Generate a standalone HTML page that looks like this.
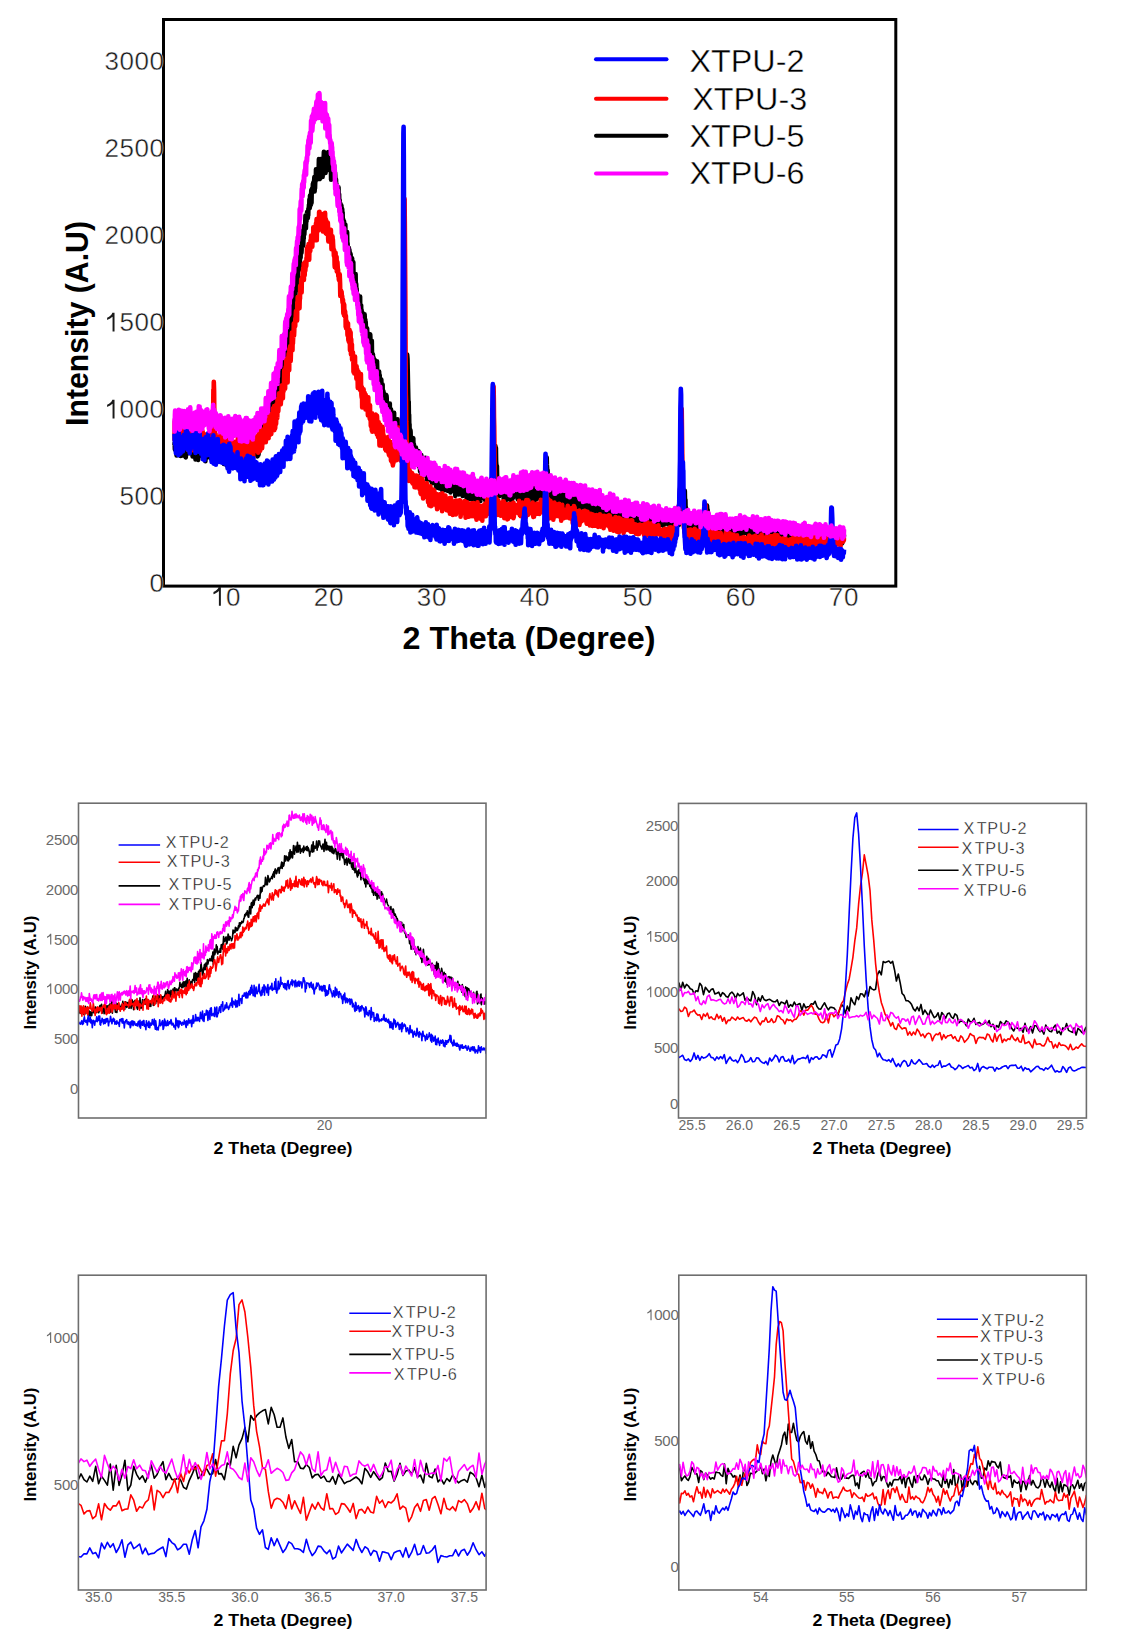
<!DOCTYPE html>
<html><head><meta charset="utf-8"><style>
html,body{margin:0;padding:0;background:#fff;}
svg{display:block;}
</style></head><body>
<svg width="1123" height="1651" viewBox="0 0 1123 1651">
<rect width="1123" height="1651" fill="#fff"/>
<defs><clipPath id="cmain"><rect x="165" y="21" width="729" height="563"/></clipPath></defs>
<g clip-path="url(#cmain)">
<polyline fill="none" stroke="#000000" stroke-width="4.6" stroke-linejoin="round"  points="174.5,445.2 174.7,442.8 174.9,449.4 175.1,447.4 175.3,437.4 175.5,443.8 175.7,450.5 175.9,443.3 176.1,447.0 176.4,439.5 176.6,455.5 176.8,446.8 177.0,442.3 177.2,453.8 177.4,451.1 177.6,444.9 177.8,447.1 178.0,448.9 178.2,445.8 178.4,454.4 178.6,451.6 178.8,438.5 179.0,450.6 179.2,445.1 179.4,447.6 179.7,443.0 179.9,445.6 180.1,445.3 180.3,441.4 180.5,445.7 180.7,455.9 180.9,450.7 181.1,440.1 181.3,441.9 181.5,448.5 181.7,455.4 181.9,450.9 182.1,436.8 182.3,441.2 182.5,441.1 182.7,455.5 182.9,454.2 183.2,450.3 183.4,454.2 183.6,446.7 183.8,452.9 184.0,444.9 184.2,448.4 184.4,450.2 184.6,444.0 184.8,445.1 185.0,446.7 185.2,449.2 185.4,447.6 185.6,457.1 185.8,457.3 186.0,450.8 186.2,446.7 186.4,438.4 186.7,445.4 186.9,452.4 187.1,449.9 187.3,453.8 187.5,447.6 187.7,447.9 187.9,447.6 188.1,446.1 188.3,442.2 188.5,444.0 188.7,453.3 188.9,443.3 189.1,452.7 189.3,445.6 189.5,447.1 189.7,439.1 189.9,448.1 190.2,448.1 190.4,449.0 190.6,443.3 190.8,446.1 191.0,449.1 191.2,443.5 191.4,437.2 191.6,439.6 191.8,440.2 192.0,450.5 192.2,448.3 192.4,447.1 192.6,456.5 192.8,439.3 193.0,455.2 193.2,445.9 193.5,454.2 193.7,447.4 193.9,443.9 194.1,445.4 194.3,452.4 194.5,451.4 194.7,443.4 194.9,448.5 195.1,447.6 195.3,443.5 195.5,459.5 195.7,446.9 195.9,441.9 196.1,439.3 196.3,444.9 196.5,452.0 196.7,443.5 197.0,439.0 197.2,451.6 197.4,452.1 197.6,449.2 197.8,450.6 198.0,458.8 198.2,459.9 198.4,455.2 198.6,451.8 198.8,446.5 199.0,451.4 199.2,447.9 199.4,441.9 199.6,437.7 199.8,444.5 200.0,453.8 200.2,444.0 200.5,449.0 200.7,447.3 200.9,444.2 201.1,445.2 201.3,455.7 201.5,454.9 201.7,447.9 201.9,445.7 202.1,438.8 202.3,446.3 202.5,451.2 202.7,451.8 202.9,453.0 203.1,456.0 203.3,456.0 203.5,452.3 203.8,449.1 204.0,453.5 204.2,449.6 204.4,451.1 204.6,450.9 204.8,452.0 205.0,448.4 205.2,449.8 205.4,461.2 205.6,448.6 205.8,449.5 206.0,453.1 206.2,449.2 206.4,453.6 206.6,449.6 206.8,454.6 207.0,446.9 207.3,448.6 207.5,457.5 207.7,453.8 207.9,446.9 208.1,448.4 208.3,449.8 208.5,456.2 208.7,454.0 208.9,449.8 209.1,449.2 209.3,450.8 209.5,454.9 209.7,451.9 209.9,453.3 210.1,456.6 210.3,456.4 210.6,455.0 210.8,458.4 211.0,448.7 211.2,447.3 211.4,446.8 211.6,455.0 211.8,454.9 212.0,450.1 212.2,453.6 212.4,452.9 212.6,453.0 212.8,459.4 213.0,445.2 213.2,458.6 213.4,459.4 213.6,447.7 213.8,457.1 214.1,446.5 214.3,450.1 214.5,450.1 214.7,453.7 214.9,458.9 215.1,457.8 215.3,451.5 215.5,452.6 215.7,458.0 215.9,457.7 216.1,456.4 216.3,452.5 216.5,450.1 216.7,447.9 216.9,454.2 217.1,445.4 217.3,448.9 217.6,445.3 217.8,456.8 218.0,449.8 218.2,447.3 218.4,461.4 218.6,448.2 218.8,450.8 219.0,448.4 219.2,452.1 219.4,447.4 219.6,455.1 219.8,455.6 220.0,449.6 220.2,449.6 220.4,459.7 220.6,447.4 220.8,447.6 221.1,448.3 221.3,456.9 221.5,447.3 221.7,451.0 221.9,449.0 222.1,453.8 222.3,455.7 222.5,457.1 222.7,456.7 222.9,449.4 223.1,457.6 223.3,456.8 223.5,452.3 223.7,455.2 223.9,463.9 224.1,457.2 224.4,455.8 224.6,446.3 224.8,450.9 225.0,459.0 225.2,459.6 225.4,456.5 225.6,453.2 225.8,458.1 226.0,452.3 226.2,461.2 226.4,452.8 226.6,448.7 226.8,465.5 227.0,454.7 227.2,453.3 227.4,452.4 227.6,454.1 227.9,455.0 228.1,453.3 228.3,454.2 228.5,454.3 228.7,447.2 228.9,449.9 229.1,450.4 229.3,457.9 229.5,457.3 229.7,449.9 229.9,460.0 230.1,450.1 230.3,461.5 230.5,444.9 230.7,449.1 230.9,457.8 231.2,457.4 231.4,465.0 231.6,455.5 231.8,449.5 232.0,452.3 232.2,456.6 232.4,445.5 232.6,452.7 232.8,453.4 233.0,456.8 233.2,452.6 233.4,444.5 233.6,453.3 233.8,463.5 234.0,454.4 234.2,446.3 234.4,449.8 234.7,458.0 234.9,453.9 235.1,462.6 235.3,452.5 235.5,459.8 235.7,458.1 235.9,458.3 236.1,459.0 236.3,447.4 236.5,448.5 236.7,457.0 236.9,455.1 237.1,447.5 237.3,456.9 237.5,457.7 237.7,459.6 237.9,448.0 238.2,454.7 238.4,455.5 238.6,457.5 238.8,459.8 239.0,450.9 239.2,459.1 239.4,457.9 239.6,463.4 239.8,460.6 240.0,457.8 240.2,457.6 240.4,462.5 240.6,458.2 240.8,455.9 241.0,466.1 241.2,452.3 241.4,456.4 241.7,461.5 241.9,456.4 242.1,452.9 242.3,455.0 242.5,454.7 242.7,454.8 242.9,451.7 243.1,461.3 243.3,457.6 243.5,452.9 243.7,454.5 243.9,459.7 244.1,455.9 244.3,457.9 244.5,454.4 244.7,462.4 245.0,462.2 245.2,461.3 245.4,454.9 245.6,443.1 245.8,449.4 246.0,448.2 246.2,454.0 246.4,446.3 246.6,452.2 246.8,453.5 247.0,448.6 247.2,459.6 247.4,464.3 247.6,459.3 247.8,446.7 248.0,449.1 248.2,452.4 248.5,454.4 248.7,453.9 248.9,451.1 249.1,457.1 249.3,449.0 249.5,457.4 249.7,446.0 249.9,454.0 250.1,456.7 250.3,453.5 250.5,456.5 250.7,452.5 250.9,460.5 251.1,453.9 251.3,451.0 251.5,449.3 251.8,452.9 252.0,444.9 252.2,458.9 252.4,451.5 252.6,452.7 252.8,450.1 253.0,451.2 253.2,442.9 253.4,449.5 253.6,453.9 253.8,437.8 254.0,448.7 254.2,449.5 254.4,444.1 254.6,451.2 254.8,449.2 255.0,443.6 255.3,453.5 255.5,449.7 255.7,442.5 255.9,438.0 256.1,447.1 256.3,447.0 256.5,440.8 256.7,453.4 256.9,449.3 257.1,449.5 257.3,455.6 257.5,456.3 257.7,446.8 257.9,439.9 258.1,440.8 258.3,437.5 258.5,454.8 258.8,443.9 259.0,436.1 259.2,446.9 259.4,448.7 259.6,440.0 259.8,441.3 260.0,437.7 260.2,440.6 260.4,433.8 260.6,436.2 260.8,438.0 261.0,440.8 261.2,434.8 261.4,441.4 261.6,432.6 261.8,431.1 262.1,431.7 262.3,442.8 262.5,433.4 262.7,433.3 262.9,430.2 263.1,442.4 263.3,436.9 263.5,433.7 263.7,425.4 263.9,435.4 264.1,427.0 264.3,430.5 264.5,420.5 264.7,428.5 264.9,438.3 265.1,430.7 265.3,427.3 265.6,421.4 265.8,424.1 266.0,428.6 266.2,433.4 266.4,425.9 266.6,426.2 266.8,417.9 267.0,419.5 267.2,431.6 267.4,435.6 267.6,425.2 267.8,421.0 268.0,427.2 268.2,424.2 268.4,414.4 268.6,416.3 268.8,429.3 269.1,417.3 269.3,417.8 269.5,419.3 269.7,414.5 269.9,413.8 270.1,403.9 270.3,414.6 270.5,419.4 270.7,417.6 270.9,410.2 271.1,402.8 271.3,409.6 271.5,409.4 271.7,410.3 271.9,413.7 272.1,410.2 272.4,416.9 272.6,405.2 272.8,406.1 273.0,407.1 273.2,412.4 273.4,408.3 273.6,409.5 273.8,403.8 274.0,406.5 274.2,402.1 274.4,398.2 274.6,395.5 274.8,408.1 275.0,403.4 275.2,407.1 275.4,392.8 275.6,404.3 275.9,390.8 276.1,400.9 276.3,391.2 276.5,399.6 276.7,397.0 276.9,394.2 277.1,393.6 277.3,394.3 277.5,388.7 277.7,384.7 277.9,385.9 278.1,393.1 278.3,400.5 278.5,387.8 278.7,401.1 278.9,382.7 279.1,382.1 279.4,392.4 279.6,380.6 279.8,387.2 280.0,374.5 280.2,385.9 280.4,385.4 280.6,383.4 280.8,376.9 281.0,383.8 281.2,362.5 281.4,377.7 281.6,363.4 281.8,375.1 282.0,374.2 282.2,375.6 282.4,374.9 282.6,366.3 282.9,360.4 283.1,366.2 283.3,371.5 283.5,363.4 283.7,368.6 283.9,376.8 284.1,360.6 284.3,371.5 284.5,363.2 284.7,357.6 284.9,359.4 285.1,357.4 285.3,344.5 285.5,347.2 285.7,342.3 285.9,349.7 286.2,348.4 286.4,337.1 286.6,351.7 286.8,344.1 287.0,344.3 287.2,342.0 287.4,338.8 287.6,340.8 287.8,335.0 288.0,344.9 288.2,334.6 288.4,343.8 288.6,328.2 288.8,327.6 289.0,334.3 289.2,335.1 289.4,330.5 289.7,325.2 289.9,338.0 290.1,333.2 290.3,318.5 290.5,325.0 290.7,327.6 290.9,330.3 291.1,321.2 291.3,325.5 291.5,315.9 291.7,315.4 291.9,305.6 292.1,317.6 292.3,307.9 292.5,314.5 292.7,312.3 292.9,307.3 293.2,308.6 293.4,295.4 293.6,302.2 293.8,303.8 294.0,288.8 294.2,301.1 294.4,297.8 294.6,295.6 294.8,296.7 295.0,289.0 295.2,284.9 295.4,294.7 295.6,289.7 295.8,287.7 296.0,291.0 296.2,289.2 296.5,283.5 296.7,284.6 296.9,277.6 297.1,273.9 297.3,275.5 297.5,273.6 297.7,277.9 297.9,275.1 298.1,269.2 298.3,267.1 298.5,268.8 298.7,264.6 298.9,267.0 299.1,270.0 299.3,261.7 299.5,263.9 299.7,268.6 300.0,255.3 300.2,256.1 300.4,253.2 300.6,257.6 300.8,246.9 301.0,250.4 301.2,246.7 301.4,253.2 301.6,250.3 301.8,241.3 302.0,246.3 302.2,244.8 302.4,236.4 302.6,236.7 302.8,239.9 303.0,230.5 303.2,245.7 303.5,237.6 303.7,238.7 303.9,227.6 304.1,225.8 304.3,234.6 304.5,230.4 304.7,225.2 304.9,226.1 305.1,226.1 305.3,221.4 305.5,215.5 305.7,223.3 305.9,228.3 306.1,222.2 306.3,220.7 306.5,221.3 306.8,214.8 307.0,213.6 307.2,211.7 307.4,212.7 307.6,212.8 307.8,218.2 308.0,213.8 308.2,215.4 308.4,208.5 308.6,209.7 308.8,208.3 309.0,204.5 309.2,207.6 309.4,199.8 309.6,198.9 309.8,208.0 310.0,195.6 310.3,202.9 310.5,203.9 310.7,200.8 310.9,204.6 311.1,195.5 311.3,190.1 311.5,202.9 311.7,192.1 311.9,190.3 312.1,188.9 312.3,188.0 312.5,188.1 312.7,191.8 312.9,183.9 313.1,185.9 313.3,182.6 313.6,184.2 313.8,186.2 314.0,184.3 314.2,180.0 314.4,177.0 314.6,191.4 314.8,187.4 315.0,188.4 315.2,181.9 315.4,181.9 315.6,176.7 315.8,178.6 316.0,169.4 316.2,178.9 316.4,178.8 316.6,178.8 316.8,175.5 317.1,172.5 317.3,175.4 317.5,177.2 317.7,179.1 317.9,170.5 318.1,174.0 318.3,175.9 318.5,171.8 318.7,168.4 318.9,159.1 319.1,161.0 319.3,174.0 319.5,171.4 319.7,179.0 319.9,178.8 320.1,177.9 320.3,163.2 320.6,168.5 320.8,175.2 321.0,170.8 321.2,169.6 321.4,170.2 321.6,158.8 321.8,176.5 322.0,168.5 322.2,164.6 322.4,163.1 322.6,177.0 322.8,164.3 323.0,171.7 323.2,168.0 323.4,173.1 323.6,160.5 323.9,151.9 324.1,158.9 324.3,165.7 324.5,173.3 324.7,159.2 324.9,157.4 325.1,169.5 325.3,158.6 325.5,173.0 325.7,170.1 325.9,162.5 326.1,170.6 326.3,159.2 326.5,155.6 326.7,162.8 326.9,160.5 327.1,154.7 327.4,160.4 327.6,156.3 327.8,155.7 328.0,169.0 328.2,152.0 328.4,157.5 328.6,163.1 328.8,159.8 329.0,162.7 329.2,163.4 329.4,170.1 329.6,167.3 329.8,167.2 330.0,160.1 330.2,163.6 330.4,164.4 330.6,167.5 330.9,160.7 331.1,179.8 331.3,172.9 331.5,163.6 331.7,171.2 331.9,166.1 332.1,161.7 332.3,166.3 332.5,178.7 332.7,172.6 332.9,178.0 333.1,170.0 333.3,167.6 333.5,174.8 333.7,171.4 333.9,175.6 334.1,165.1 334.4,175.0 334.6,175.1 334.8,174.1 335.0,172.4 335.2,175.1 335.4,179.8 335.6,180.3 335.8,178.9 336.0,179.6 336.2,185.6 336.4,187.8 336.6,187.2 336.8,184.8 337.0,190.6 337.2,195.1 337.4,192.4 337.7,194.5 337.9,190.1 338.1,197.0 338.3,197.6 338.5,187.2 338.7,195.6 338.9,203.7 339.1,194.0 339.3,203.0 339.5,206.3 339.7,200.0 339.9,211.4 340.1,205.7 340.3,203.6 340.5,203.7 340.7,211.1 340.9,212.0 341.2,211.0 341.4,205.6 341.6,221.5 341.8,209.6 342.0,213.3 342.2,209.0 342.4,222.3 342.6,212.2 342.8,223.2 343.0,218.5 343.2,222.9 343.4,233.4 343.6,223.4 343.8,222.2 344.0,221.0 344.2,229.3 344.4,232.9 344.7,224.9 344.9,231.1 345.1,225.3 345.3,224.5 345.5,233.6 345.7,234.3 345.9,238.0 346.1,245.3 346.3,236.7 346.5,234.2 346.7,233.6 346.9,239.9 347.1,232.0 347.3,244.3 347.5,243.0 347.7,246.5 348.0,247.1 348.2,247.3 348.4,250.3 348.6,250.1 348.8,247.8 349.0,249.7 349.2,256.1 349.4,249.9 349.6,257.1 349.8,252.2 350.0,255.1 350.2,265.4 350.4,262.3 350.6,254.1 350.8,262.6 351.0,263.7 351.2,263.8 351.5,262.3 351.7,261.2 351.9,266.3 352.1,258.3 352.3,269.7 352.5,270.3 352.7,270.1 352.9,269.6 353.1,264.7 353.3,262.0 353.5,275.1 353.7,275.4 353.9,272.8 354.1,277.3 354.3,273.9 354.5,283.7 354.8,276.1 355.0,290.9 355.2,279.7 355.4,280.2 355.6,274.0 355.8,289.4 356.0,283.2 356.2,284.5 356.4,292.6 356.6,288.3 356.8,294.3 357.0,296.7 357.2,299.3 357.4,294.6 357.6,299.3 357.8,304.8 358.0,295.4 358.3,305.2 358.5,295.7 358.7,298.6 358.9,304.3 359.1,308.6 359.3,306.6 359.5,309.5 359.7,306.2 359.9,307.1 360.1,296.6 360.3,316.5 360.5,310.9 360.7,306.9 360.9,305.8 361.1,305.4 361.3,316.3 361.5,309.5 361.8,323.7 362.0,315.8 362.2,312.1 362.4,313.6 362.6,323.6 362.8,322.0 363.0,328.5 363.2,323.4 363.4,327.0 363.6,320.9 363.8,326.1 364.0,319.7 364.2,325.4 364.4,327.8 364.6,314.4 364.8,319.3 365.1,337.1 365.3,319.6 365.5,324.7 365.7,321.8 365.9,328.5 366.1,344.5 366.3,335.8 366.5,349.3 366.7,344.4 366.9,340.5 367.1,328.2 367.3,337.2 367.5,336.9 367.7,334.3 367.9,346.0 368.1,333.5 368.3,340.2 368.6,348.9 368.8,347.1 369.0,345.8 369.2,341.0 369.4,336.4 369.6,348.6 369.8,348.9 370.0,336.4 370.2,334.3 370.4,338.1 370.6,349.4 370.8,353.8 371.0,347.9 371.2,351.1 371.4,359.1 371.6,346.0 371.8,340.9 372.1,361.8 372.3,362.2 372.5,361.2 372.7,366.9 372.9,354.4 373.1,369.6 373.3,356.9 373.5,359.4 373.7,358.0 373.9,373.0 374.1,363.4 374.3,363.4 374.5,360.3 374.7,364.3 374.9,371.2 375.1,361.1 375.4,360.3 375.6,361.3 375.8,375.3 376.0,368.1 376.2,377.8 376.4,373.9 376.6,368.9 376.8,383.3 377.0,361.2 377.2,368.3 377.4,381.4 377.6,380.9 377.8,378.6 378.0,379.7 378.2,387.0 378.4,381.1 378.6,390.5 378.9,385.5 379.1,371.5 379.3,383.5 379.5,386.2 379.7,375.0 379.9,383.3 380.1,382.1 380.3,390.0 380.5,380.6 380.7,389.9 380.9,383.3 381.1,385.4 381.3,379.5 381.5,384.5 381.7,391.2 381.9,398.1 382.1,394.2 382.4,397.1 382.6,384.5 382.8,396.8 383.0,408.0 383.2,393.1 383.4,391.1 383.6,402.0 383.8,392.9 384.0,405.5 384.2,396.9 384.4,399.9 384.6,397.7 384.8,397.6 385.0,404.6 385.2,396.6 385.4,404.8 385.6,401.8 385.9,394.8 386.1,409.0 386.3,403.8 386.5,395.6 386.7,398.1 386.9,409.9 387.1,410.2 387.3,404.0 387.5,411.5 387.7,407.9 387.9,416.7 388.1,405.8 388.3,419.2 388.5,409.8 388.7,407.1 388.9,415.4 389.2,421.1 389.4,419.9 389.6,424.1 389.8,403.6 390.0,425.2 390.2,422.0 390.4,413.4 390.6,415.5 390.8,410.4 391.0,409.3 391.2,414.6 391.4,418.0 391.6,421.2 391.8,419.5 392.0,413.6 392.2,415.9 392.4,416.3 392.7,429.5 392.9,424.8 393.1,424.8 393.3,424.4 393.5,427.7 393.7,418.4 393.9,416.7 394.1,412.9 394.3,426.3 394.5,424.3 394.7,423.6 394.9,424.6 395.1,429.5 395.3,420.9 395.5,436.8 395.7,428.7 396.0,436.9 396.2,423.5 396.4,434.9 396.6,434.1 396.8,428.3 397.0,434.3 397.2,427.7 397.4,431.6 397.6,419.4 397.8,437.0 398.0,435.3 398.2,428.2 398.4,431.1 398.6,429.7 398.8,434.1 399.0,427.8 399.2,431.4 399.5,426.5 399.7,441.1 399.9,432.8 400.1,435.6 400.3,432.5 400.5,439.7 400.7,430.6 400.9,442.0 401.1,430.2 401.3,432.0 401.5,444.2 401.7,432.4 401.9,444.3 402.1,430.6 402.3,441.2 402.5,432.1 402.7,431.7 403.0,437.0 403.2,436.0 403.4,421.0 403.6,423.2 403.8,411.9 404.0,415.1 404.2,401.3 404.4,410.5 404.6,401.2 404.8,407.5 405.0,407.2 405.2,402.2 405.4,405.2 405.6,399.7 405.8,381.7 406.0,384.5 406.2,382.5 406.5,367.1 406.7,368.7 406.9,360.6 407.1,354.6 407.3,356.4 407.5,358.9 407.7,369.3 407.9,379.9 408.1,388.6 408.3,397.7 408.5,406.6 408.7,401.6 408.9,418.8 409.1,414.5 409.3,427.7 409.5,424.0 409.8,444.4 410.0,434.3 410.2,440.0 410.4,430.1 410.6,431.7 410.8,443.7 411.0,441.9 411.2,437.6 411.4,441.6 411.6,443.4 411.8,439.6 412.0,451.9 412.2,437.7 412.4,444.3 412.6,458.7 412.8,452.5 413.0,448.9 413.3,438.3 413.5,449.7 413.7,457.8 413.9,444.0 414.1,449.4 414.3,452.0 414.5,447.2 414.7,454.9 414.9,454.1 415.1,449.0 415.3,452.3 415.5,450.2 415.7,457.3 415.9,447.6 416.1,463.3 416.3,463.5 416.6,454.6 416.8,459.0 417.0,456.8 417.2,458.0 417.4,459.3 417.6,464.1 417.8,457.7 418.0,453.2 418.2,464.0 418.4,451.0 418.6,452.9 418.8,464.9 419.0,457.3 419.2,466.8 419.4,462.4 419.6,467.3 419.8,464.9 420.1,471.5 420.3,463.6 420.5,468.2 420.7,467.7 420.9,473.1 421.1,463.7 421.3,455.1 421.5,466.1 421.7,465.3 421.9,470.2 422.1,467.3 422.3,469.3 422.5,472.8 422.7,469.8 422.9,468.2 423.1,464.5 423.3,467.7 423.6,465.0 423.8,460.4 424.0,462.3 424.2,468.8 424.4,475.3 424.6,468.0 424.8,466.9 425.0,462.7 425.2,466.9 425.4,457.9 425.6,469.4 425.8,464.9 426.0,472.4 426.2,473.0 426.4,469.8 426.6,467.7 426.9,465.5 427.1,479.7 427.3,463.8 427.5,462.2 427.7,463.1 427.9,465.6 428.1,470.3 428.3,467.3 428.5,464.1 428.7,474.9 428.9,467.4 429.1,468.4 429.3,471.6 429.5,462.9 429.7,474.7 429.9,476.3 430.1,472.2 430.4,475.1 430.6,466.3 430.8,480.4 431.0,479.1 431.2,471.9 431.4,470.2 431.6,479.3 431.8,468.2 432.0,483.3 432.2,470.1 432.4,479.1 432.6,477.5 432.8,467.4 433.0,476.2 433.2,479.1 433.4,475.3 433.6,468.1 433.9,476.7 434.1,480.7 434.3,476.5 434.5,483.3 434.7,481.0 434.9,480.7 435.1,475.4 435.3,480.7 435.5,476.6 435.7,473.7 435.9,472.0 436.1,486.8 436.3,479.6 436.5,484.6 436.7,476.8 436.9,478.6 437.1,479.9 437.4,482.4 437.6,484.4 437.8,487.8 438.0,476.1 438.2,481.4 438.4,480.5 438.6,479.3 438.8,477.4 439.0,472.6 439.2,481.9 439.4,478.3 439.6,488.5 439.8,483.2 440.0,484.7 440.2,484.4 440.4,476.6 440.7,481.4 440.9,481.6 441.1,481.7 441.3,483.1 441.5,483.2 441.7,485.2 441.9,484.8 442.1,484.4 442.3,483.4 442.5,490.9 442.7,482.5 442.9,483.0 443.1,481.1 443.3,487.9 443.5,487.2 443.7,479.7 443.9,486.5 444.2,481.3 444.4,486.4 444.6,488.8 444.8,490.0 445.0,486.4 445.2,485.8 445.4,489.2 445.6,477.8 445.8,483.9 446.0,488.0 446.2,477.7 446.4,480.7 446.6,487.6 446.8,488.8 447.0,485.3 447.2,481.4 447.5,490.7 447.7,479.7 447.9,486.4 448.1,481.2 448.3,485.5 448.5,482.8 448.7,482.2 448.9,479.5 449.1,488.2 449.3,477.1 449.5,490.8 449.7,484.0 449.9,482.5 450.1,485.4 450.3,481.7 450.5,492.5 450.7,485.8 451.0,481.4 451.2,485.7 451.4,490.6 451.6,485.2 451.8,485.2 452.0,490.3 452.2,480.4 452.4,488.5 452.6,490.6 452.8,485.8 453.0,489.1 453.2,487.2 453.4,485.5 453.6,488.3 453.8,484.1 454.0,485.4 454.2,481.6 454.5,491.1 454.7,486.6 454.9,485.9 455.1,485.8 455.3,496.0 455.5,491.7 455.7,485.9 455.9,484.9 456.1,487.3 456.3,486.7 456.5,482.3 456.7,489.1 456.9,490.9 457.1,481.4 457.3,485.2 457.5,488.6 457.8,491.0 458.0,481.2 458.2,489.3 458.4,491.6 458.6,482.9 458.8,494.5 459.0,489.0 459.2,485.8 459.4,489.7 459.6,490.8 459.8,486.8 460.0,493.8 460.2,489.7 460.4,485.8 460.6,493.5 460.8,483.2 461.0,489.9 461.3,489.4 461.5,491.2 461.7,486.8 461.9,491.3 462.1,488.4 462.3,484.2 462.5,484.3 462.7,495.9 462.9,484.0 463.1,491.8 463.3,488.5 463.5,489.4 463.7,488.7 463.9,492.4 464.1,487.6 464.3,485.8 464.5,492.5 464.8,490.2 465.0,486.8 465.2,485.8 465.4,488.9 465.6,489.3 465.8,488.4 466.0,491.9 466.2,489.1 466.4,491.7 466.6,492.1 466.8,500.3 467.0,498.2 467.2,489.2 467.4,487.7 467.6,489.0 467.8,490.5 468.1,492.2 468.3,488.6 468.5,492.7 468.7,491.1 468.9,484.9 469.1,496.9 469.3,493.6 469.5,492.2 469.7,499.2 469.9,496.2 470.1,486.9 470.3,489.2 470.5,491.9 470.7,485.9 470.9,495.5 471.1,483.5 471.3,491.7 471.6,493.9 471.8,486.9 472.0,489.3 472.2,490.6 472.4,492.0 472.6,499.0 472.8,500.1 473.0,491.5 473.2,487.5 473.4,494.8 473.6,491.1 473.8,498.0 474.0,497.7 474.2,491.8 474.4,488.6 474.6,488.5 474.8,486.5 475.1,494.8 475.3,492.2 475.5,488.3 475.7,495.8 475.9,492.8 476.1,491.5 476.3,491.6 476.5,487.9 476.7,489.8 476.9,493.4 477.1,500.9 477.3,488.3 477.5,487.4 477.7,489.4 477.9,490.1 478.1,489.7 478.4,486.5 478.6,493.7 478.8,491.8 479.0,495.7 479.2,492.4 479.4,494.9 479.6,494.9 479.8,499.8 480.0,491.9 480.2,487.3 480.4,500.9 480.6,486.3 480.8,491.7 481.0,494.4 481.2,490.3 481.4,492.6 481.6,491.9 481.9,485.7 482.1,490.8 482.3,490.0 482.5,492.6 482.7,492.3 482.9,495.3 483.1,492.0 483.3,494.8 483.5,486.8 483.7,492.5 483.9,488.5 484.1,486.2 484.3,487.3 484.5,494.3 484.7,484.6 484.9,499.4 485.1,485.6 485.4,500.8 485.6,495.3 485.8,491.8 486.0,494.5 486.2,500.3 486.4,497.7 486.6,490.5 486.8,498.6 487.0,488.9 487.2,486.8 487.4,485.9 487.6,490.5 487.8,491.7 488.0,493.2 488.2,482.3 488.4,486.5 488.7,488.9 488.9,490.1 489.1,486.9 489.3,499.3 489.5,487.8 489.7,493.7 489.9,500.6 490.1,486.7 490.3,494.4 490.5,489.4 490.7,494.1 490.9,492.6 491.1,484.1 491.3,489.2 491.5,488.6 491.7,496.3 491.9,485.4 492.2,491.0 492.4,485.4 492.6,490.2 492.8,482.7 493.0,479.9 493.2,485.7 493.4,475.4 493.6,477.1 493.8,464.8 494.0,464.7 494.2,462.2 494.4,449.7 494.6,452.2 494.8,454.7 495.0,448.0 495.2,449.8 495.4,446.0 495.7,457.4 495.9,447.7 496.1,461.1 496.3,464.2 496.5,469.5 496.7,471.5 496.9,466.0 497.1,476.4 497.3,484.5 497.5,483.3 497.7,483.8 497.9,482.6 498.1,489.3 498.3,488.3 498.5,480.8 498.7,491.1 499.0,490.6 499.2,496.3 499.4,487.8 499.6,493.8 499.8,484.5 500.0,487.2 500.2,489.0 500.4,494.5 500.6,493.9 500.8,494.1 501.0,492.3 501.2,494.1 501.4,495.0 501.6,492.4 501.8,492.9 502.0,494.4 502.2,489.2 502.5,488.7 502.7,495.3 502.9,484.2 503.1,491.5 503.3,488.0 503.5,485.3 503.7,498.9 503.9,491.0 504.1,489.4 504.3,488.2 504.5,489.9 504.7,489.0 504.9,499.4 505.1,497.1 505.3,490.8 505.5,501.6 505.7,495.5 506.0,494.0 506.2,491.7 506.4,489.5 506.6,492.2 506.8,496.7 507.0,497.2 507.2,491.6 507.4,490.9 507.6,491.7 507.8,492.7 508.0,492.8 508.2,499.0 508.4,493.4 508.6,490.2 508.8,497.9 509.0,491.5 509.2,490.4 509.5,484.2 509.7,493.6 509.9,494.3 510.1,498.3 510.3,497.8 510.5,500.0 510.7,500.7 510.9,490.4 511.1,493.4 511.3,492.1 511.5,499.9 511.7,501.7 511.9,500.7 512.1,486.7 512.3,488.7 512.5,498.9 512.8,492.9 513.0,492.6 513.2,497.4 513.4,496.0 513.6,489.4 513.8,490.4 514.0,489.6 514.2,492.0 514.4,492.8 514.6,491.3 514.8,494.0 515.0,486.3 515.2,492.4 515.4,491.1 515.6,493.7 515.8,496.1 516.0,493.5 516.3,494.7 516.5,496.6 516.7,490.0 516.9,485.1 517.1,492.1 517.3,493.7 517.5,496.3 517.7,499.4 517.9,490.8 518.1,490.9 518.3,496.6 518.5,493.0 518.7,496.8 518.9,487.4 519.1,492.8 519.3,491.5 519.5,486.3 519.8,502.5 520.0,491.6 520.2,492.2 520.4,494.5 520.6,493.2 520.8,488.1 521.0,496.0 521.2,495.9 521.4,486.1 521.6,489.0 521.8,491.2 522.0,489.9 522.2,492.9 522.4,494.4 522.6,493.8 522.8,491.9 523.1,495.1 523.3,499.8 523.5,493.9 523.7,492.0 523.9,493.7 524.1,490.4 524.3,492.0 524.5,489.2 524.7,492.7 524.9,493.9 525.1,490.8 525.3,489.5 525.5,495.0 525.7,496.7 525.9,487.7 526.1,495.3 526.3,491.6 526.6,495.1 526.8,492.3 527.0,487.5 527.2,486.3 527.4,498.5 527.6,499.1 527.8,502.6 528.0,490.8 528.2,486.8 528.4,492.1 528.6,494.4 528.8,489.8 529.0,497.0 529.2,490.5 529.4,487.7 529.6,488.1 529.9,490.3 530.1,495.2 530.3,494.5 530.5,496.9 530.7,485.6 530.9,488.1 531.1,493.4 531.3,493.5 531.5,492.2 531.7,495.9 531.9,491.1 532.1,491.2 532.3,491.4 532.5,493.0 532.7,502.6 532.9,494.0 533.1,499.0 533.4,500.1 533.6,484.3 533.8,495.2 534.0,494.0 534.2,494.5 534.4,496.7 534.6,486.6 534.8,500.8 535.0,491.3 535.2,495.6 535.4,488.0 535.6,489.8 535.8,492.9 536.0,499.4 536.2,490.1 536.4,489.3 536.6,490.6 536.9,494.5 537.1,490.7 537.3,496.5 537.5,492.3 537.7,491.8 537.9,494.3 538.1,497.4 538.3,494.3 538.5,497.0 538.7,498.3 538.9,489.1 539.1,494.1 539.3,495.6 539.5,495.6 539.7,491.7 539.9,494.9 540.2,496.4 540.4,492.5 540.6,493.0 540.8,497.3 541.0,498.0 541.2,488.3 541.4,494.8 541.6,488.8 541.8,491.2 542.0,494.0 542.2,494.7 542.4,487.1 542.6,496.4 542.8,495.3 543.0,497.1 543.2,494.4 543.4,497.5 543.7,493.2 543.9,498.8 544.1,491.5 544.3,492.1 544.5,492.5 544.7,495.6 544.9,487.6 545.1,484.0 545.3,491.5 545.5,492.1 545.7,483.2 545.9,482.3 546.1,475.3 546.3,467.0 546.5,469.6 546.7,457.6 546.9,464.9 547.2,469.3 547.4,471.5 547.6,470.2 547.8,484.4 548.0,484.5 548.2,493.4 548.4,489.1 548.6,491.6 548.8,489.0 549.0,493.4 549.2,494.4 549.4,502.2 549.6,493.5 549.8,491.7 550.0,494.3 550.2,494.4 550.5,493.0 550.7,491.8 550.9,499.1 551.1,495.8 551.3,493.9 551.5,494.7 551.7,499.6 551.9,503.9 552.1,494.6 552.3,493.1 552.5,489.3 552.7,494.4 552.9,499.7 553.1,494.4 553.3,496.7 553.5,499.1 553.7,502.2 554.0,503.8 554.2,499.3 554.4,498.2 554.6,496.3 554.8,496.6 555.0,495.8 555.2,489.0 555.4,497.0 555.6,491.3 555.8,500.0 556.0,499.8 556.2,499.1 556.4,504.2 556.6,490.4 556.8,496.1 557.0,494.3 557.2,490.3 557.5,495.4 557.7,490.8 557.9,506.4 558.1,492.3 558.3,496.2 558.5,499.7 558.7,493.2 558.9,497.5 559.1,500.5 559.3,505.5 559.5,490.6 559.7,506.8 559.9,497.6 560.1,491.5 560.3,495.4 560.5,500.6 560.8,499.2 561.0,500.6 561.2,497.2 561.4,498.6 561.6,503.5 561.8,504.3 562.0,493.9 562.2,503.6 562.4,503.1 562.6,489.8 562.8,502.0 563.0,504.0 563.2,502.7 563.4,495.8 563.6,501.9 563.8,499.5 564.0,507.9 564.3,501.6 564.5,499.0 564.7,499.0 564.9,493.4 565.1,497.3 565.3,508.3 565.5,506.0 565.7,503.1 565.9,500.8 566.1,499.5 566.3,497.2 566.5,506.6 566.7,508.7 566.9,496.8 567.1,504.0 567.3,508.8 567.5,504.0 567.8,502.0 568.0,505.1 568.2,505.1 568.4,496.4 568.6,504.9 568.8,499.3 569.0,499.8 569.2,502.1 569.4,491.8 569.6,506.2 569.8,492.0 570.0,504.8 570.2,502.1 570.4,499.8 570.6,496.7 570.8,498.4 571.0,502.6 571.3,502.7 571.5,496.7 571.7,495.3 571.9,503.6 572.1,496.7 572.3,499.3 572.5,500.6 572.7,506.1 572.9,506.8 573.1,500.1 573.3,510.6 573.5,503.9 573.7,500.3 573.9,508.7 574.1,495.7 574.3,495.6 574.6,506.5 574.8,502.8 575.0,502.9 575.2,504.6 575.4,504.5 575.6,500.7 575.8,496.1 576.0,502.4 576.2,502.3 576.4,502.3 576.6,505.6 576.8,500.5 577.0,505.0 577.2,506.9 577.4,500.6 577.6,510.5 577.8,505.2 578.1,504.9 578.3,503.9 578.5,509.5 578.7,507.2 578.9,504.1 579.1,501.3 579.3,504.1 579.5,504.6 579.7,507.1 579.9,503.8 580.1,512.5 580.3,501.5 580.5,500.3 580.7,504.2 580.9,508.0 581.1,499.0 581.4,506.9 581.6,499.1 581.8,505.5 582.0,507.4 582.2,505.4 582.4,507.2 582.6,505.3 582.8,502.8 583.0,505.8 583.2,506.6 583.4,504.9 583.6,503.4 583.8,505.0 584.0,502.9 584.2,502.8 584.4,504.0 584.6,502.4 584.9,505.2 585.1,500.9 585.3,503.8 585.5,502.2 585.7,506.2 585.9,511.0 586.1,507.3 586.3,505.5 586.5,504.3 586.7,505.9 586.9,500.2 587.1,510.8 587.3,512.7 587.5,506.6 587.7,508.6 587.9,505.9 588.1,503.6 588.4,497.7 588.6,511.2 588.8,510.4 589.0,506.6 589.2,512.0 589.4,509.3 589.6,501.6 589.8,506.8 590.0,506.7 590.2,502.5 590.4,513.2 590.6,506.3 590.8,507.0 591.0,505.9 591.2,510.7 591.4,508.6 591.7,507.5 591.9,504.4 592.1,509.9 592.3,504.9 592.5,515.3 592.7,505.8 592.9,504.5 593.1,510.9 593.3,508.6 593.5,507.6 593.7,506.6 593.9,503.2 594.1,507.0 594.3,508.7 594.5,508.6 594.7,506.9 594.9,505.1 595.2,507.1 595.4,510.2 595.6,509.4 595.8,511.2 596.0,511.5 596.2,510.2 596.4,510.5 596.6,505.6 596.8,512.9 597.0,508.3 597.2,513.0 597.4,505.8 597.6,507.6 597.8,504.1 598.0,506.9 598.2,512.7 598.4,508.9 598.7,511.4 598.9,511.0 599.1,512.9 599.3,510.4 599.5,508.9 599.7,508.6 599.9,501.1 600.1,510.1 600.3,509.2 600.5,509.9 600.7,510.6 600.9,510.8 601.1,509.6 601.3,510.5 601.5,507.2 601.7,508.4 602.0,513.2 602.2,510.0 602.4,509.0 602.6,511.2 602.8,511.1 603.0,510.6 603.2,508.1 603.4,509.8 603.6,512.4 603.8,510.7 604.0,506.1 604.2,514.1 604.4,508.3 604.6,511.6 604.8,502.6 605.0,508.6 605.2,510.7 605.5,511.4 605.7,516.5 605.9,513.0 606.1,504.0 606.3,509.9 606.5,512.3 606.7,511.4 606.9,511.2 607.1,514.9 607.3,511.1 607.5,509.8 607.7,516.9 607.9,512.5 608.1,519.9 608.3,517.8 608.5,508.9 608.7,507.5 609.0,505.4 609.2,516.6 609.4,512.4 609.6,513.3 609.8,508.4 610.0,511.1 610.2,512.0 610.4,510.2 610.6,514.0 610.8,509.0 611.0,513.7 611.2,508.7 611.4,512.0 611.6,511.9 611.8,516.8 612.0,518.2 612.2,518.4 612.5,511.2 612.7,520.5 612.9,508.2 613.1,514.2 613.3,517.9 613.5,512.0 613.7,517.6 613.9,513.2 614.1,514.3 614.3,509.2 614.5,510.3 614.7,510.2 614.9,515.2 615.1,509.3 615.3,513.9 615.5,513.3 615.8,512.2 616.0,512.9 616.2,518.6 616.4,511.7 616.6,519.5 616.8,512.4 617.0,514.3 617.2,513.9 617.4,518.0 617.6,510.8 617.8,514.8 618.0,511.4 618.2,517.0 618.4,516.9 618.6,514.3 618.8,511.0 619.0,519.2 619.3,516.7 619.5,516.5 619.7,515.7 619.9,516.4 620.1,511.1 620.3,512.4 620.5,514.9 620.7,512.1 620.9,511.5 621.1,517.2 621.3,517.6 621.5,512.8 621.7,507.9 621.9,523.3 622.1,517.5 622.3,512.7 622.5,518.2 622.8,512.5 623.0,514.7 623.2,519.9 623.4,517.2 623.6,514.3 623.8,518.8 624.0,513.7 624.2,514.7 624.4,516.9 624.6,514.5 624.8,517.1 625.0,515.2 625.2,519.4 625.4,511.2 625.6,517.0 625.8,512.1 626.1,508.8 626.3,510.8 626.5,516.3 626.7,515.7 626.9,516.4 627.1,515.3 627.3,519.2 627.5,522.6 627.7,515.3 627.9,516.3 628.1,511.3 628.3,510.4 628.5,521.3 628.7,519.8 628.9,514.0 629.1,512.7 629.3,516.3 629.6,516.6 629.8,523.1 630.0,509.0 630.2,519.3 630.4,515.0 630.6,515.8 630.8,520.0 631.0,514.1 631.2,512.0 631.4,517.2 631.6,516.6 631.8,514.9 632.0,513.8 632.2,514.2 632.4,520.2 632.6,520.4 632.9,519.2 633.1,525.2 633.3,521.8 633.5,518.0 633.7,519.7 633.9,520.3 634.1,514.4 634.3,516.3 634.5,514.7 634.7,518.1 634.9,519.0 635.1,520.5 635.3,516.7 635.5,523.8 635.7,520.6 635.9,515.7 636.1,514.8 636.4,517.9 636.6,521.6 636.8,515.8 637.0,520.3 637.2,518.2 637.4,521.1 637.6,511.6 637.8,512.8 638.0,520.7 638.2,521.8 638.4,518.1 638.6,515.8 638.8,513.7 639.0,518.1 639.2,522.2 639.4,517.0 639.6,517.1 639.9,523.4 640.1,518.9 640.3,519.1 640.5,521.4 640.7,517.3 640.9,514.5 641.1,514.7 641.3,521.1 641.5,520.1 641.7,515.8 641.9,519.3 642.1,519.4 642.3,510.7 642.5,526.0 642.7,520.4 642.9,521.1 643.2,518.4 643.4,512.5 643.6,518.8 643.8,519.2 644.0,517.8 644.2,519.3 644.4,517.0 644.6,510.5 644.8,520.7 645.0,519.1 645.2,518.6 645.4,525.5 645.6,516.3 645.8,518.6 646.0,525.1 646.2,519.3 646.4,517.9 646.7,521.5 646.9,514.8 647.1,520.5 647.3,523.5 647.5,515.8 647.7,519.0 647.9,518.0 648.1,524.0 648.3,523.2 648.5,522.0 648.7,519.1 648.9,519.0 649.1,513.9 649.3,513.4 649.5,518.1 649.7,518.9 649.9,512.2 650.2,518.4 650.4,515.2 650.6,520.3 650.8,519.0 651.0,519.6 651.2,521.0 651.4,517.4 651.6,521.5 651.8,519.1 652.0,517.3 652.2,511.6 652.4,525.1 652.6,518.5 652.8,516.5 653.0,519.9 653.2,515.8 653.5,517.0 653.7,517.1 653.9,520.2 654.1,519.5 654.3,519.6 654.5,522.1 654.7,518.2 654.9,522.4 655.1,522.0 655.3,523.5 655.5,515.1 655.7,520.8 655.9,521.9 656.1,516.2 656.3,520.3 656.5,517.8 656.7,519.5 657.0,517.7 657.2,518.3 657.4,526.2 657.6,514.0 657.8,515.6 658.0,523.9 658.2,516.0 658.4,519.7 658.6,518.6 658.8,514.7 659.0,515.7 659.2,515.7 659.4,512.3 659.6,515.4 659.8,521.1 660.0,523.3 660.2,516.2 660.5,524.8 660.7,520.3 660.9,520.3 661.1,521.5 661.3,514.6 661.5,518.0 661.7,519.9 661.9,516.1 662.1,520.5 662.3,515.1 662.5,512.3 662.7,519.6 662.9,519.7 663.1,515.3 663.3,525.8 663.5,523.4 663.8,522.7 664.0,524.7 664.2,519.3 664.4,518.3 664.6,519.4 664.8,519.4 665.0,516.2 665.2,515.7 665.4,515.2 665.6,519.8 665.8,519.3 666.0,514.4 666.2,518.0 666.4,515.0 666.6,521.0 666.8,519.6 667.0,521.6 667.3,519.5 667.5,518.0 667.7,521.0 667.9,512.9 668.1,524.5 668.3,516.6 668.5,523.2 668.7,518.6 668.9,522.1 669.1,519.3 669.3,519.4 669.5,522.3 669.7,523.7 669.9,522.0 670.1,519.6 670.3,517.0 670.5,514.3 670.8,525.5 671.0,518.2 671.2,521.3 671.4,519.7 671.6,518.7 671.8,517.2 672.0,518.5 672.2,519.9 672.4,514.6 672.6,518.9 672.8,519.9 673.0,516.1 673.2,523.7 673.4,523.1 673.6,515.1 673.8,520.6 674.0,525.9 674.3,517.4 674.5,516.0 674.7,522.6 674.9,524.4 675.1,520.3 675.3,518.9 675.5,522.1 675.7,523.2 675.9,518.4 676.1,518.4 676.3,525.4 676.5,523.9 676.7,521.3 676.9,522.3 677.1,519.5 677.3,518.5 677.6,514.1 677.8,519.0 678.0,517.1 678.2,525.3 678.4,522.4 678.6,516.6 678.8,524.9 679.0,515.6 679.2,518.0 679.4,519.2 679.6,519.7 679.8,522.7 680.0,521.8 680.2,519.1 680.4,517.5 680.6,510.4 680.8,515.7 681.1,511.9 681.3,512.7 681.5,503.2 681.7,500.5 681.9,493.6 682.1,487.9 682.3,489.9 682.5,492.8 682.7,488.4 682.9,488.2 683.1,489.9 683.3,494.3 683.5,490.8 683.7,497.0 683.9,494.4 684.1,495.9 684.4,503.3 684.6,494.6 684.8,490.7 685.0,500.1 685.2,502.6 685.4,499.5 685.6,509.1 685.8,507.1 686.0,508.8 686.2,513.8 686.4,514.3 686.6,518.7 686.8,519.4 687.0,516.6 687.2,522.5 687.4,522.3 687.6,523.2 687.9,519.6 688.1,522.7 688.3,524.4 688.5,520.7 688.7,528.4 688.9,528.1 689.1,521.0 689.3,516.0 689.5,523.7 689.7,521.0 689.9,526.7 690.1,521.8 690.3,521.6 690.5,520.4 690.7,524.7 690.9,516.1 691.1,525.5 691.4,517.5 691.6,526.0 691.8,519.9 692.0,518.2 692.2,515.5 692.4,523.0 692.6,528.0 692.8,520.0 693.0,525.0 693.2,526.3 693.4,524.7 693.6,525.8 693.8,520.4 694.0,522.3 694.2,520.7 694.4,520.2 694.7,524.3 694.9,520.8 695.1,519.2 695.3,517.1 695.5,522.6 695.7,524.1 695.9,526.3 696.1,524.6 696.3,523.3 696.5,522.6 696.7,527.7 696.9,524.7 697.1,524.1 697.3,525.4 697.5,525.5 697.7,522.5 697.9,526.8 698.2,522.2 698.4,527.2 698.6,523.1 698.8,527.4 699.0,520.0 699.2,521.5 699.4,519.6 699.6,526.6 699.8,528.2 700.0,528.2 700.2,524.7 700.4,520.6 700.6,521.8 700.8,522.0 701.0,528.1 701.2,520.7 701.4,521.9 701.7,526.0 701.9,531.6 702.1,526.8 702.3,524.7 702.5,519.2 702.7,523.6 702.9,524.5 703.1,519.2 703.3,519.3 703.5,523.0 703.7,522.2 703.9,520.2 704.1,526.4 704.3,522.7 704.5,525.1 704.7,526.6 705.0,521.6 705.2,519.2 705.4,516.0 705.6,518.6 705.8,516.3 706.0,519.0 706.2,521.6 706.4,517.0 706.6,512.1 706.8,514.0 707.0,505.6 707.2,508.3 707.4,514.1 707.6,509.7 707.8,515.1 708.0,513.6 708.2,521.0 708.5,519.2 708.7,523.4 708.9,523.4 709.1,520.4 709.3,518.4 709.5,524.4 709.7,524.1 709.9,528.0 710.1,526.0 710.3,523.9 710.5,529.6 710.7,527.1 710.9,529.4 711.1,525.3 711.3,523.2 711.5,525.0 711.7,527.0 712.0,529.4 712.2,531.4 712.4,526.3 712.6,521.6 712.8,527.3 713.0,526.7 713.2,528.0 713.4,530.2 713.6,523.3 713.8,524.5 714.0,531.4 714.2,530.7 714.4,522.6 714.6,529.6 714.8,527.1 715.0,530.2 715.2,526.0 715.5,529.5 715.7,529.0 715.9,530.6 716.1,521.1 716.3,519.9 716.5,526.5 716.7,525.1 716.9,525.5 717.1,527.3 717.3,527.6 717.5,528.5 717.7,524.9 717.9,531.3 718.1,530.1 718.3,525.3 718.5,531.9 718.8,522.5 719.0,528.4 719.2,527.0 719.4,523.5 719.6,527.8 719.8,527.3 720.0,529.6 720.2,526.1 720.4,525.6 720.6,530.6 720.8,525.8 721.0,524.8 721.2,526.4 721.4,530.3 721.6,525.0 721.8,523.7 722.0,529.5 722.3,533.8 722.5,530.3 722.7,528.0 722.9,524.0 723.1,524.4 723.3,526.0 723.5,530.2 723.7,525.8 723.9,528.3 724.1,531.5 724.3,533.9 724.5,525.2 724.7,533.4 724.9,524.4 725.1,521.3 725.3,528.3 725.5,531.1 725.8,530.5 726.0,530.6 726.2,527.3 726.4,525.4 726.6,530.9 726.8,529.6 727.0,530.6 727.2,525.0 727.4,525.6 727.6,531.3 727.8,529.7 728.0,528.2 728.2,534.4 728.4,530.5 728.6,528.4 728.8,533.2 729.1,528.2 729.3,528.7 729.5,530.6 729.7,525.7 729.9,531.9 730.1,527.6 730.3,529.8 730.5,525.6 730.7,531.5 730.9,527.2 731.1,527.1 731.3,525.5 731.5,524.1 731.7,533.9 731.9,529.4 732.1,532.5 732.3,526.2 732.6,525.0 732.8,530.2 733.0,528.5 733.2,525.2 733.4,528.7 733.6,529.7 733.8,534.5 734.0,531.6 734.2,526.3 734.4,534.0 734.6,528.5 734.8,528.8 735.0,529.5 735.2,527.0 735.4,531.8 735.6,525.2 735.9,530.9 736.1,526.4 736.3,531.4 736.5,528.8 736.7,530.7 736.9,524.4 737.1,532.9 737.3,531.7 737.5,525.2 737.7,527.2 737.9,529.9 738.1,530.6 738.3,533.8 738.5,530.6 738.7,528.7 738.9,526.1 739.1,527.0 739.4,525.4 739.6,528.7 739.8,532.1 740.0,531.0 740.2,525.2 740.4,529.6 740.6,525.6 740.8,534.9 741.0,531.5 741.2,532.5 741.4,529.2 741.6,532.5 741.8,534.2 742.0,530.3 742.2,537.2 742.4,532.0 742.6,528.8 742.9,533.7 743.1,530.4 743.3,533.0 743.5,531.3 743.7,529.5 743.9,528.8 744.1,528.9 744.3,532.6 744.5,525.6 744.7,529.3 744.9,532.4 745.1,526.2 745.3,531.6 745.5,524.3 745.7,527.8 745.9,530.8 746.2,531.9 746.4,533.0 746.6,532.9 746.8,531.3 747.0,526.3 747.2,529.9 747.4,530.8 747.6,529.2 747.8,531.5 748.0,534.5 748.2,535.2 748.4,526.2 748.6,531.5 748.8,525.6 749.0,524.7 749.2,529.8 749.4,528.2 749.7,531.8 749.9,531.1 750.1,530.4 750.3,530.7 750.5,526.0 750.7,531.0 750.9,527.9 751.1,530.4 751.3,528.8 751.5,525.1 751.7,535.7 751.9,527.2 752.1,532.8 752.3,530.2 752.5,531.9 752.7,532.4 752.9,535.1 753.2,538.0 753.4,524.2 753.6,528.2 753.8,531.7 754.0,536.8 754.2,528.9 754.4,526.0 754.6,529.6 754.8,536.4 755.0,532.7 755.2,530.2 755.4,531.3 755.6,527.6 755.8,534.1 756.0,533.1 756.2,538.2 756.5,527.6 756.7,529.2 756.9,532.6 757.1,536.9 757.3,528.5 757.5,535.7 757.7,535.3 757.9,537.4 758.1,535.8 758.3,534.3 758.5,534.8 758.7,527.9 758.9,529.1 759.1,531.1 759.3,533.2 759.5,531.6 759.7,535.6 760.0,530.2 760.2,534.4 760.4,533.1 760.6,530.4 760.8,534.3 761.0,535.9 761.2,528.3 761.4,537.0 761.6,535.6 761.8,535.3 762.0,533.9 762.2,532.1 762.4,538.6 762.6,533.2 762.8,527.2 763.0,527.9 763.2,528.9 763.5,532.0 763.7,531.0 763.9,533.5 764.1,537.1 764.3,530.6 764.5,528.3 764.7,530.8 764.9,531.9 765.1,529.1 765.3,530.8 765.5,528.3 765.7,533.2 765.9,537.6 766.1,530.3 766.3,529.1 766.5,534.4 766.8,531.2 767.0,529.6 767.2,538.9 767.4,525.0 767.6,529.5 767.8,532.6 768.0,535.7 768.2,537.0 768.4,525.1 768.6,533.1 768.8,529.8 769.0,534.2 769.2,533.1 769.4,530.0 769.6,535.1 769.8,532.4 770.0,532.8 770.3,530.6 770.5,529.4 770.7,532.7 770.9,527.7 771.1,533.7 771.3,533.4 771.5,531.9 771.7,533.0 771.9,529.8 772.1,539.2 772.3,537.9 772.5,539.2 772.7,527.8 772.9,529.7 773.1,534.5 773.3,531.1 773.5,538.0 773.8,533.3 774.0,527.6 774.2,530.3 774.4,525.6 774.6,534.0 774.8,528.7 775.0,532.1 775.2,531.4 775.4,531.6 775.6,530.0 775.8,528.2 776.0,532.3 776.2,531.3 776.4,532.8 776.6,531.6 776.8,535.1 777.1,529.3 777.3,530.3 777.5,531.5 777.7,532.6 777.9,534.7 778.1,535.6 778.3,536.1 778.5,535.1 778.7,529.7 778.9,531.3 779.1,537.2 779.3,535.7 779.5,528.4 779.7,527.3 779.9,530.0 780.1,525.9 780.3,534.9 780.6,531.3 780.8,534.7 781.0,525.9 781.2,531.3 781.4,531.4 781.6,531.5 781.8,534.9 782.0,532.9 782.2,539.8 782.4,534.2 782.6,535.9 782.8,530.2 783.0,528.5 783.2,531.9 783.4,536.0 783.6,536.3 783.8,530.4 784.1,533.6 784.3,533.6 784.5,536.2 784.7,532.0 784.9,532.2 785.1,530.3 785.3,535.8 785.5,533.0 785.7,537.4 785.9,532.2 786.1,532.9 786.3,534.1 786.5,530.1 786.7,537.0 786.9,528.0 787.1,531.6 787.4,531.1 787.6,532.1 787.8,535.2 788.0,534.8 788.2,530.0 788.4,533.1 788.6,532.0 788.8,534.1 789.0,530.4 789.2,531.0 789.4,537.2 789.6,526.9 789.8,529.8 790.0,530.5 790.2,532.1 790.4,533.3 790.6,530.4 790.9,526.6 791.1,533.5 791.3,536.7 791.5,533.3 791.7,533.0 791.9,530.2 792.1,537.1 792.3,534.6 792.5,534.3 792.7,530.2 792.9,529.8 793.1,532.7 793.3,530.0 793.5,533.0 793.7,533.1 793.9,540.5 794.1,536.2 794.4,537.0 794.6,532.0 794.8,533.2 795.0,536.9 795.2,533.4 795.4,533.9 795.6,532.3 795.8,535.3 796.0,535.9 796.2,529.8 796.4,534.5 796.6,530.5 796.8,536.5 797.0,534.4 797.2,534.7 797.4,536.8 797.7,531.5 797.9,538.0 798.1,533.0 798.3,540.5 798.5,531.7 798.7,533.7 798.9,530.3 799.1,527.6 799.3,536.0 799.5,533.9 799.7,537.9 799.9,535.4 800.1,533.8 800.3,533.8 800.5,531.5 800.7,532.4 800.9,531.0 801.2,536.1 801.4,533.6 801.6,537.3 801.8,534.6 802.0,541.0 802.2,534.4 802.4,534.0 802.6,535.6 802.8,535.4 803.0,539.5 803.2,536.2 803.4,536.1 803.6,533.5 803.8,532.8 804.0,535.6 804.2,534.7 804.4,533.2 804.7,537.1 804.9,531.2 805.1,528.0 805.3,533.2 805.5,535.8 805.7,533.7 805.9,530.8 806.1,530.5 806.3,538.6 806.5,533.4 806.7,536.7 806.9,535.8 807.1,533.6 807.3,532.8 807.5,535.4 807.7,537.1 808.0,535.1 808.2,537.7 808.4,529.2 808.6,539.4 808.8,532.7 809.0,534.3 809.2,534.6 809.4,537.8 809.6,536.2 809.8,535.7 810.0,536.3 810.2,535.4 810.4,534.4 810.6,536.1 810.8,533.4 811.0,532.5 811.2,536.4 811.5,532.5 811.7,534.6 811.9,536.5 812.1,533.4 812.3,531.5 812.5,535.9 812.7,540.5 812.9,532.5 813.1,531.9 813.3,538.3 813.5,535.4 813.7,533.6 813.9,541.7 814.1,532.6 814.3,532.8 814.5,532.6 814.7,530.5 815.0,538.3 815.2,532.2 815.4,528.3 815.6,541.8 815.8,536.3 816.0,533.0 816.2,537.4 816.4,540.8 816.6,534.2 816.8,534.7 817.0,537.5 817.2,534.5 817.4,532.5 817.6,532.2 817.8,534.0 818.0,539.1 818.2,536.3 818.5,542.0 818.7,538.6 818.9,534.9 819.1,533.7 819.3,535.5 819.5,535.5 819.7,541.4 819.9,539.4 820.1,539.0 820.3,537.3 820.5,537.4 820.7,528.9 820.9,532.5 821.1,538.7 821.3,537.6 821.5,537.3 821.8,537.4 822.0,537.2 822.2,541.9 822.4,532.1 822.6,533.6 822.8,533.8 823.0,535.4 823.2,534.3 823.4,536.9 823.6,541.8 823.8,535.4 824.0,535.7 824.2,539.8 824.4,542.4 824.6,532.4 824.8,539.0 825.0,536.5 825.3,538.0 825.5,530.8 825.7,540.5 825.9,532.7 826.1,542.5 826.3,533.2 826.5,537.5 826.7,542.5 826.9,535.8 827.1,536.3 827.3,541.0 827.5,535.0 827.7,536.2 827.9,534.6 828.1,540.4 828.3,538.4 828.6,539.1 828.8,535.8 829.0,537.8 829.2,539.2 829.4,532.0 829.6,537.8 829.8,532.9 830.0,533.7 830.2,538.5 830.4,541.9 830.6,535.7 830.8,534.2 831.0,532.7 831.2,535.1 831.4,535.0 831.6,538.3 831.8,538.6 832.1,529.5 832.3,532.9 832.5,540.5 832.7,535.5 832.9,535.0 833.1,541.9 833.3,537.3 833.5,534.7 833.7,531.4 833.9,531.6 834.1,537.6 834.3,537.5 834.5,537.9 834.7,535.8 834.9,533.9 835.1,539.7 835.3,537.1 835.6,538.4 835.8,539.0 836.0,538.2 836.2,531.1 836.4,531.3 836.6,532.2 836.8,541.7 837.0,535.7 837.2,529.9 837.4,535.4 837.6,538.9 837.8,534.9 838.0,537.5 838.2,538.0 838.4,536.0 838.6,535.3 838.9,537.3 839.1,536.9 839.3,539.9 839.5,537.0 839.7,534.7 839.9,536.6 840.1,537.4 840.3,541.3 840.5,533.5 840.7,540.4 840.9,534.9 841.1,538.0 841.3,534.5 841.5,533.8 841.7,537.9 841.9,543.5 842.1,543.2 842.4,540.0 842.6,539.8 842.8,536.2 843.0,531.1 843.2,535.1 843.4,537.5 843.6,533.0 843.8,537.7 844.0,534.5"/>
<polyline fill="none" stroke="#ff0000" stroke-width="4.6" stroke-linejoin="round"  points="174.5,440.8 174.7,421.6 174.9,437.8 175.1,440.6 175.3,429.9 175.5,428.2 175.7,427.1 175.9,425.9 176.1,431.7 176.4,434.2 176.6,432.4 176.8,434.6 177.0,437.8 177.2,425.2 177.4,424.0 177.6,434.7 177.8,436.1 178.0,437.7 178.2,444.7 178.4,438.8 178.6,437.9 178.8,435.0 179.0,440.8 179.2,446.2 179.4,431.2 179.7,424.9 179.9,447.6 180.1,435.9 180.3,430.1 180.5,442.0 180.7,443.7 180.9,435.1 181.1,436.7 181.3,439.1 181.5,425.7 181.7,426.6 181.9,431.6 182.1,435.9 182.3,437.4 182.5,430.4 182.7,437.0 182.9,426.9 183.2,428.3 183.4,439.2 183.6,431.3 183.8,426.6 184.0,432.0 184.2,441.4 184.4,437.4 184.6,437.9 184.8,435.2 185.0,435.8 185.2,438.1 185.4,431.0 185.6,428.2 185.8,439.4 186.0,444.8 186.2,434.1 186.4,436.2 186.7,433.9 186.9,440.4 187.1,434.7 187.3,441.8 187.5,430.2 187.7,426.8 187.9,442.1 188.1,449.9 188.3,439.6 188.5,439.9 188.7,435.8 188.9,436.8 189.1,434.1 189.3,424.6 189.5,440.4 189.7,439.4 189.9,434.8 190.2,448.1 190.4,432.8 190.6,441.1 190.8,445.9 191.0,442.6 191.2,434.8 191.4,432.9 191.6,430.6 191.8,435.4 192.0,442.2 192.2,434.8 192.4,438.6 192.6,425.9 192.8,450.2 193.0,429.0 193.2,433.9 193.5,436.1 193.7,439.1 193.9,441.9 194.1,444.3 194.3,447.8 194.5,427.0 194.7,433.5 194.9,435.0 195.1,436.9 195.3,450.2 195.5,440.7 195.7,438.5 195.9,432.6 196.1,445.1 196.3,437.8 196.5,440.8 196.7,439.4 197.0,444.1 197.2,437.6 197.4,439.3 197.6,450.6 197.8,432.9 198.0,427.9 198.2,445.1 198.4,433.5 198.6,445.8 198.8,443.3 199.0,430.2 199.2,439.2 199.4,431.7 199.6,438.8 199.8,434.8 200.0,441.6 200.2,432.5 200.5,430.5 200.7,437.0 200.9,444.2 201.1,443.1 201.3,446.5 201.5,437.6 201.7,438.2 201.9,445.2 202.1,436.0 202.3,444.7 202.5,431.0 202.7,436.7 202.9,432.4 203.1,445.7 203.3,447.4 203.5,452.2 203.8,438.0 204.0,448.2 204.2,434.1 204.4,441.1 204.6,437.6 204.8,449.3 205.0,445.4 205.2,441.0 205.4,437.9 205.6,449.5 205.8,440.2 206.0,446.9 206.2,437.6 206.4,443.5 206.6,443.9 206.8,439.8 207.0,435.7 207.3,443.7 207.5,435.3 207.7,448.0 207.9,440.7 208.1,448.7 208.3,441.1 208.5,447.6 208.7,442.2 208.9,438.8 209.1,447.8 209.3,452.3 209.5,443.3 209.7,439.3 209.9,440.8 210.1,447.2 210.3,437.2 210.6,443.5 210.8,437.3 211.0,446.5 211.2,438.7 211.4,434.2 211.6,444.2 211.8,441.5 212.0,435.4 212.2,434.5 212.4,432.9 212.6,431.4 212.8,432.8 213.0,414.1 213.2,409.0 213.4,389.4 213.6,397.8 213.8,381.8 214.1,391.1 214.3,411.7 214.5,429.0 214.7,432.8 214.9,430.3 215.1,434.2 215.3,443.4 215.5,433.7 215.7,437.1 215.9,438.6 216.1,444.1 216.3,442.4 216.5,446.7 216.7,441.8 216.9,446.8 217.1,436.7 217.3,443.2 217.6,442.4 217.8,441.8 218.0,442.0 218.2,451.9 218.4,436.7 218.6,443.5 218.8,447.2 219.0,449.6 219.2,448.1 219.4,447.8 219.6,444.3 219.8,449.3 220.0,443.9 220.2,443.7 220.4,448.5 220.6,432.8 220.8,445.4 221.1,442.9 221.3,444.2 221.5,445.8 221.7,441.1 221.9,437.2 222.1,445.4 222.3,449.9 222.5,442.0 222.7,457.2 222.9,444.3 223.1,446.3 223.3,443.5 223.5,453.8 223.7,447.8 223.9,451.2 224.1,448.5 224.4,442.3 224.6,446.7 224.8,449.0 225.0,439.1 225.2,445.7 225.4,457.1 225.6,451.7 225.8,443.6 226.0,443.5 226.2,444.8 226.4,444.6 226.6,451.2 226.8,446.8 227.0,452.9 227.2,451.0 227.4,451.5 227.6,451.2 227.9,448.5 228.1,447.9 228.3,451.2 228.5,440.8 228.7,449.4 228.9,438.4 229.1,441.4 229.3,453.8 229.5,442.2 229.7,455.0 229.9,439.3 230.1,445.6 230.3,453.0 230.5,459.7 230.7,449.8 230.9,455.2 231.2,441.7 231.4,454.7 231.6,449.2 231.8,445.3 232.0,448.0 232.2,446.7 232.4,449.6 232.6,444.3 232.8,453.5 233.0,445.2 233.2,455.1 233.4,447.5 233.6,454.9 233.8,449.7 234.0,445.4 234.2,441.9 234.4,458.7 234.7,453.1 234.9,454.3 235.1,442.2 235.3,453.8 235.5,445.1 235.7,451.9 235.9,457.0 236.1,448.5 236.3,455.4 236.5,445.2 236.7,444.6 236.9,441.9 237.1,454.9 237.3,440.6 237.5,444.0 237.7,459.2 237.9,437.2 238.2,440.1 238.4,455.2 238.6,447.6 238.8,456.9 239.0,450.3 239.2,448.5 239.4,446.2 239.6,454.1 239.8,449.8 240.0,454.8 240.2,447.6 240.4,446.0 240.6,449.3 240.8,443.4 241.0,445.6 241.2,447.7 241.4,443.4 241.7,456.7 241.9,450.0 242.1,459.6 242.3,450.0 242.5,452.5 242.7,445.3 242.9,452.4 243.1,453.5 243.3,450.5 243.5,450.7 243.7,447.1 243.9,454.8 244.1,458.3 244.3,458.8 244.5,443.7 244.7,457.0 245.0,452.6 245.2,456.1 245.4,445.2 245.6,453.2 245.8,443.3 246.0,453.9 246.2,448.4 246.4,445.9 246.6,444.7 246.8,456.6 247.0,452.1 247.2,450.5 247.4,460.1 247.6,446.1 247.8,447.8 248.0,447.1 248.2,457.5 248.5,448.8 248.7,447.3 248.9,444.0 249.1,452.5 249.3,445.8 249.5,438.6 249.7,451.8 249.9,451.6 250.1,451.0 250.3,457.4 250.5,451.0 250.7,439.9 250.9,454.0 251.1,449.8 251.3,442.0 251.5,445.4 251.8,447.1 252.0,450.1 252.2,448.8 252.4,447.9 252.6,444.0 252.8,447.3 253.0,442.4 253.2,457.8 253.4,442.8 253.6,450.1 253.8,447.0 254.0,449.3 254.2,443.2 254.4,447.3 254.6,443.0 254.8,450.8 255.0,445.1 255.3,439.1 255.5,439.6 255.7,447.7 255.9,444.7 256.1,447.5 256.3,445.9 256.5,445.0 256.7,438.1 256.9,441.5 257.1,436.4 257.3,435.8 257.5,451.4 257.7,442.4 257.9,446.4 258.1,452.8 258.3,449.6 258.5,446.2 258.8,433.7 259.0,442.4 259.2,443.7 259.4,442.6 259.6,446.5 259.8,441.0 260.0,442.2 260.2,450.7 260.4,444.2 260.6,428.3 260.8,437.1 261.0,441.0 261.2,436.4 261.4,445.4 261.6,439.1 261.8,434.3 262.1,448.2 262.3,442.9 262.5,440.7 262.7,439.7 262.9,440.7 263.1,435.9 263.3,431.3 263.5,434.9 263.7,430.7 263.9,430.2 264.1,439.3 264.3,434.0 264.5,437.4 264.7,431.1 264.9,436.6 265.1,435.3 265.3,424.1 265.6,434.6 265.8,442.3 266.0,432.2 266.2,430.8 266.4,435.1 266.6,431.4 266.8,425.6 267.0,434.2 267.2,431.9 267.4,434.6 267.6,428.2 267.8,430.5 268.0,434.8 268.2,430.0 268.4,417.9 268.6,438.3 268.8,436.1 269.1,425.6 269.3,435.4 269.5,415.3 269.7,435.2 269.9,433.7 270.1,428.7 270.3,418.8 270.5,420.1 270.7,421.0 270.9,422.2 271.1,415.8 271.3,434.0 271.5,421.1 271.7,413.8 271.9,428.3 272.1,419.5 272.4,413.6 272.6,413.0 272.8,420.9 273.0,408.4 273.2,416.1 273.4,412.2 273.6,424.7 273.8,422.3 274.0,421.9 274.2,406.0 274.4,430.1 274.6,427.0 274.8,410.4 275.0,413.9 275.2,428.1 275.4,416.1 275.6,415.1 275.9,405.2 276.1,423.9 276.3,414.8 276.5,404.4 276.7,405.7 276.9,415.6 277.1,411.1 277.3,417.9 277.5,399.7 277.7,410.2 277.9,399.0 278.1,401.3 278.3,411.2 278.5,405.9 278.7,400.3 278.9,400.9 279.1,393.4 279.4,395.3 279.6,399.6 279.8,396.5 280.0,404.7 280.2,403.2 280.4,394.8 280.6,395.7 280.8,404.2 281.0,396.8 281.2,400.7 281.4,398.3 281.6,385.6 281.8,399.2 282.0,396.5 282.2,387.8 282.4,390.1 282.6,388.6 282.9,398.3 283.1,388.2 283.3,389.5 283.5,391.5 283.7,389.0 283.9,386.4 284.1,378.0 284.3,370.1 284.5,380.9 284.7,370.9 284.9,379.0 285.1,388.8 285.3,377.5 285.5,368.4 285.7,366.6 285.9,381.0 286.2,359.0 286.4,378.1 286.6,377.1 286.8,374.7 287.0,360.3 287.2,366.5 287.4,362.0 287.6,382.5 287.8,366.6 288.0,366.0 288.2,359.4 288.4,366.4 288.6,353.8 288.8,365.8 289.0,369.6 289.2,370.2 289.4,348.8 289.7,351.2 289.9,360.8 290.1,346.3 290.3,354.1 290.5,352.6 290.7,360.9 290.9,353.2 291.1,347.3 291.3,345.3 291.5,349.6 291.7,337.1 291.9,332.6 292.1,347.6 292.3,337.5 292.5,350.2 292.7,334.8 292.9,343.6 293.2,336.4 293.4,332.6 293.6,334.4 293.8,323.6 294.0,335.8 294.2,332.2 294.4,325.0 294.6,326.3 294.8,322.9 295.0,325.1 295.2,326.1 295.4,318.0 295.6,319.4 295.8,314.3 296.0,311.0 296.2,317.7 296.5,318.3 296.7,315.7 296.9,315.4 297.1,320.6 297.3,302.1 297.5,306.8 297.7,297.0 297.9,309.1 298.1,302.5 298.3,302.9 298.5,303.4 298.7,297.2 298.9,300.7 299.1,300.0 299.3,297.7 299.5,308.1 299.7,299.6 300.0,298.5 300.2,285.7 300.4,289.7 300.6,287.5 300.8,287.1 301.0,290.0 301.2,279.7 301.4,287.7 301.6,292.5 301.8,281.2 302.0,277.3 302.2,281.5 302.4,279.1 302.6,274.9 302.8,270.9 303.0,274.5 303.2,267.9 303.5,273.8 303.7,263.5 303.9,280.0 304.1,267.1 304.3,269.4 304.5,269.2 304.7,275.3 304.9,262.3 305.1,267.7 305.3,270.8 305.5,268.0 305.7,265.0 305.9,262.3 306.1,266.6 306.3,265.7 306.5,257.9 306.8,259.6 307.0,248.2 307.2,259.7 307.4,252.9 307.6,246.9 307.8,256.2 308.0,249.3 308.2,252.2 308.4,252.8 308.6,244.0 308.8,256.9 309.0,254.2 309.2,259.6 309.4,250.3 309.6,243.8 309.8,249.6 310.0,243.3 310.3,250.9 310.5,240.2 310.7,246.2 310.9,247.4 311.1,235.6 311.3,243.6 311.5,239.8 311.7,241.6 311.9,237.8 312.1,240.2 312.3,246.6 312.5,238.1 312.7,236.4 312.9,236.2 313.1,238.8 313.3,227.3 313.6,240.3 313.8,235.1 314.0,234.0 314.2,240.3 314.4,240.3 314.6,229.8 314.8,229.2 315.0,231.5 315.2,240.3 315.4,232.7 315.6,229.3 315.8,226.7 316.0,223.2 316.2,226.6 316.4,223.4 316.6,219.1 316.8,240.3 317.1,221.8 317.3,229.1 317.5,223.7 317.7,224.8 317.9,231.1 318.1,230.1 318.3,222.5 318.5,225.5 318.7,220.2 318.9,226.0 319.1,212.0 319.3,224.7 319.5,211.8 319.7,227.0 319.9,219.6 320.1,216.4 320.3,229.4 320.6,227.4 320.8,219.8 321.0,215.7 321.2,214.4 321.4,218.8 321.6,216.1 321.8,228.1 322.0,224.1 322.2,214.0 322.4,224.9 322.6,223.3 322.8,231.5 323.0,223.2 323.2,231.0 323.4,220.6 323.6,214.7 323.9,221.2 324.1,222.3 324.3,225.6 324.5,220.7 324.7,230.0 324.9,226.8 325.1,212.9 325.3,232.0 325.5,228.3 325.7,233.1 325.9,219.3 326.1,227.6 326.3,233.6 326.5,233.9 326.7,221.5 326.9,224.3 327.1,224.1 327.4,229.1 327.6,224.4 327.8,222.6 328.0,226.5 328.2,239.1 328.4,241.5 328.6,239.2 328.8,230.4 329.0,240.3 329.2,238.5 329.4,233.1 329.6,238.5 329.8,241.2 330.0,229.8 330.2,232.9 330.4,232.0 330.6,232.0 330.9,229.9 331.1,238.6 331.3,240.1 331.5,249.2 331.7,242.0 331.9,244.7 332.1,236.9 332.3,239.8 332.5,236.4 332.7,239.4 332.9,239.8 333.1,244.3 333.3,247.3 333.5,251.0 333.7,250.1 333.9,256.0 334.1,250.0 334.4,253.5 334.6,264.7 334.8,267.2 335.0,260.1 335.2,259.8 335.4,260.0 335.6,252.9 335.8,263.9 336.0,268.3 336.2,261.0 336.4,258.9 336.6,256.7 336.8,271.4 337.0,268.7 337.2,270.7 337.4,262.0 337.7,267.2 337.9,271.7 338.1,269.3 338.3,275.9 338.5,276.2 338.7,276.4 338.9,279.9 339.1,279.7 339.3,277.7 339.5,279.4 339.7,274.3 339.9,278.5 340.1,284.3 340.3,295.9 340.5,293.5 340.7,289.9 340.9,290.5 341.2,296.2 341.4,292.8 341.6,291.7 341.8,296.5 342.0,295.4 342.2,296.4 342.4,300.6 342.6,302.7 342.8,300.4 343.0,299.8 343.2,307.4 343.4,313.4 343.6,309.5 343.8,303.9 344.0,315.2 344.2,304.5 344.4,312.9 344.7,310.9 344.9,316.4 345.1,311.4 345.3,315.2 345.5,315.0 345.7,327.0 345.9,315.9 346.1,328.3 346.3,323.3 346.5,320.7 346.7,325.8 346.9,322.0 347.1,325.7 347.3,327.5 347.5,335.3 347.7,323.2 348.0,323.5 348.2,336.8 348.4,340.5 348.6,333.7 348.8,341.8 349.0,336.4 349.2,332.6 349.4,334.8 349.6,330.1 349.8,338.4 350.0,350.1 350.2,349.8 350.4,341.0 350.6,332.3 350.8,349.3 351.0,354.3 351.2,339.1 351.5,350.7 351.7,346.0 351.9,344.4 352.1,359.7 352.3,356.3 352.5,358.7 352.7,352.2 352.9,352.3 353.1,361.2 353.3,355.0 353.5,371.9 353.7,358.3 353.9,359.3 354.1,362.6 354.3,373.4 354.5,365.2 354.8,372.6 355.0,356.6 355.2,369.2 355.4,369.6 355.6,369.8 355.8,366.4 356.0,370.3 356.2,368.2 356.4,378.7 356.6,366.2 356.8,377.5 357.0,370.2 357.2,374.4 357.4,369.8 357.6,378.1 357.8,388.0 358.0,386.7 358.3,381.4 358.5,371.8 358.7,384.2 358.9,381.9 359.1,374.9 359.3,387.3 359.5,382.5 359.7,383.3 359.9,389.7 360.1,385.1 360.3,380.6 360.5,381.2 360.7,390.7 360.9,374.1 361.1,387.6 361.3,392.2 361.5,395.7 361.8,397.9 362.0,387.3 362.2,407.4 362.4,394.6 362.6,402.8 362.8,395.9 363.0,395.6 363.2,404.1 363.4,402.7 363.6,389.3 363.8,401.1 364.0,398.3 364.2,400.8 364.4,394.3 364.6,392.5 364.8,394.9 365.1,397.7 365.3,398.2 365.5,409.4 365.7,394.7 365.9,406.6 366.1,409.1 366.3,406.5 366.5,409.6 366.7,402.8 366.9,401.4 367.1,398.6 367.3,407.4 367.5,410.9 367.7,409.5 367.9,415.3 368.1,413.2 368.3,397.3 368.6,414.4 368.8,413.0 369.0,407.0 369.2,409.7 369.4,407.2 369.6,417.3 369.8,419.0 370.0,405.4 370.2,417.6 370.4,414.7 370.6,413.3 370.8,425.9 371.0,416.7 371.2,419.8 371.4,413.4 371.6,418.8 371.8,430.5 372.1,413.3 372.3,431.7 372.5,421.2 372.7,423.3 372.9,423.2 373.1,420.2 373.3,415.1 373.5,426.1 373.7,425.0 373.9,417.7 374.1,419.5 374.3,418.7 374.5,421.3 374.7,425.1 374.9,426.9 375.1,427.3 375.4,419.8 375.6,416.9 375.8,414.5 376.0,432.1 376.2,428.0 376.4,427.0 376.6,428.4 376.8,434.2 377.0,415.9 377.2,420.1 377.4,430.0 377.6,432.0 377.8,429.9 378.0,437.0 378.2,432.5 378.4,426.6 378.6,422.0 378.9,426.7 379.1,424.8 379.3,438.3 379.5,445.5 379.7,425.4 379.9,432.4 380.1,434.2 380.3,424.8 380.5,439.7 380.7,440.0 380.9,439.1 381.1,426.3 381.3,430.3 381.5,445.7 381.7,427.0 381.9,436.3 382.1,434.3 382.4,441.2 382.6,426.8 382.8,435.0 383.0,430.4 383.2,443.4 383.4,434.3 383.6,437.9 383.8,439.8 384.0,443.3 384.2,443.0 384.4,445.8 384.6,443.3 384.8,440.1 385.0,437.1 385.2,449.1 385.4,446.6 385.6,444.6 385.9,450.5 386.1,443.6 386.3,443.9 386.5,444.0 386.7,441.2 386.9,438.9 387.1,440.2 387.3,443.5 387.5,442.4 387.7,450.5 387.9,451.8 388.1,443.9 388.3,444.9 388.5,436.8 388.7,450.3 388.9,454.8 389.2,448.6 389.4,453.0 389.6,455.8 389.8,444.3 390.0,441.8 390.2,450.3 390.4,456.0 390.6,451.5 390.8,453.4 391.0,460.6 391.2,449.1 391.4,451.8 391.6,447.2 391.8,456.8 392.0,454.2 392.2,454.8 392.4,463.3 392.7,442.2 392.9,465.4 393.1,460.6 393.3,456.6 393.5,462.9 393.7,452.7 393.9,457.3 394.1,454.6 394.3,453.8 394.5,454.6 394.7,454.5 394.9,455.8 395.1,452.7 395.3,450.7 395.5,456.1 395.7,457.0 396.0,456.6 396.2,452.6 396.4,455.7 396.6,455.2 396.8,460.1 397.0,440.9 397.2,455.1 397.4,437.0 397.6,437.8 397.8,432.1 398.0,431.6 398.2,427.5 398.4,428.5 398.6,429.7 398.8,432.6 399.0,433.4 399.2,450.0 399.5,445.1 399.7,441.2 399.9,443.5 400.1,456.6 400.3,449.8 400.5,449.6 400.7,449.1 400.9,460.8 401.1,442.8 401.3,452.9 401.5,429.7 401.7,432.9 401.9,430.9 402.1,419.8 402.3,413.5 402.5,406.2 402.7,390.9 403.0,372.5 403.2,358.7 403.4,327.3 403.6,297.9 403.8,268.4 404.0,238.4 404.2,213.0 404.4,201.4 404.6,198.9 404.8,221.9 405.0,249.4 405.2,280.0 405.4,314.2 405.6,359.6 405.8,394.0 406.0,399.0 406.2,421.2 406.5,430.1 406.7,443.2 406.9,452.3 407.1,460.5 407.3,464.9 407.5,454.9 407.7,458.8 407.9,463.4 408.1,471.6 408.3,469.7 408.5,471.1 408.7,470.4 408.9,480.9 409.1,469.3 409.3,463.4 409.5,474.3 409.8,472.2 410.0,471.5 410.2,478.2 410.4,471.8 410.6,478.3 410.8,476.9 411.0,474.0 411.2,475.9 411.4,475.5 411.6,480.7 411.8,473.1 412.0,482.2 412.2,473.2 412.4,479.8 412.6,483.5 412.8,478.5 413.0,483.4 413.3,481.1 413.5,479.5 413.7,475.3 413.9,475.4 414.1,477.2 414.3,481.0 414.5,487.1 414.7,481.1 414.9,481.8 415.1,481.1 415.3,483.2 415.5,483.3 415.7,477.2 415.9,487.5 416.1,481.3 416.3,475.6 416.6,485.3 416.8,486.5 417.0,483.1 417.2,483.8 417.4,481.1 417.6,476.1 417.8,483.3 418.0,480.2 418.2,485.7 418.4,485.5 418.6,482.0 418.8,486.7 419.0,478.0 419.2,485.8 419.4,484.8 419.6,489.1 419.8,486.4 420.1,489.3 420.3,487.0 420.5,493.2 420.7,485.2 420.9,477.2 421.1,494.3 421.3,477.6 421.5,486.5 421.7,482.0 421.9,491.1 422.1,477.2 422.3,491.9 422.5,487.5 422.7,480.2 422.9,493.6 423.1,498.4 423.3,488.6 423.6,492.1 423.8,493.3 424.0,493.3 424.2,496.2 424.4,483.3 424.6,484.5 424.8,496.6 425.0,491.2 425.2,493.1 425.4,486.3 425.6,495.4 425.8,484.5 426.0,492.2 426.2,496.0 426.4,493.1 426.6,495.7 426.9,483.2 427.1,492.9 427.3,495.9 427.5,493.6 427.7,487.6 427.9,498.8 428.1,502.2 428.3,488.9 428.5,492.2 428.7,497.1 428.9,495.6 429.1,490.4 429.3,505.5 429.5,489.9 429.7,496.5 429.9,492.8 430.1,496.2 430.4,486.2 430.6,498.9 430.8,491.3 431.0,506.3 431.2,496.3 431.4,493.0 431.6,503.5 431.8,505.8 432.0,496.4 432.2,492.4 432.4,491.7 432.6,500.2 432.8,495.7 433.0,503.6 433.2,489.6 433.4,500.1 433.6,491.9 433.9,498.9 434.1,499.3 434.3,490.7 434.5,501.9 434.7,492.4 434.9,499.8 435.1,502.2 435.3,502.2 435.5,493.5 435.7,499.0 435.9,500.3 436.1,505.5 436.3,493.7 436.5,494.4 436.7,497.7 436.9,495.8 437.1,509.1 437.4,501.8 437.6,498.8 437.8,499.2 438.0,502.3 438.2,498.8 438.4,503.2 438.6,502.9 438.8,505.6 439.0,499.6 439.2,503.5 439.4,502.6 439.6,494.4 439.8,500.8 440.0,500.9 440.2,507.6 440.4,503.2 440.7,496.7 440.9,498.7 441.1,501.0 441.3,502.1 441.5,501.1 441.7,499.7 441.9,503.0 442.1,511.3 442.3,493.2 442.5,496.9 442.7,502.6 442.9,495.9 443.1,507.8 443.3,496.6 443.5,501.5 443.7,498.5 443.9,504.0 444.2,501.9 444.4,500.1 444.6,498.2 444.8,500.6 445.0,501.0 445.2,505.6 445.4,495.6 445.6,502.3 445.8,504.2 446.0,504.7 446.2,508.6 446.4,506.7 446.6,510.2 446.8,502.8 447.0,504.1 447.2,502.9 447.5,509.3 447.7,505.8 447.9,506.8 448.1,499.9 448.3,510.6 448.5,510.8 448.7,498.8 448.9,502.9 449.1,511.2 449.3,498.8 449.5,498.2 449.7,499.8 449.9,513.6 450.1,504.3 450.3,508.6 450.5,506.1 450.7,511.8 451.0,497.7 451.2,508.2 451.4,504.1 451.6,501.9 451.8,502.8 452.0,503.7 452.2,507.2 452.4,504.6 452.6,506.6 452.8,515.0 453.0,501.5 453.2,508.5 453.4,508.1 453.6,507.7 453.8,511.9 454.0,511.2 454.2,513.7 454.5,504.1 454.7,501.2 454.9,505.9 455.1,511.1 455.3,500.8 455.5,507.7 455.7,513.2 455.9,514.5 456.1,505.8 456.3,500.5 456.5,508.3 456.7,509.4 456.9,507.9 457.1,510.4 457.3,509.1 457.5,505.8 457.8,510.0 458.0,503.0 458.2,511.1 458.4,504.0 458.6,505.6 458.8,508.8 459.0,508.4 459.2,508.6 459.4,500.2 459.6,510.7 459.8,502.3 460.0,503.1 460.2,508.8 460.4,500.6 460.6,516.7 460.8,506.5 461.0,507.0 461.3,507.5 461.5,504.1 461.7,509.4 461.9,508.5 462.1,502.9 462.3,508.3 462.5,512.2 462.7,505.5 462.9,508.3 463.1,510.3 463.3,505.7 463.5,511.3 463.7,512.2 463.9,509.2 464.1,508.9 464.3,508.0 464.5,513.3 464.8,501.0 465.0,505.5 465.2,507.7 465.4,507.4 465.6,517.6 465.8,504.6 466.0,512.8 466.2,506.4 466.4,513.6 466.6,504.5 466.8,510.9 467.0,509.6 467.2,502.3 467.4,504.6 467.6,514.5 467.8,511.7 468.1,508.0 468.3,509.9 468.5,505.6 468.7,511.8 468.9,516.8 469.1,512.8 469.3,509.9 469.5,506.8 469.7,506.1 469.9,504.0 470.1,508.3 470.3,510.1 470.5,506.3 470.7,509.8 470.9,511.3 471.1,511.4 471.3,505.6 471.6,503.4 471.8,504.1 472.0,516.2 472.2,505.1 472.4,514.3 472.6,511.1 472.8,507.3 473.0,515.3 473.2,514.9 473.4,513.0 473.6,503.0 473.8,505.5 474.0,513.8 474.2,509.5 474.4,509.6 474.6,508.9 474.8,513.2 475.1,504.4 475.3,512.0 475.5,507.1 475.7,517.5 475.9,509.0 476.1,510.0 476.3,505.1 476.5,519.8 476.7,508.5 476.9,507.5 477.1,512.0 477.3,505.6 477.5,502.4 477.7,507.5 477.9,507.9 478.1,505.7 478.4,509.5 478.6,506.3 478.8,508.9 479.0,514.2 479.2,515.8 479.4,506.7 479.6,509.1 479.8,514.4 480.0,511.6 480.2,505.7 480.4,518.7 480.6,515.4 480.8,508.9 481.0,508.4 481.2,516.6 481.4,515.9 481.6,511.2 481.9,506.1 482.1,511.8 482.3,520.8 482.5,507.6 482.7,511.9 482.9,513.7 483.1,516.5 483.3,506.8 483.5,510.5 483.7,509.9 483.9,510.1 484.1,509.6 484.3,507.9 484.5,504.2 484.7,515.3 484.9,511.1 485.1,512.4 485.4,503.5 485.6,511.2 485.8,516.3 486.0,509.5 486.2,511.9 486.4,511.4 486.6,509.7 486.8,512.5 487.0,514.4 487.2,497.7 487.4,505.3 487.6,507.7 487.8,500.3 488.0,496.4 488.2,507.8 488.4,501.3 488.7,497.1 488.9,500.5 489.1,494.0 489.3,499.6 489.5,496.1 489.7,492.8 489.9,489.6 490.1,490.3 490.3,492.5 490.5,490.6 490.7,497.2 490.9,479.5 491.1,489.5 491.3,488.4 491.5,485.1 491.7,481.8 491.9,479.2 492.2,477.5 492.4,472.8 492.6,454.6 492.8,442.3 493.0,424.8 493.2,406.9 493.4,394.5 493.6,386.5 493.8,398.0 494.0,417.8 494.2,425.8 494.4,442.7 494.6,470.0 494.8,474.4 495.0,486.5 495.2,496.8 495.4,498.7 495.7,501.0 495.9,502.1 496.1,501.1 496.3,506.8 496.5,507.4 496.7,498.8 496.9,512.7 497.1,509.7 497.3,510.3 497.5,506.0 497.7,504.8 497.9,514.9 498.1,504.6 498.3,514.6 498.5,500.8 498.7,512.7 499.0,505.5 499.2,511.2 499.4,507.2 499.6,513.3 499.8,509.7 500.0,510.2 500.2,509.9 500.4,507.1 500.6,512.2 500.8,511.7 501.0,515.8 501.2,511.0 501.4,512.5 501.6,506.8 501.8,507.7 502.0,513.4 502.2,508.6 502.5,505.1 502.7,511.3 502.9,515.3 503.1,501.4 503.3,508.2 503.5,507.6 503.7,501.4 503.9,513.8 504.1,509.2 504.3,518.3 504.5,508.4 504.7,508.8 504.9,513.7 505.1,514.0 505.3,511.2 505.5,511.4 505.7,503.9 506.0,511.4 506.2,511.1 506.4,511.1 506.6,517.0 506.8,512.4 507.0,516.0 507.2,509.8 507.4,519.4 507.6,515.0 507.8,509.3 508.0,519.0 508.2,516.8 508.4,506.2 508.6,515.8 508.8,510.3 509.0,509.0 509.2,514.6 509.5,517.2 509.7,503.9 509.9,512.5 510.1,508.1 510.3,513.3 510.5,508.7 510.7,515.6 510.9,515.8 511.1,514.5 511.3,512.7 511.5,512.7 511.7,511.5 511.9,508.3 512.1,512.3 512.3,506.2 512.5,512.8 512.8,507.3 513.0,504.6 513.2,502.8 513.4,518.2 513.6,502.8 513.8,517.3 514.0,504.1 514.2,510.0 514.4,508.5 514.6,513.8 514.8,506.0 515.0,507.1 515.2,512.2 515.4,512.4 515.6,506.3 515.8,505.6 516.0,506.7 516.3,511.4 516.5,509.8 516.7,505.9 516.9,506.3 517.1,505.1 517.3,509.2 517.5,512.7 517.7,508.6 517.9,507.9 518.1,512.0 518.3,507.9 518.5,513.2 518.7,508.6 518.9,512.2 519.1,500.9 519.3,504.7 519.5,508.6 519.8,515.1 520.0,514.7 520.2,506.7 520.4,510.2 520.6,508.3 520.8,516.1 521.0,515.8 521.2,509.1 521.4,510.4 521.6,515.1 521.8,512.9 522.0,506.3 522.2,511.3 522.4,507.1 522.6,502.6 522.8,508.1 523.1,508.9 523.3,511.9 523.5,504.4 523.7,515.5 523.9,514.0 524.1,509.5 524.3,515.6 524.5,505.3 524.7,512.0 524.9,507.2 525.1,510.7 525.3,510.4 525.5,509.3 525.7,517.5 525.9,513.9 526.1,511.3 526.3,500.1 526.6,505.9 526.8,506.3 527.0,513.6 527.2,505.6 527.4,504.1 527.6,506.2 527.8,500.1 528.0,514.9 528.2,513.7 528.4,510.4 528.6,513.3 528.8,509.0 529.0,507.1 529.2,509.3 529.4,508.8 529.6,507.5 529.9,506.0 530.1,512.0 530.3,512.0 530.5,504.2 530.7,510.6 530.9,512.7 531.1,508.0 531.3,510.6 531.5,508.7 531.7,509.4 531.9,506.5 532.1,505.3 532.3,512.6 532.5,514.2 532.7,502.5 532.9,512.0 533.1,515.6 533.4,517.0 533.6,509.3 533.8,511.8 534.0,516.8 534.2,513.1 534.4,513.5 534.6,505.0 534.8,508.2 535.0,509.2 535.2,514.4 535.4,509.9 535.6,506.4 535.8,508.5 536.0,504.7 536.2,508.8 536.4,506.3 536.6,507.2 536.9,511.5 537.1,503.6 537.3,507.6 537.5,505.7 537.7,513.6 537.9,513.7 538.1,509.9 538.3,512.5 538.5,506.6 538.7,507.5 538.9,504.1 539.1,506.7 539.3,513.9 539.5,505.2 539.7,511.9 539.9,512.2 540.2,508.9 540.4,509.2 540.6,504.9 540.8,499.9 541.0,507.4 541.2,503.1 541.4,510.0 541.6,507.7 541.8,511.3 542.0,510.9 542.2,503.5 542.4,507.2 542.6,507.2 542.8,512.3 543.0,501.8 543.2,509.6 543.4,511.5 543.7,508.7 543.9,505.7 544.1,505.2 544.3,502.0 544.5,512.1 544.7,508.9 544.9,499.7 545.1,495.6 545.3,505.4 545.5,500.5 545.7,503.2 545.9,496.6 546.1,493.9 546.3,489.4 546.5,495.2 546.7,489.5 546.9,497.2 547.2,501.4 547.4,499.2 547.6,506.2 547.8,511.6 548.0,507.3 548.2,499.1 548.4,508.1 548.6,506.6 548.8,509.8 549.0,510.1 549.2,507.3 549.4,518.5 549.6,514.7 549.8,512.1 550.0,510.9 550.2,503.8 550.5,500.8 550.7,507.4 550.9,508.4 551.1,507.3 551.3,503.9 551.5,514.2 551.7,512.2 551.9,509.6 552.1,509.1 552.3,518.2 552.5,508.6 552.7,517.0 552.9,507.3 553.1,507.0 553.3,519.6 553.5,508.5 553.7,509.8 554.0,513.2 554.2,506.7 554.4,502.5 554.6,508.7 554.8,515.2 555.0,516.7 555.2,515.6 555.4,515.0 555.6,506.3 555.8,509.7 556.0,511.0 556.2,507.4 556.4,510.9 556.6,510.9 556.8,514.5 557.0,513.6 557.2,511.0 557.5,515.9 557.7,504.4 557.9,510.7 558.1,513.5 558.3,507.3 558.5,515.6 558.7,507.0 558.9,511.0 559.1,503.7 559.3,513.7 559.5,513.1 559.7,515.0 559.9,516.7 560.1,510.6 560.3,516.0 560.5,510.4 560.8,514.3 561.0,507.5 561.2,520.7 561.4,510.1 561.6,511.7 561.8,511.9 562.0,514.5 562.2,504.9 562.4,513.7 562.6,510.4 562.8,513.2 563.0,513.6 563.2,511.9 563.4,509.5 563.6,516.9 563.8,514.3 564.0,518.1 564.3,510.8 564.5,516.0 564.7,515.6 564.9,510.0 565.1,512.7 565.3,511.0 565.5,513.3 565.7,511.1 565.9,512.5 566.1,517.4 566.3,512.1 566.5,514.4 566.7,514.0 566.9,511.9 567.1,515.4 567.3,517.5 567.5,508.4 567.8,505.8 568.0,514.7 568.2,508.7 568.4,511.9 568.6,516.1 568.8,516.9 569.0,514.7 569.2,515.4 569.4,515.0 569.6,514.2 569.8,518.3 570.0,510.4 570.2,518.4 570.4,518.2 570.6,510.3 570.8,511.0 571.0,508.3 571.3,513.6 571.5,516.8 571.7,509.7 571.9,514.7 572.1,514.9 572.3,517.8 572.5,512.9 572.7,523.3 572.9,512.5 573.1,522.7 573.3,511.2 573.5,521.0 573.7,512.1 573.9,506.0 574.1,516.0 574.3,519.6 574.6,507.2 574.8,516.8 575.0,519.6 575.2,510.2 575.4,523.9 575.6,521.2 575.8,520.6 576.0,518.2 576.2,523.5 576.4,512.2 576.6,511.5 576.8,515.8 577.0,517.3 577.2,521.9 577.4,513.9 577.6,518.6 577.8,513.4 578.1,511.9 578.3,515.8 578.5,524.4 578.7,519.8 578.9,510.7 579.1,515.1 579.3,510.6 579.5,524.9 579.7,516.8 579.9,517.1 580.1,522.9 580.3,519.0 580.5,512.7 580.7,514.5 580.9,518.8 581.1,515.4 581.4,512.0 581.6,521.1 581.8,515.7 582.0,512.8 582.2,519.7 582.4,511.9 582.6,517.4 582.8,512.7 583.0,513.5 583.2,516.2 583.4,518.4 583.6,519.9 583.8,516.7 584.0,516.6 584.2,511.9 584.4,517.8 584.6,516.1 584.9,510.9 585.1,516.3 585.3,515.9 585.5,511.4 585.7,517.4 585.9,516.2 586.1,514.9 586.3,518.3 586.5,522.3 586.7,523.7 586.9,518.8 587.1,513.6 587.3,514.2 587.5,511.8 587.7,514.6 587.9,520.8 588.1,523.9 588.4,520.3 588.6,519.4 588.8,521.3 589.0,514.8 589.2,521.6 589.4,516.3 589.6,515.5 589.8,525.4 590.0,520.3 590.2,513.8 590.4,515.4 590.6,518.3 590.8,523.1 591.0,521.6 591.2,518.6 591.4,514.0 591.7,517.1 591.9,519.4 592.1,518.2 592.3,516.1 592.5,525.9 592.7,523.0 592.9,519.1 593.1,514.6 593.3,515.1 593.5,522.4 593.7,519.3 593.9,522.3 594.1,521.0 594.3,519.0 594.5,521.0 594.7,521.8 594.9,524.1 595.2,525.8 595.4,520.5 595.6,519.0 595.8,517.4 596.0,523.0 596.2,522.7 596.4,515.1 596.6,518.4 596.8,516.6 597.0,522.2 597.2,522.8 597.4,524.6 597.6,516.4 597.8,524.6 598.0,526.9 598.2,523.2 598.4,515.5 598.7,520.3 598.9,519.5 599.1,520.0 599.3,520.7 599.5,521.2 599.7,525.9 599.9,514.2 600.1,521.2 600.3,516.1 600.5,526.7 600.7,518.7 600.9,525.3 601.1,525.8 601.3,519.9 601.5,517.0 601.7,515.7 602.0,515.9 602.2,522.1 602.4,518.1 602.6,523.4 602.8,523.2 603.0,520.3 603.2,521.7 603.4,518.1 603.6,528.3 603.8,517.0 604.0,523.6 604.2,515.8 604.4,517.1 604.6,525.9 604.8,521.7 605.0,519.0 605.2,524.6 605.5,524.5 605.7,522.9 605.9,518.9 606.1,518.4 606.3,523.4 606.5,518.7 606.7,516.3 606.9,518.5 607.1,524.8 607.3,525.2 607.5,521.0 607.7,519.0 607.9,520.5 608.1,523.6 608.3,525.7 608.5,517.5 608.7,522.9 609.0,515.3 609.2,526.7 609.4,523.7 609.6,524.9 609.8,515.6 610.0,517.9 610.2,524.4 610.4,529.8 610.6,518.3 610.8,522.2 611.0,527.0 611.2,528.4 611.4,521.3 611.6,523.6 611.8,522.3 612.0,521.4 612.2,524.3 612.5,524.0 612.7,520.6 612.9,523.5 613.1,524.2 613.3,520.8 613.5,530.6 613.7,518.6 613.9,521.6 614.1,526.2 614.3,524.0 614.5,518.8 614.7,521.4 614.9,530.1 615.1,527.3 615.3,522.9 615.5,517.0 615.8,520.8 616.0,524.4 616.2,521.6 616.4,523.7 616.6,524.9 616.8,522.4 617.0,531.8 617.2,520.2 617.4,522.0 617.6,525.6 617.8,527.2 618.0,528.5 618.2,523.1 618.4,523.6 618.6,523.6 618.8,517.9 619.0,532.4 619.3,527.0 619.5,527.2 619.7,520.9 619.9,525.4 620.1,528.0 620.3,523.8 620.5,523.1 620.7,518.7 620.9,523.8 621.1,526.3 621.3,526.6 621.5,527.8 621.7,523.1 621.9,521.9 622.1,525.8 622.3,525.5 622.5,520.0 622.8,524.7 623.0,523.3 623.2,529.2 623.4,527.4 623.6,533.1 623.8,530.3 624.0,524.0 624.2,520.8 624.4,526.4 624.6,529.9 624.8,525.2 625.0,521.4 625.2,526.2 625.4,522.3 625.6,525.9 625.8,530.2 626.1,529.1 626.3,526.8 626.5,517.8 626.7,523.8 626.9,526.9 627.1,525.0 627.3,525.3 627.5,527.7 627.7,526.5 627.9,527.1 628.1,523.6 628.3,520.6 628.5,521.5 628.7,527.5 628.9,524.4 629.1,529.1 629.3,530.5 629.6,526.3 629.8,524.4 630.0,526.9 630.2,523.7 630.4,523.7 630.6,524.0 630.8,527.4 631.0,531.8 631.2,520.4 631.4,528.7 631.6,524.4 631.8,525.3 632.0,528.3 632.2,520.6 632.4,524.7 632.6,527.3 632.9,528.8 633.1,530.8 633.3,531.9 633.5,525.3 633.7,529.0 633.9,529.1 634.1,525.7 634.3,528.8 634.5,525.3 634.7,529.9 634.9,529.5 635.1,524.4 635.3,530.2 635.5,525.6 635.7,526.0 635.9,527.9 636.1,533.8 636.4,532.6 636.6,531.9 636.8,532.6 637.0,525.0 637.2,531.2 637.4,532.6 637.6,530.0 637.8,528.6 638.0,534.2 638.2,526.2 638.4,525.8 638.6,530.5 638.8,525.6 639.0,534.0 639.2,530.5 639.4,529.2 639.6,528.4 639.9,524.6 640.1,529.9 640.3,532.3 640.5,528.0 640.7,528.3 640.9,527.3 641.1,530.1 641.3,528.3 641.5,531.0 641.7,527.0 641.9,531.4 642.1,531.3 642.3,525.0 642.5,531.8 642.7,529.2 642.9,527.3 643.2,530.4 643.4,526.1 643.6,531.4 643.8,525.8 644.0,534.9 644.2,534.2 644.4,529.3 644.6,524.6 644.8,524.0 645.0,532.6 645.2,529.8 645.4,531.4 645.6,537.2 645.8,527.3 646.0,531.1 646.2,525.1 646.4,528.9 646.7,531.8 646.9,532.4 647.1,530.7 647.3,528.5 647.5,531.8 647.7,522.4 647.9,529.5 648.1,534.2 648.3,530.0 648.5,526.3 648.7,528.8 648.9,531.5 649.1,532.7 649.3,533.2 649.5,534.6 649.7,532.3 649.9,529.7 650.2,532.6 650.4,525.0 650.6,529.4 650.8,532.3 651.0,530.9 651.2,525.7 651.4,536.7 651.6,530.1 651.8,523.2 652.0,527.5 652.2,534.1 652.4,530.6 652.6,531.9 652.8,523.4 653.0,533.4 653.2,532.1 653.5,532.3 653.7,536.1 653.9,539.0 654.1,532.1 654.3,529.6 654.5,532.9 654.7,529.7 654.9,528.9 655.1,529.1 655.3,537.4 655.5,526.4 655.7,528.6 655.9,528.9 656.1,531.6 656.3,531.7 656.5,533.6 656.7,530.3 657.0,528.6 657.2,533.8 657.4,529.1 657.6,533.5 657.8,529.9 658.0,532.5 658.2,529.1 658.4,525.4 658.6,531.3 658.8,533.8 659.0,533.6 659.2,530.0 659.4,533.9 659.6,528.9 659.8,531.2 660.0,529.2 660.2,534.2 660.5,535.6 660.7,534.9 660.9,531.1 661.1,535.1 661.3,530.1 661.5,539.5 661.7,534.8 661.9,533.1 662.1,538.8 662.3,534.7 662.5,537.7 662.7,532.9 662.9,533.5 663.1,530.2 663.3,535.6 663.5,538.3 663.8,534.7 664.0,532.4 664.2,532.5 664.4,532.3 664.6,528.8 664.8,534.1 665.0,533.7 665.2,535.8 665.4,535.0 665.6,529.5 665.8,531.8 666.0,540.6 666.2,529.0 666.4,539.9 666.6,534.5 666.8,529.9 667.0,532.7 667.3,531.3 667.5,530.3 667.7,532.2 667.9,537.5 668.1,532.0 668.3,535.7 668.5,540.9 668.7,534.3 668.9,531.5 669.1,533.0 669.3,533.4 669.5,527.6 669.7,532.5 669.9,530.4 670.1,532.4 670.3,527.9 670.5,534.7 670.8,529.5 671.0,527.4 671.2,534.8 671.4,530.0 671.6,538.1 671.8,532.5 672.0,531.0 672.2,536.3 672.4,539.5 672.6,533.3 672.8,534.5 673.0,532.7 673.2,532.3 673.4,530.4 673.6,527.8 673.8,531.4 674.0,537.8 674.3,530.1 674.5,530.7 674.7,531.1 674.9,525.8 675.1,529.7 675.3,531.1 675.5,527.6 675.7,533.7 675.9,524.1 676.1,526.1 676.3,519.4 676.5,521.4 676.7,521.1 676.9,520.2 677.1,523.2 677.3,517.8 677.6,514.9 677.8,510.9 678.0,511.0 678.2,508.5 678.4,506.9 678.6,509.5 678.8,505.3 679.0,505.7 679.2,507.8 679.4,507.2 679.6,497.6 679.8,492.9 680.0,488.7 680.2,489.8 680.4,472.5 680.6,459.6 680.8,451.9 681.1,431.5 681.3,413.3 681.5,410.8 681.7,408.8 681.9,425.7 682.1,441.9 682.3,457.0 682.5,478.5 682.7,492.6 682.9,504.3 683.1,516.3 683.3,513.6 683.5,522.8 683.7,526.0 683.9,528.2 684.1,527.9 684.4,532.3 684.6,527.2 684.8,531.9 685.0,528.8 685.2,534.9 685.4,535.8 685.6,535.8 685.8,532.3 686.0,537.7 686.2,530.7 686.4,534.8 686.6,530.9 686.8,535.2 687.0,531.4 687.2,537.6 687.4,537.9 687.6,532.4 687.9,536.2 688.1,530.9 688.3,536.8 688.5,532.9 688.7,537.3 688.9,540.4 689.1,529.9 689.3,535.4 689.5,531.5 689.7,534.2 689.9,540.5 690.1,533.5 690.3,531.3 690.5,530.6 690.7,529.5 690.9,533.7 691.1,535.3 691.4,534.8 691.6,538.9 691.8,532.6 692.0,532.7 692.2,534.0 692.4,537.7 692.6,533.0 692.8,537.0 693.0,531.1 693.2,537.2 693.4,537.0 693.6,536.3 693.8,538.7 694.0,538.3 694.2,536.2 694.4,542.8 694.7,528.7 694.9,534.1 695.1,534.4 695.3,538.3 695.5,534.8 695.7,535.4 695.9,535.1 696.1,540.3 696.3,535.8 696.5,541.7 696.7,536.1 696.9,538.4 697.1,537.5 697.3,536.6 697.5,532.7 697.7,531.5 697.9,535.4 698.2,539.0 698.4,530.6 698.6,540.1 698.8,537.3 699.0,536.2 699.2,537.9 699.4,531.0 699.6,534.1 699.8,531.8 700.0,536.3 700.2,532.4 700.4,535.7 700.6,535.7 700.8,534.1 701.0,533.7 701.2,533.0 701.4,535.5 701.7,539.6 701.9,535.5 702.1,541.5 702.3,534.8 702.5,536.1 702.7,530.2 702.9,539.5 703.1,524.5 703.3,530.7 703.5,532.8 703.7,523.6 703.9,520.2 704.1,516.7 704.3,506.7 704.5,512.3 704.7,505.0 705.0,503.4 705.2,506.1 705.4,505.1 705.6,505.6 705.8,516.8 706.0,516.8 706.2,518.8 706.4,523.2 706.6,533.2 706.8,529.0 707.0,532.7 707.2,528.6 707.4,533.8 707.6,527.6 707.8,538.5 708.0,533.2 708.2,537.9 708.5,529.5 708.7,530.4 708.9,538.7 709.1,533.4 709.3,536.1 709.5,541.4 709.7,539.6 709.9,535.9 710.1,534.7 710.3,537.7 710.5,535.5 710.7,535.5 710.9,535.7 711.1,540.6 711.3,536.3 711.5,535.1 711.7,541.7 712.0,531.9 712.2,532.2 712.4,536.5 712.6,530.2 712.8,539.7 713.0,540.2 713.2,539.2 713.4,539.5 713.6,531.2 713.8,537.1 714.0,537.5 714.2,536.1 714.4,532.2 714.6,536.8 714.8,538.6 715.0,536.5 715.2,533.4 715.5,538.1 715.7,532.9 715.9,536.5 716.1,538.1 716.3,536.0 716.5,531.2 716.7,538.4 716.9,533.2 717.1,535.9 717.3,537.2 717.5,537.6 717.7,535.1 717.9,535.8 718.1,536.6 718.3,535.7 718.5,540.7 718.8,540.0 719.0,541.2 719.2,539.1 719.4,538.7 719.6,539.2 719.8,536.3 720.0,541.1 720.2,538.9 720.4,535.3 720.6,532.7 720.8,538.0 721.0,534.3 721.2,533.8 721.4,541.5 721.6,537.5 721.8,541.7 722.0,539.6 722.3,537.0 722.5,542.4 722.7,536.7 722.9,538.9 723.1,539.2 723.3,536.8 723.5,541.1 723.7,544.0 723.9,538.5 724.1,540.9 724.3,539.3 724.5,542.2 724.7,541.7 724.9,542.0 725.1,542.8 725.3,541.4 725.5,541.3 725.8,538.8 726.0,531.7 726.2,540.9 726.4,544.0 726.6,537.1 726.8,542.9 727.0,541.8 727.2,540.1 727.4,538.9 727.6,538.9 727.8,538.4 728.0,539.5 728.2,535.7 728.4,536.6 728.6,541.0 728.8,540.0 729.1,543.6 729.3,537.2 729.5,540.0 729.7,533.4 729.9,541.6 730.1,534.7 730.3,542.4 730.5,544.8 730.7,542.2 730.9,538.5 731.1,536.4 731.3,542.4 731.5,536.6 731.7,541.3 731.9,541.3 732.1,540.6 732.3,534.5 732.6,539.2 732.8,538.8 733.0,544.5 733.2,539.3 733.4,539.0 733.6,534.8 733.8,542.6 734.0,542.1 734.2,542.8 734.4,542.0 734.6,537.9 734.8,542.5 735.0,536.0 735.2,540.0 735.4,542.9 735.6,542.1 735.9,544.4 736.1,544.7 736.3,536.6 736.5,537.4 736.7,543.3 736.9,541.6 737.1,535.3 737.3,542.5 737.5,539.6 737.7,538.7 737.9,541.0 738.1,540.9 738.3,541.4 738.5,540.0 738.7,545.3 738.9,540.3 739.1,539.9 739.4,544.6 739.6,539.1 739.8,543.4 740.0,547.4 740.2,546.6 740.4,540.2 740.6,538.8 740.8,541.9 741.0,545.1 741.2,541.1 741.4,537.8 741.6,540.8 741.8,545.2 742.0,539.2 742.2,541.3 742.4,541.2 742.6,540.5 742.9,539.0 743.1,541.0 743.3,543.7 743.5,541.1 743.7,540.3 743.9,537.1 744.1,544.6 744.3,541.2 744.5,543.5 744.7,540.0 744.9,542.5 745.1,547.7 745.3,537.9 745.5,542.9 745.7,544.3 745.9,545.6 746.2,544.2 746.4,544.9 746.6,541.4 746.8,540.5 747.0,541.2 747.2,539.8 747.4,543.5 747.6,539.1 747.8,541.3 748.0,539.6 748.2,539.1 748.4,542.2 748.6,537.2 748.8,538.6 749.0,542.3 749.2,535.6 749.4,535.9 749.7,545.8 749.9,547.9 750.1,543.0 750.3,539.7 750.5,538.2 750.7,539.1 750.9,541.2 751.1,538.1 751.3,538.9 751.5,542.5 751.7,540.6 751.9,537.9 752.1,543.1 752.3,543.1 752.5,543.8 752.7,536.7 752.9,539.1 753.2,538.6 753.4,542.4 753.6,541.3 753.8,537.5 754.0,542.1 754.2,537.6 754.4,541.3 754.6,541.4 754.8,539.6 755.0,538.7 755.2,535.9 755.4,542.4 755.6,536.1 755.8,543.7 756.0,544.0 756.2,548.2 756.5,538.8 756.7,536.8 756.9,545.1 757.1,542.4 757.3,542.2 757.5,546.2 757.7,541.2 757.9,540.5 758.1,543.0 758.3,544.6 758.5,541.0 758.7,539.6 758.9,545.8 759.1,541.8 759.3,539.8 759.5,548.3 759.7,540.5 760.0,536.2 760.2,545.4 760.4,537.5 760.6,542.4 760.8,539.7 761.0,542.0 761.2,545.1 761.4,546.8 761.6,534.6 761.8,545.7 762.0,542.4 762.2,537.2 762.4,540.7 762.6,541.1 762.8,547.8 763.0,543.5 763.2,545.7 763.5,547.1 763.7,540.5 763.9,539.1 764.1,544.0 764.3,543.7 764.5,540.4 764.7,539.0 764.9,544.9 765.1,538.1 765.3,538.8 765.5,541.7 765.7,545.1 765.9,540.0 766.1,539.6 766.3,536.4 766.5,543.6 766.8,536.9 767.0,542.8 767.2,540.2 767.4,542.1 767.6,541.5 767.8,537.3 768.0,543.9 768.2,539.3 768.4,542.6 768.6,541.9 768.8,544.0 769.0,541.2 769.2,548.0 769.4,542.6 769.6,538.8 769.8,539.3 770.0,546.8 770.3,545.3 770.5,543.2 770.7,536.1 770.9,543.2 771.1,541.9 771.3,542.7 771.5,541.0 771.7,544.7 771.9,541.1 772.1,540.5 772.3,538.7 772.5,544.6 772.7,539.2 772.9,536.1 773.1,539.5 773.3,539.9 773.5,548.8 773.8,537.9 774.0,536.1 774.2,538.2 774.4,540.4 774.6,539.4 774.8,535.1 775.0,544.2 775.2,543.2 775.4,538.6 775.6,541.2 775.8,548.7 776.0,541.3 776.2,541.0 776.4,544.9 776.6,540.9 776.8,541.3 777.1,547.6 777.3,540.5 777.5,535.4 777.7,536.7 777.9,545.6 778.1,546.2 778.3,541.9 778.5,541.2 778.7,546.2 778.9,544.4 779.1,537.9 779.3,541.4 779.5,538.9 779.7,542.2 779.9,538.9 780.1,543.8 780.3,543.7 780.6,545.1 780.8,548.1 781.0,543.4 781.2,546.3 781.4,543.6 781.6,541.7 781.8,541.6 782.0,541.0 782.2,543.4 782.4,542.4 782.6,538.6 782.8,542.7 783.0,542.1 783.2,549.0 783.4,545.6 783.6,538.8 783.8,544.9 784.1,545.5 784.3,539.2 784.5,546.0 784.7,539.2 784.9,542.5 785.1,544.2 785.3,548.6 785.5,538.1 785.7,547.9 785.9,546.1 786.1,539.8 786.3,546.1 786.5,540.7 786.7,542.4 786.9,543.1 787.1,545.5 787.4,544.3 787.6,541.4 787.8,545.3 788.0,540.3 788.2,541.5 788.4,540.6 788.6,541.6 788.8,540.5 789.0,541.1 789.2,539.7 789.4,541.1 789.6,541.3 789.8,545.1 790.0,547.6 790.2,542.1 790.4,539.3 790.6,545.2 790.9,547.2 791.1,544.0 791.3,541.2 791.5,539.7 791.7,543.3 791.9,545.9 792.1,542.5 792.3,540.2 792.5,542.5 792.7,539.2 792.9,543.9 793.1,539.6 793.3,537.2 793.5,545.4 793.7,545.0 793.9,540.3 794.1,535.4 794.4,540.7 794.6,542.4 794.8,538.2 795.0,542.6 795.2,547.3 795.4,545.2 795.6,538.1 795.8,547.5 796.0,546.7 796.2,539.7 796.4,541.8 796.6,538.5 796.8,545.6 797.0,544.6 797.2,543.4 797.4,546.1 797.7,543.0 797.9,542.8 798.1,539.6 798.3,542.5 798.5,543.5 798.7,540.7 798.9,538.8 799.1,539.0 799.3,541.4 799.5,543.4 799.7,543.7 799.9,546.3 800.1,542.0 800.3,542.3 800.5,537.1 800.7,541.5 800.9,539.9 801.2,538.2 801.4,548.0 801.6,544.2 801.8,542.9 802.0,541.8 802.2,545.7 802.4,539.5 802.6,539.4 802.8,540.6 803.0,540.1 803.2,545.6 803.4,538.6 803.6,544.1 803.8,548.0 804.0,541.8 804.2,540.8 804.4,544.3 804.7,547.3 804.9,545.7 805.1,542.6 805.3,548.9 805.5,538.9 805.7,539.0 805.9,542.7 806.1,538.8 806.3,542.6 806.5,545.6 806.7,540.1 806.9,540.3 807.1,545.0 807.3,546.5 807.5,545.1 807.7,538.4 808.0,543.0 808.2,535.1 808.4,544.1 808.6,540.1 808.8,541.0 809.0,542.7 809.2,539.4 809.4,544.7 809.6,542.2 809.8,545.6 810.0,548.8 810.2,541.7 810.4,545.5 810.6,546.0 810.8,540.1 811.0,542.4 811.2,540.7 811.5,536.5 811.7,541.3 811.9,540.5 812.1,545.6 812.3,539.3 812.5,539.2 812.7,545.1 812.9,539.8 813.1,540.8 813.3,542.5 813.5,541.6 813.7,534.9 813.9,543.8 814.1,542.8 814.3,541.5 814.5,542.3 814.7,547.5 815.0,539.7 815.2,538.9 815.4,536.3 815.6,543.5 815.8,545.7 816.0,539.7 816.2,544.9 816.4,541.7 816.6,542.9 816.8,541.1 817.0,543.1 817.2,539.4 817.4,544.5 817.6,534.7 817.8,539.2 818.0,543.6 818.2,544.6 818.5,542.2 818.7,543.0 818.9,544.1 819.1,537.2 819.3,538.5 819.5,544.9 819.7,539.7 819.9,541.4 820.1,539.1 820.3,543.5 820.5,534.8 820.7,541.2 820.9,535.2 821.1,542.9 821.3,537.2 821.5,541.7 821.8,536.1 822.0,541.9 822.2,544.7 822.4,544.7 822.6,543.3 822.8,539.4 823.0,540.1 823.2,540.9 823.4,537.9 823.6,536.1 823.8,544.4 824.0,538.1 824.2,534.2 824.4,543.1 824.6,543.0 824.8,539.9 825.0,540.4 825.3,542.8 825.5,541.4 825.7,536.0 825.9,538.2 826.1,543.6 826.3,546.5 826.5,544.6 826.7,540.5 826.9,543.5 827.1,543.7 827.3,538.7 827.5,541.9 827.7,542.2 827.9,540.3 828.1,536.4 828.3,540.0 828.6,538.7 828.8,540.6 829.0,536.0 829.2,544.7 829.4,544.4 829.6,542.4 829.8,534.4 830.0,535.9 830.2,544.3 830.4,542.2 830.6,539.0 830.8,540.5 831.0,537.9 831.2,542.3 831.4,545.9 831.6,538.7 831.8,536.7 832.1,545.5 832.3,546.6 832.5,542.1 832.7,546.5 832.9,539.2 833.1,544.2 833.3,538.2 833.5,541.6 833.7,540.1 833.9,538.4 834.1,541.1 834.3,543.7 834.5,537.5 834.7,545.1 834.9,535.9 835.1,542.3 835.3,542.1 835.6,539.1 835.8,539.0 836.0,538.7 836.2,545.0 836.4,543.1 836.6,539.2 836.8,539.1 837.0,540.5 837.2,536.1 837.4,540.8 837.6,537.2 837.8,536.7 838.0,539.0 838.2,540.8 838.4,537.8 838.6,538.7 838.9,538.1 839.1,542.8 839.3,538.6 839.5,534.9 839.7,540.9 839.9,539.5 840.1,540.7 840.3,537.1 840.5,546.5 840.7,534.8 840.9,538.3 841.1,540.6 841.3,539.0 841.5,536.2 841.7,538.6 841.9,537.6 842.1,535.9 842.4,539.2 842.6,537.4 842.8,535.0 843.0,537.9 843.2,541.7 843.4,537.2 843.6,533.1 843.8,540.6 844.0,538.1"/>
<polyline fill="none" stroke="#0000ff" stroke-width="4.6" stroke-linejoin="round"  points="174.5,433.8 174.7,440.4 174.9,441.0 175.1,444.1 175.3,441.5 175.5,437.3 175.7,443.5 175.9,453.2 176.1,440.8 176.4,442.9 176.6,438.7 176.8,441.6 177.0,431.3 177.2,450.0 177.4,448.4 177.6,437.6 177.8,448.8 178.0,439.8 178.2,442.1 178.4,455.1 178.6,437.5 178.8,432.8 179.0,440.6 179.2,451.4 179.4,436.8 179.7,449.0 179.9,442.9 180.1,439.3 180.3,447.3 180.5,453.4 180.7,443.1 180.9,442.4 181.1,447.8 181.3,447.4 181.5,437.2 181.7,442.8 181.9,445.3 182.1,446.2 182.3,441.1 182.5,441.6 182.7,443.4 182.9,451.5 183.2,444.8 183.4,446.5 183.6,441.9 183.8,434.7 184.0,436.0 184.2,438.1 184.4,441.6 184.6,444.5 184.8,440.2 185.0,445.6 185.2,444.7 185.4,448.0 185.6,442.8 185.8,443.0 186.0,430.3 186.2,438.9 186.4,445.0 186.7,437.5 186.9,445.7 187.1,435.9 187.3,437.5 187.5,427.5 187.7,449.8 187.9,443.2 188.1,443.5 188.3,440.8 188.5,438.1 188.7,449.2 188.9,447.6 189.1,440.8 189.3,436.5 189.5,450.2 189.7,453.1 189.9,435.4 190.2,437.4 190.4,435.8 190.6,449.4 190.8,444.3 191.0,441.6 191.2,440.2 191.4,443.9 191.6,443.5 191.8,436.5 192.0,446.0 192.2,446.8 192.4,446.1 192.6,446.6 192.8,442.4 193.0,444.7 193.2,446.2 193.5,434.1 193.7,441.5 193.9,445.6 194.1,435.3 194.3,447.1 194.5,443.6 194.7,444.2 194.9,447.3 195.1,446.1 195.3,443.1 195.5,453.0 195.7,446.3 195.9,442.1 196.1,442.0 196.3,441.9 196.5,428.8 196.7,439.6 197.0,444.9 197.2,444.8 197.4,444.0 197.6,441.2 197.8,446.0 198.0,434.4 198.2,451.3 198.4,440.1 198.6,441.0 198.8,451.7 199.0,440.3 199.2,440.8 199.4,448.5 199.6,429.6 199.8,439.9 200.0,446.7 200.2,447.7 200.5,449.4 200.7,443.0 200.9,444.3 201.1,453.8 201.3,451.5 201.5,449.5 201.7,447.5 201.9,447.3 202.1,449.3 202.3,441.0 202.5,439.1 202.7,444.7 202.9,459.3 203.1,446.3 203.3,441.8 203.5,445.9 203.8,443.7 204.0,444.9 204.2,455.1 204.4,460.1 204.6,441.7 204.8,449.1 205.0,443.2 205.2,447.8 205.4,447.0 205.6,437.3 205.8,453.7 206.0,446.2 206.2,453.1 206.4,445.8 206.6,443.3 206.8,442.2 207.0,445.5 207.3,455.3 207.5,445.1 207.7,441.0 207.9,440.4 208.1,433.3 208.3,443.3 208.5,453.4 208.7,450.4 208.9,446.6 209.1,440.6 209.3,454.6 209.5,441.6 209.7,443.4 209.9,453.1 210.1,443.8 210.3,452.6 210.6,447.9 210.8,449.9 211.0,446.6 211.2,455.6 211.4,444.9 211.6,462.0 211.8,451.0 212.0,452.1 212.2,438.7 212.4,445.3 212.6,451.9 212.8,454.5 213.0,448.8 213.2,453.0 213.4,435.2 213.6,463.6 213.8,449.0 214.1,463.8 214.3,443.1 214.5,454.7 214.7,439.7 214.9,453.3 215.1,443.2 215.3,448.8 215.5,442.8 215.7,450.1 215.9,464.6 216.1,455.0 216.3,460.3 216.5,444.8 216.7,447.4 216.9,450.8 217.1,448.1 217.3,449.8 217.6,454.7 217.8,439.1 218.0,449.9 218.2,452.7 218.4,460.7 218.6,455.5 218.8,451.7 219.0,453.0 219.2,455.0 219.4,452.4 219.6,459.2 219.8,452.3 220.0,462.0 220.2,457.9 220.4,457.2 220.6,447.4 220.8,449.8 221.1,452.5 221.3,460.2 221.5,455.7 221.7,448.4 221.9,445.7 222.1,462.6 222.3,456.3 222.5,453.1 222.7,451.7 222.9,453.9 223.1,450.0 223.3,463.1 223.5,444.7 223.7,461.5 223.9,454.2 224.1,451.5 224.4,447.6 224.6,449.4 224.8,449.7 225.0,447.3 225.2,456.2 225.4,450.8 225.6,446.1 225.8,460.3 226.0,464.4 226.2,462.1 226.4,447.4 226.6,448.5 226.8,458.5 227.0,454.9 227.2,453.7 227.4,450.3 227.6,468.4 227.9,460.4 228.1,458.7 228.3,455.3 228.5,457.0 228.7,459.5 228.9,456.0 229.1,471.8 229.3,443.8 229.5,453.2 229.7,453.0 229.9,462.5 230.1,456.1 230.3,446.3 230.5,447.9 230.7,458.7 230.9,466.8 231.2,458.5 231.4,461.4 231.6,454.6 231.8,467.7 232.0,461.2 232.2,458.6 232.4,463.2 232.6,454.2 232.8,467.6 233.0,468.3 233.2,463.1 233.4,456.2 233.6,463.1 233.8,465.0 234.0,456.8 234.2,460.4 234.4,465.1 234.7,461.3 234.9,463.6 235.1,458.7 235.3,461.6 235.5,467.4 235.7,465.6 235.9,465.4 236.1,460.8 236.3,460.9 236.5,468.3 236.7,464.6 236.9,461.7 237.1,457.1 237.3,462.3 237.5,452.3 237.7,463.9 237.9,459.8 238.2,466.3 238.4,470.4 238.6,464.0 238.8,461.9 239.0,462.9 239.2,464.1 239.4,467.1 239.6,470.1 239.8,467.1 240.0,462.7 240.2,459.9 240.4,479.2 240.6,462.2 240.8,459.6 241.0,458.6 241.2,464.0 241.4,462.4 241.7,469.1 241.9,467.1 242.1,463.6 242.3,473.3 242.5,471.6 242.7,465.9 242.9,475.0 243.1,466.9 243.3,476.1 243.5,466.3 243.7,467.4 243.9,471.0 244.1,473.3 244.3,470.9 244.5,481.2 244.7,470.4 245.0,467.5 245.2,461.2 245.4,471.4 245.6,469.5 245.8,460.4 246.0,458.5 246.2,471.6 246.4,462.7 246.6,462.0 246.8,466.0 247.0,474.9 247.2,474.7 247.4,465.9 247.6,455.8 247.8,470.5 248.0,460.3 248.2,458.5 248.5,476.9 248.7,473.2 248.9,461.0 249.1,464.1 249.3,466.7 249.5,470.0 249.7,466.4 249.9,473.8 250.1,456.7 250.3,477.0 250.5,480.8 250.7,469.5 250.9,462.0 251.1,473.4 251.3,470.9 251.5,476.5 251.8,471.1 252.0,476.6 252.2,476.6 252.4,479.4 252.6,474.1 252.8,460.1 253.0,471.4 253.2,470.0 253.4,458.2 253.6,474.9 253.8,477.1 254.0,468.3 254.2,478.5 254.4,469.5 254.6,464.8 254.8,477.8 255.0,474.6 255.3,461.8 255.5,477.8 255.7,475.7 255.9,470.4 256.1,473.6 256.3,476.8 256.5,462.6 256.7,475.2 256.9,470.0 257.1,474.3 257.3,473.2 257.5,479.9 257.7,466.6 257.9,474.4 258.1,464.6 258.3,478.7 258.5,474.8 258.8,469.2 259.0,471.4 259.2,475.8 259.4,472.8 259.6,479.6 259.8,471.7 260.0,485.2 260.2,471.1 260.4,464.2 260.6,466.9 260.8,467.2 261.0,474.5 261.2,469.3 261.4,474.5 261.6,472.7 261.8,472.7 262.1,485.3 262.3,466.8 262.5,469.5 262.7,467.3 262.9,477.7 263.1,468.2 263.3,469.4 263.5,485.1 263.7,482.4 263.9,471.9 264.1,476.0 264.3,472.3 264.5,475.9 264.7,463.5 264.9,483.2 265.1,480.1 265.3,477.9 265.6,480.1 265.8,475.6 266.0,472.4 266.2,480.0 266.4,470.1 266.6,464.6 266.8,465.9 267.0,460.6 267.2,465.6 267.4,472.4 267.6,461.9 267.8,468.1 268.0,461.3 268.2,473.3 268.4,484.4 268.6,478.9 268.8,471.1 269.1,468.9 269.3,473.3 269.5,466.2 269.7,478.7 269.9,476.0 270.1,466.2 270.3,471.6 270.5,471.3 270.7,463.6 270.9,465.4 271.1,476.3 271.3,470.5 271.5,481.5 271.7,471.6 271.9,469.2 272.1,481.5 272.4,462.2 272.6,459.6 272.8,468.3 273.0,465.7 273.2,462.3 273.4,472.0 273.6,464.8 273.8,468.5 274.0,479.6 274.2,475.9 274.4,473.8 274.6,464.2 274.8,469.7 275.0,464.5 275.2,472.9 275.4,477.5 275.6,457.8 275.9,456.3 276.1,467.1 276.3,470.2 276.5,461.6 276.7,474.6 276.9,468.8 277.1,475.6 277.3,463.6 277.5,464.4 277.7,467.7 277.9,468.6 278.1,473.2 278.3,468.4 278.5,455.4 278.7,464.4 278.9,454.1 279.1,466.5 279.4,461.3 279.6,463.2 279.8,461.7 280.0,455.0 280.2,472.0 280.4,454.5 280.6,454.5 280.8,458.4 281.0,457.7 281.2,459.2 281.4,453.3 281.6,456.9 281.8,462.2 282.0,455.8 282.2,450.5 282.4,453.9 282.6,455.7 282.9,454.4 283.1,458.5 283.3,458.0 283.5,466.6 283.7,455.8 283.9,448.3 284.1,456.6 284.3,459.6 284.5,448.1 284.7,452.4 284.9,452.3 285.1,450.0 285.3,448.3 285.5,452.7 285.7,457.3 285.9,440.9 286.2,451.2 286.4,456.2 286.6,449.8 286.8,443.2 287.0,459.3 287.2,441.8 287.4,450.6 287.6,436.8 287.8,444.9 288.0,449.4 288.2,440.5 288.4,440.0 288.6,449.9 288.8,445.8 289.0,450.2 289.2,440.7 289.4,455.1 289.7,446.8 289.9,459.0 290.1,441.1 290.3,458.8 290.5,450.8 290.7,441.9 290.9,445.4 291.1,445.6 291.3,448.5 291.5,444.8 291.7,452.7 291.9,438.8 292.1,435.2 292.3,435.0 292.5,439.7 292.7,431.0 292.9,435.5 293.2,431.8 293.4,435.0 293.6,436.9 293.8,441.6 294.0,451.4 294.2,431.4 294.4,436.0 294.6,421.6 294.8,447.5 295.0,428.2 295.2,439.7 295.4,432.9 295.6,438.4 295.8,429.7 296.0,431.8 296.2,425.2 296.5,429.7 296.7,427.0 296.9,421.2 297.1,425.9 297.3,429.9 297.5,420.2 297.7,428.9 297.9,425.0 298.1,429.5 298.3,431.5 298.5,442.3 298.7,421.4 298.9,433.6 299.1,420.3 299.3,412.6 299.5,433.6 299.7,418.1 300.0,424.4 300.2,420.2 300.4,431.1 300.6,422.3 300.8,421.0 301.0,411.8 301.2,406.4 301.4,418.6 301.6,422.9 301.8,404.6 302.0,420.3 302.2,419.5 302.4,418.0 302.6,415.1 302.8,413.0 303.0,421.5 303.2,417.9 303.5,403.6 303.7,405.1 303.9,412.9 304.1,413.7 304.3,416.9 304.5,407.7 304.7,418.2 304.9,413.3 305.1,417.1 305.3,417.9 305.5,412.9 305.7,412.9 305.9,416.7 306.1,412.8 306.3,411.5 306.5,415.1 306.8,416.2 307.0,412.2 307.2,406.0 307.4,402.9 307.6,409.3 307.8,412.3 308.0,410.4 308.2,396.4 308.4,403.3 308.6,416.5 308.8,409.9 309.0,413.2 309.2,411.9 309.4,421.2 309.6,408.8 309.8,418.6 310.0,412.9 310.3,397.7 310.5,401.2 310.7,414.5 310.9,415.6 311.1,414.5 311.3,421.4 311.5,414.8 311.7,409.5 311.9,415.0 312.1,401.9 312.3,407.6 312.5,410.9 312.7,394.4 312.9,401.8 313.1,406.3 313.3,393.3 313.6,397.1 313.8,411.6 314.0,404.1 314.2,409.5 314.4,416.6 314.6,392.4 314.8,395.2 315.0,415.2 315.2,402.4 315.4,417.7 315.6,398.0 315.8,406.1 316.0,407.8 316.2,396.5 316.4,405.5 316.6,407.5 316.8,398.9 317.1,407.7 317.3,399.2 317.5,405.5 317.7,399.5 317.9,400.9 318.1,399.8 318.3,412.9 318.5,391.9 318.7,406.8 318.9,392.9 319.1,410.1 319.3,407.8 319.5,407.8 319.7,397.5 319.9,409.1 320.1,403.1 320.3,417.6 320.6,409.8 320.8,404.8 321.0,407.3 321.2,420.2 321.4,403.1 321.6,413.8 321.8,392.9 322.0,408.4 322.2,390.8 322.4,402.5 322.6,404.1 322.8,411.0 323.0,408.5 323.2,404.5 323.4,422.0 323.6,400.8 323.9,416.6 324.1,410.1 324.3,425.1 324.5,405.1 324.7,403.1 324.9,406.6 325.1,406.4 325.3,411.6 325.5,407.9 325.7,400.3 325.9,412.3 326.1,405.7 326.3,404.2 326.5,411.3 326.7,408.0 326.9,408.3 327.1,413.6 327.4,393.8 327.6,413.5 327.8,398.1 328.0,402.9 328.2,425.5 328.4,409.2 328.6,403.7 328.8,405.5 329.0,418.1 329.2,409.9 329.4,420.7 329.6,419.8 329.8,414.3 330.0,411.5 330.2,401.7 330.4,411.0 330.6,406.3 330.9,422.9 331.1,423.0 331.3,418.6 331.5,403.0 331.7,425.5 331.9,427.7 332.1,417.4 332.3,408.9 332.5,429.4 332.7,420.2 332.9,428.5 333.1,409.1 333.3,415.0 333.5,418.5 333.7,421.4 333.9,423.2 334.1,421.2 334.4,427.2 334.6,429.5 334.8,431.6 335.0,424.3 335.2,430.6 335.4,419.5 335.6,440.8 335.8,422.8 336.0,423.6 336.2,419.5 336.4,430.2 336.6,439.4 336.8,436.0 337.0,422.4 337.2,432.9 337.4,434.2 337.7,435.9 337.9,432.9 338.1,434.5 338.3,444.1 338.5,438.1 338.7,427.7 338.9,425.3 339.1,436.3 339.3,439.5 339.5,427.3 339.7,438.1 339.9,445.3 340.1,438.7 340.3,433.7 340.5,428.4 340.7,442.5 340.9,436.2 341.2,442.4 341.4,433.1 341.6,439.4 341.8,439.9 342.0,448.5 342.2,444.6 342.4,445.1 342.6,458.3 342.8,438.3 343.0,444.4 343.2,446.2 343.4,447.6 343.6,445.6 343.8,444.6 344.0,455.1 344.2,446.3 344.4,446.8 344.7,447.8 344.9,458.0 345.1,449.8 345.3,457.6 345.5,447.6 345.7,441.8 345.9,445.1 346.1,453.3 346.3,455.0 346.5,455.6 346.7,450.3 346.9,457.1 347.1,456.8 347.3,468.2 347.5,459.6 347.7,459.6 348.0,458.5 348.2,448.0 348.4,464.5 348.6,464.8 348.8,453.2 349.0,463.5 349.2,458.8 349.4,457.1 349.6,458.6 349.8,463.9 350.0,453.8 350.2,450.7 350.4,466.6 350.6,462.5 350.8,455.5 351.0,463.0 351.2,468.3 351.5,465.2 351.7,458.0 351.9,469.5 352.1,462.4 352.3,462.0 352.5,468.7 352.7,461.8 352.9,461.6 353.1,460.1 353.3,460.9 353.5,475.9 353.7,462.1 353.9,464.4 354.1,462.5 354.3,473.8 354.5,463.8 354.8,467.4 355.0,476.8 355.2,462.9 355.4,475.4 355.6,477.2 355.8,469.4 356.0,475.6 356.2,470.4 356.4,474.4 356.6,471.7 356.8,469.0 357.0,474.3 357.2,469.5 357.4,470.1 357.6,480.2 357.8,470.8 358.0,472.6 358.3,475.8 358.5,470.5 358.7,467.8 358.9,473.3 359.1,486.4 359.3,475.9 359.5,479.5 359.7,480.7 359.9,477.5 360.1,481.7 360.3,471.0 360.5,479.0 360.7,480.8 360.9,476.8 361.1,477.1 361.3,475.3 361.5,478.7 361.8,482.8 362.0,482.1 362.2,495.2 362.4,491.6 362.6,478.1 362.8,486.0 363.0,474.5 363.2,474.9 363.4,492.0 363.6,483.7 363.8,473.4 364.0,490.3 364.2,484.2 364.4,487.9 364.6,488.2 364.8,488.8 365.1,487.6 365.3,483.7 365.5,492.5 365.7,485.7 365.9,492.5 366.1,486.2 366.3,487.6 366.5,493.8 366.7,489.1 366.9,494.1 367.1,495.0 367.3,484.5 367.5,500.7 367.7,488.4 367.9,487.9 368.1,495.1 368.3,486.5 368.6,487.7 368.8,499.6 369.0,490.3 369.2,490.9 369.4,497.5 369.6,490.9 369.8,490.3 370.0,498.3 370.2,505.2 370.4,493.0 370.6,499.2 370.8,504.5 371.0,497.9 371.2,508.0 371.4,498.2 371.6,488.9 371.8,508.7 372.1,494.9 372.3,502.2 372.5,499.9 372.7,502.7 372.9,495.0 373.1,498.6 373.3,502.7 373.5,505.7 373.7,501.4 373.9,493.6 374.1,505.9 374.3,497.9 374.5,498.5 374.7,510.5 374.9,495.1 375.1,501.1 375.4,489.9 375.6,492.6 375.8,502.8 376.0,502.5 376.2,507.0 376.4,509.0 376.6,498.4 376.8,503.8 377.0,504.8 377.2,503.8 377.4,499.8 377.6,498.6 377.8,503.5 378.0,504.6 378.2,503.3 378.4,493.7 378.6,514.4 378.9,510.0 379.1,502.0 379.3,503.7 379.5,498.4 379.7,497.9 379.9,494.3 380.1,507.2 380.3,498.8 380.5,500.4 380.7,491.2 380.9,492.2 381.1,489.0 381.3,500.1 381.5,499.4 381.7,505.6 381.9,506.2 382.1,508.2 382.4,511.7 382.6,501.8 382.8,506.1 383.0,502.5 383.2,512.9 383.4,517.8 383.6,511.7 383.8,509.5 384.0,505.2 384.2,504.1 384.4,503.5 384.6,502.2 384.8,506.3 385.0,509.4 385.2,513.8 385.4,507.0 385.6,512.9 385.9,514.5 386.1,508.0 386.3,510.0 386.5,507.2 386.7,514.8 386.9,506.1 387.1,510.1 387.3,512.8 387.5,515.8 387.7,517.5 387.9,519.1 388.1,506.3 388.3,519.7 388.5,510.3 388.7,514.6 388.9,516.4 389.2,516.1 389.4,514.5 389.6,510.0 389.8,511.8 390.0,514.6 390.2,521.1 390.4,523.1 390.6,506.4 390.8,519.8 391.0,522.5 391.2,510.2 391.4,522.4 391.6,512.1 391.8,511.3 392.0,514.5 392.2,511.3 392.4,522.1 392.7,521.4 392.9,516.6 393.1,515.7 393.3,516.0 393.5,513.5 393.7,518.9 393.9,525.3 394.1,513.5 394.3,516.3 394.5,511.5 394.7,505.5 394.9,514.6 395.1,512.2 395.3,518.9 395.5,510.4 395.7,512.9 396.0,513.2 396.2,510.0 396.4,519.3 396.6,511.3 396.8,511.7 397.0,506.3 397.2,521.9 397.4,513.8 397.6,503.0 397.8,514.9 398.0,514.9 398.2,504.4 398.4,502.2 398.6,511.8 398.8,515.4 399.0,514.6 399.2,513.4 399.5,515.2 399.7,514.6 399.9,509.6 400.1,509.8 400.3,507.1 400.5,508.4 400.7,513.0 400.9,502.6 401.1,502.7 401.3,502.9 401.5,495.3 401.7,482.1 401.9,465.9 402.1,439.9 402.3,396.9 402.5,344.3 402.7,289.7 403.0,224.2 403.2,172.7 403.4,133.0 403.6,126.8 403.8,155.0 404.0,211.9 404.2,276.9 404.4,342.4 404.6,392.0 404.8,439.6 405.0,463.6 405.2,483.5 405.4,499.6 405.6,501.2 405.8,508.0 406.0,507.0 406.2,513.7 406.5,510.8 406.7,507.1 406.9,514.3 407.1,512.4 407.3,519.5 407.5,518.8 407.7,526.2 407.9,519.1 408.1,523.9 408.3,518.9 408.5,528.8 408.7,524.0 408.9,520.2 409.1,519.2 409.3,528.5 409.5,523.4 409.8,512.2 410.0,518.7 410.2,521.7 410.4,532.4 410.6,526.8 410.8,520.9 411.0,522.3 411.2,521.5 411.4,519.5 411.6,523.4 411.8,520.3 412.0,531.8 412.2,514.7 412.4,525.7 412.6,527.3 412.8,518.3 413.0,522.2 413.3,520.8 413.5,527.6 413.7,523.9 413.9,522.2 414.1,530.2 414.3,526.4 414.5,526.6 414.7,526.9 414.9,528.7 415.1,531.2 415.3,524.1 415.5,525.0 415.7,521.2 415.9,526.5 416.1,529.1 416.3,532.5 416.6,526.1 416.8,527.8 417.0,518.2 417.2,517.3 417.4,520.2 417.6,530.6 417.8,532.8 418.0,528.0 418.2,530.8 418.4,521.2 418.6,526.8 418.8,529.0 419.0,527.4 419.2,522.2 419.4,531.5 419.6,525.6 419.8,533.2 420.1,528.6 420.3,530.6 420.5,526.6 420.7,527.4 420.9,523.1 421.1,525.3 421.3,530.8 421.5,533.8 421.7,531.8 421.9,530.3 422.1,529.5 422.3,531.8 422.5,524.3 422.7,525.0 422.9,530.0 423.1,531.1 423.3,530.1 423.6,529.4 423.8,529.4 424.0,536.0 424.2,531.2 424.4,537.3 424.6,529.5 424.8,527.0 425.0,534.2 425.2,529.3 425.4,532.5 425.6,533.0 425.8,522.2 426.0,526.7 426.2,528.4 426.4,532.3 426.6,528.9 426.9,531.5 427.1,528.9 427.3,534.5 427.5,531.2 427.7,532.6 427.9,536.8 428.1,524.4 428.3,528.0 428.5,534.6 428.7,537.4 428.9,534.5 429.1,535.0 429.3,534.1 429.5,537.9 429.7,535.2 429.9,531.7 430.1,530.3 430.4,540.0 430.6,532.1 430.8,536.2 431.0,536.4 431.2,533.6 431.4,535.1 431.6,529.7 431.8,529.7 432.0,533.8 432.2,535.2 432.4,525.5 432.6,525.2 432.8,531.2 433.0,533.4 433.2,528.8 433.4,527.1 433.6,535.1 433.9,525.8 434.1,533.7 434.3,528.8 434.5,535.2 434.7,532.9 434.9,535.1 435.1,533.2 435.3,529.3 435.5,537.0 435.7,534.6 435.9,531.3 436.1,535.4 436.3,525.5 436.5,539.4 436.7,524.8 436.9,536.3 437.1,529.9 437.4,527.4 437.6,531.7 437.8,539.5 438.0,535.3 438.2,533.7 438.4,531.8 438.6,530.1 438.8,529.6 439.0,528.3 439.2,538.0 439.4,530.3 439.6,541.2 439.8,533.7 440.0,538.6 440.2,541.4 440.4,530.8 440.7,534.6 440.9,530.6 441.1,540.8 441.3,539.4 441.5,535.0 441.7,537.3 441.9,534.4 442.1,537.2 442.3,536.1 442.5,539.3 442.7,529.7 442.9,536.1 443.1,539.6 443.3,532.2 443.5,533.0 443.7,534.1 443.9,534.1 444.2,536.6 444.4,535.6 444.6,543.8 444.8,541.3 445.0,540.0 445.2,534.1 445.4,530.4 445.6,535.9 445.8,536.4 446.0,530.9 446.2,536.8 446.4,532.8 446.6,533.7 446.8,540.7 447.0,534.2 447.2,534.7 447.5,540.0 447.7,539.6 447.9,540.6 448.1,530.2 448.3,527.3 448.5,532.9 448.7,529.5 448.9,541.0 449.1,530.2 449.3,528.0 449.5,529.4 449.7,539.5 449.9,531.6 450.1,536.3 450.3,531.6 450.5,538.4 450.7,535.9 451.0,538.2 451.2,534.1 451.4,536.4 451.6,531.6 451.8,532.8 452.0,534.4 452.2,536.2 452.4,537.2 452.6,536.1 452.8,533.2 453.0,535.6 453.2,535.0 453.4,536.3 453.6,536.5 453.8,538.8 454.0,543.6 454.2,534.0 454.5,534.1 454.7,540.1 454.9,528.8 455.1,540.9 455.3,532.4 455.5,535.3 455.7,535.1 455.9,531.9 456.1,532.8 456.3,536.3 456.5,540.6 456.7,541.2 456.9,535.7 457.1,530.3 457.3,533.1 457.5,536.6 457.8,535.2 458.0,533.9 458.2,529.8 458.4,539.5 458.6,533.8 458.8,535.5 459.0,539.6 459.2,540.6 459.4,531.7 459.6,535.4 459.8,537.5 460.0,536.3 460.2,532.9 460.4,536.4 460.6,530.5 460.8,537.8 461.0,539.8 461.3,537.2 461.5,540.5 461.7,538.2 461.9,532.1 462.1,530.2 462.3,534.4 462.5,536.1 462.7,540.4 462.9,540.8 463.1,535.5 463.3,536.3 463.5,539.2 463.7,538.7 463.9,530.9 464.1,533.1 464.3,536.8 464.5,536.1 464.8,532.0 465.0,535.6 465.2,536.1 465.4,543.2 465.6,543.6 465.8,544.5 466.0,545.7 466.2,537.1 466.4,535.8 466.6,540.5 466.8,535.4 467.0,535.4 467.2,537.4 467.4,542.9 467.6,531.5 467.8,531.8 468.1,539.4 468.3,529.6 468.5,537.0 468.7,540.2 468.9,538.8 469.1,544.4 469.3,538.6 469.5,543.4 469.7,532.8 469.9,536.0 470.1,542.6 470.3,535.0 470.5,543.9 470.7,536.6 470.9,535.4 471.1,537.0 471.3,541.6 471.6,537.7 471.8,538.0 472.0,537.0 472.2,531.5 472.4,530.7 472.6,531.1 472.8,539.7 473.0,540.2 473.2,537.2 473.4,535.6 473.6,545.2 473.8,539.6 474.0,530.3 474.2,542.1 474.4,540.1 474.6,540.0 474.8,535.3 475.1,537.5 475.3,538.5 475.5,543.1 475.7,534.8 475.9,537.2 476.1,539.7 476.3,537.0 476.5,534.1 476.7,542.9 476.9,543.2 477.1,541.1 477.3,540.5 477.5,545.6 477.7,539.4 477.9,532.7 478.1,538.3 478.4,533.0 478.6,545.6 478.8,537.4 479.0,531.5 479.2,530.8 479.4,538.9 479.6,540.1 479.8,535.4 480.0,541.6 480.2,538.2 480.4,543.3 480.6,536.5 480.8,536.7 481.0,530.4 481.2,535.3 481.4,539.3 481.6,537.0 481.9,541.7 482.1,536.5 482.3,537.4 482.5,534.9 482.7,532.9 482.9,544.3 483.1,535.2 483.3,533.5 483.5,541.1 483.7,528.9 483.9,539.1 484.1,527.7 484.3,533.2 484.5,532.4 484.7,535.1 484.9,532.2 485.1,540.2 485.4,539.2 485.6,543.7 485.8,533.8 486.0,538.7 486.2,532.9 486.4,533.4 486.6,541.0 486.8,532.9 487.0,534.6 487.2,534.7 487.4,533.6 487.6,535.4 487.8,535.2 488.0,530.9 488.2,538.9 488.4,539.6 488.7,537.7 488.9,530.4 489.1,535.5 489.3,526.5 489.5,542.4 489.7,536.1 489.9,534.5 490.1,530.9 490.3,525.3 490.5,529.1 490.7,528.9 490.9,516.0 491.1,504.9 491.3,508.0 491.5,481.5 491.7,463.6 491.9,446.6 492.2,423.2 492.4,400.6 492.6,387.9 492.8,384.0 493.0,392.6 493.2,400.6 493.4,423.9 493.6,442.9 493.8,467.1 494.0,483.0 494.2,496.3 494.4,510.1 494.6,516.7 494.8,530.3 495.0,526.5 495.2,529.4 495.4,534.3 495.7,533.3 495.9,541.9 496.1,533.3 496.3,535.5 496.5,542.8 496.7,532.3 496.9,537.0 497.1,533.5 497.3,535.7 497.5,533.0 497.7,534.6 497.9,536.2 498.1,533.2 498.3,531.9 498.5,543.9 498.7,535.3 499.0,537.8 499.2,539.8 499.4,530.4 499.6,531.8 499.8,539.7 500.0,540.0 500.2,532.4 500.4,538.2 500.6,537.0 500.8,543.5 501.0,536.3 501.2,531.3 501.4,537.6 501.6,536.3 501.8,529.0 502.0,532.4 502.2,530.3 502.5,533.4 502.7,531.2 502.9,542.5 503.1,539.2 503.3,542.5 503.5,527.3 503.7,535.3 503.9,536.5 504.1,539.0 504.3,540.1 504.5,544.7 504.7,527.4 504.9,536.4 505.1,535.9 505.3,541.7 505.5,536.4 505.7,534.7 506.0,536.5 506.2,533.7 506.4,539.5 506.6,534.9 506.8,532.7 507.0,534.0 507.2,534.7 507.4,536.6 507.6,540.1 507.8,534.1 508.0,537.8 508.2,540.0 508.4,533.3 508.6,542.6 508.8,538.5 509.0,533.2 509.2,532.6 509.5,537.8 509.7,536.1 509.9,534.2 510.1,536.6 510.3,539.4 510.5,534.6 510.7,535.7 510.9,536.0 511.1,532.0 511.3,535.2 511.5,538.2 511.7,535.8 511.9,528.8 512.1,539.2 512.3,537.4 512.5,539.6 512.8,535.0 513.0,541.4 513.2,534.7 513.4,533.5 513.6,539.5 513.8,539.8 514.0,542.3 514.2,536.3 514.4,540.8 514.6,538.9 514.8,538.1 515.0,539.2 515.2,533.2 515.4,530.2 515.6,544.8 515.8,539.7 516.0,535.5 516.3,540.6 516.5,538.6 516.7,535.7 516.9,531.0 517.1,531.9 517.3,537.6 517.5,536.0 517.7,537.9 517.9,537.1 518.1,541.0 518.3,543.4 518.5,537.9 518.7,532.6 518.9,533.4 519.1,543.7 519.3,537.1 519.5,538.8 519.8,535.2 520.0,540.5 520.2,532.6 520.4,536.9 520.6,533.8 520.8,532.5 521.0,543.3 521.2,536.3 521.4,529.2 521.6,534.5 521.8,529.8 522.0,531.4 522.2,533.9 522.4,529.5 522.6,524.9 522.8,522.1 523.1,519.4 523.3,527.1 523.5,517.2 523.7,523.5 523.9,516.6 524.1,515.3 524.3,510.9 524.5,511.8 524.7,508.5 524.9,516.9 525.1,513.0 525.3,516.8 525.5,520.6 525.7,527.7 525.9,523.1 526.1,526.2 526.3,526.3 526.6,531.1 526.8,533.4 527.0,532.0 527.2,532.6 527.4,532.4 527.6,528.3 527.8,538.4 528.0,528.6 528.2,545.1 528.4,533.0 528.6,540.0 528.8,529.2 529.0,540.5 529.2,533.1 529.4,541.0 529.6,541.6 529.9,534.2 530.1,534.0 530.3,540.1 530.5,529.0 530.7,538.7 530.9,531.5 531.1,541.5 531.3,541.3 531.5,537.3 531.7,541.6 531.9,536.0 532.1,546.0 532.3,537.1 532.5,539.9 532.7,541.5 532.9,537.0 533.1,538.7 533.4,539.6 533.6,534.8 533.8,536.8 534.0,536.5 534.2,532.8 534.4,538.2 534.6,534.7 534.8,539.6 535.0,535.7 535.2,536.0 535.4,540.1 535.6,543.8 535.8,542.9 536.0,541.6 536.2,535.9 536.4,538.5 536.6,539.2 536.9,536.2 537.1,535.2 537.3,532.7 537.5,540.3 537.7,535.9 537.9,535.3 538.1,541.6 538.3,537.5 538.5,541.4 538.7,538.8 538.9,536.3 539.1,544.3 539.3,541.2 539.5,540.9 539.7,537.4 539.9,540.5 540.2,536.2 540.4,540.8 540.6,539.5 540.8,535.1 541.0,536.1 541.2,536.6 541.4,537.2 541.6,533.1 541.8,531.5 542.0,537.9 542.2,539.0 542.4,539.9 542.6,528.9 542.8,538.5 543.0,539.5 543.2,532.8 543.4,528.8 543.7,536.1 543.9,529.9 544.1,531.7 544.3,524.2 544.5,508.3 544.7,504.1 544.9,493.0 545.1,477.0 545.3,461.7 545.5,453.7 545.7,457.8 545.9,467.3 546.1,469.7 546.3,495.0 546.5,500.3 546.7,517.4 546.9,516.8 547.2,523.8 547.4,530.4 547.6,524.0 547.8,536.6 548.0,534.9 548.2,538.0 548.4,538.3 548.6,537.2 548.8,539.9 549.0,537.8 549.2,530.9 549.4,543.7 549.6,542.1 549.8,541.1 550.0,539.5 550.2,534.0 550.5,535.2 550.7,536.3 550.9,537.4 551.1,529.9 551.3,542.6 551.5,542.8 551.7,538.6 551.9,537.8 552.1,539.5 552.3,541.9 552.5,543.7 552.7,539.8 552.9,541.5 553.1,540.7 553.3,543.0 553.5,533.9 553.7,537.3 554.0,532.0 554.2,541.0 554.4,538.9 554.6,540.1 554.8,539.1 555.0,540.1 555.2,539.8 555.4,546.7 555.6,540.3 555.8,536.7 556.0,546.6 556.2,540.6 556.4,537.2 556.6,534.6 556.8,539.7 557.0,537.7 557.2,532.9 557.5,534.6 557.7,541.2 557.9,541.8 558.1,535.7 558.3,538.7 558.5,541.6 558.7,540.5 558.9,538.4 559.1,540.4 559.3,540.6 559.5,540.6 559.7,545.3 559.9,533.2 560.1,535.2 560.3,534.1 560.5,540.3 560.8,539.3 561.0,537.6 561.2,536.7 561.4,546.7 561.6,538.5 561.8,543.6 562.0,540.2 562.2,542.4 562.4,533.5 562.6,537.9 562.8,540.1 563.0,534.8 563.2,540.3 563.4,542.7 563.6,540.7 563.8,541.4 564.0,539.9 564.3,536.9 564.5,540.5 564.7,540.3 564.9,536.3 565.1,539.1 565.3,536.6 565.5,539.7 565.7,545.0 565.9,544.4 566.1,546.4 566.3,536.0 566.5,538.7 566.7,542.0 566.9,543.9 567.1,538.9 567.3,540.7 567.5,539.1 567.8,543.4 568.0,544.4 568.2,534.4 568.4,543.8 568.6,540.3 568.8,535.3 569.0,547.0 569.2,537.6 569.4,540.0 569.6,540.7 569.8,539.2 570.0,544.5 570.2,548.3 570.4,533.0 570.6,541.0 570.8,536.6 571.0,535.6 571.3,538.4 571.5,537.5 571.7,536.2 571.9,532.4 572.1,535.8 572.3,532.0 572.5,536.6 572.7,535.8 572.9,532.3 573.1,529.3 573.3,526.7 573.5,519.4 573.7,521.3 573.9,522.1 574.1,513.3 574.3,518.1 574.6,517.3 574.8,516.8 575.0,520.6 575.2,524.7 575.4,522.0 575.6,525.7 575.8,529.9 576.0,528.5 576.2,531.7 576.4,535.1 576.6,541.1 576.8,536.6 577.0,530.7 577.2,534.8 577.4,534.8 577.6,539.4 577.8,535.9 578.1,542.6 578.3,542.0 578.5,538.6 578.7,545.9 578.9,540.6 579.1,539.8 579.3,534.8 579.5,543.6 579.7,539.6 579.9,543.6 580.1,543.2 580.3,549.4 580.5,544.8 580.7,537.2 580.9,539.5 581.1,540.9 581.4,533.4 581.6,539.5 581.8,546.1 582.0,542.3 582.2,541.8 582.4,535.8 582.6,544.9 582.8,540.1 583.0,538.1 583.2,544.7 583.4,541.4 583.6,549.1 583.8,541.5 584.0,549.9 584.2,543.3 584.4,535.6 584.6,540.4 584.9,541.7 585.1,541.4 585.3,534.1 585.5,540.0 585.7,538.2 585.9,543.6 586.1,543.6 586.3,545.9 586.5,542.7 586.7,544.6 586.9,538.5 587.1,539.8 587.3,542.6 587.5,544.2 587.7,550.3 587.9,544.4 588.1,541.1 588.4,539.9 588.6,550.4 588.8,550.4 589.0,541.7 589.2,546.1 589.4,543.1 589.6,544.1 589.8,540.2 590.0,549.1 590.2,544.5 590.4,539.0 590.6,541.7 590.8,545.5 591.0,540.8 591.2,541.5 591.4,545.7 591.7,540.0 591.9,540.1 592.1,543.0 592.3,539.2 592.5,546.8 592.7,539.8 592.9,543.3 593.1,546.0 593.3,544.8 593.5,538.5 593.7,544.7 593.9,544.0 594.1,545.1 594.3,545.6 594.5,539.3 594.7,534.8 594.9,538.0 595.2,541.0 595.4,540.1 595.6,544.1 595.8,544.6 596.0,547.1 596.2,537.7 596.4,544.1 596.6,545.5 596.8,545.2 597.0,542.2 597.2,544.9 597.4,542.9 597.6,542.4 597.8,538.2 598.0,547.5 598.2,542.0 598.4,545.5 598.7,544.6 598.9,537.2 599.1,540.8 599.3,544.5 599.5,541.3 599.7,543.2 599.9,539.1 600.1,544.9 600.3,541.4 600.5,543.9 600.7,543.2 600.9,543.8 601.1,545.5 601.3,542.9 601.5,539.7 601.7,545.4 602.0,544.7 602.2,542.0 602.4,546.0 602.6,540.2 602.8,540.8 603.0,551.4 603.2,545.7 603.4,547.2 603.6,540.4 603.8,540.1 604.0,547.7 604.2,545.9 604.4,543.7 604.6,544.8 604.8,540.9 605.0,540.0 605.2,541.4 605.5,539.6 605.7,540.2 605.9,543.8 606.1,545.1 606.3,546.2 606.5,540.7 606.7,540.4 606.9,540.0 607.1,544.8 607.3,545.0 607.5,542.7 607.7,539.2 607.9,542.4 608.1,542.9 608.3,546.6 608.5,542.1 608.7,541.8 609.0,547.1 609.2,537.5 609.4,547.0 609.6,540.5 609.8,544.5 610.0,543.2 610.2,546.6 610.4,545.8 610.6,541.4 610.8,544.5 611.0,545.1 611.2,540.7 611.4,541.4 611.6,543.3 611.8,543.1 612.0,537.8 612.2,544.5 612.5,542.6 612.7,542.5 612.9,548.9 613.1,550.8 613.3,543.6 613.5,540.9 613.7,543.3 613.9,545.9 614.1,546.4 614.3,541.2 614.5,545.1 614.7,549.8 614.9,541.7 615.1,543.3 615.3,542.8 615.5,540.5 615.8,539.5 616.0,542.2 616.2,544.8 616.4,551.7 616.6,543.2 616.8,544.7 617.0,539.6 617.2,539.7 617.4,542.6 617.6,539.4 617.8,544.5 618.0,544.4 618.2,547.3 618.4,545.4 618.6,543.6 618.8,540.6 619.0,546.9 619.3,541.5 619.5,536.5 619.7,549.1 619.9,545.3 620.1,544.3 620.3,540.9 620.5,537.4 620.7,540.1 620.9,544.6 621.1,547.5 621.3,544.7 621.5,544.6 621.7,543.6 621.9,547.7 622.1,539.2 622.3,547.1 622.5,542.1 622.8,543.8 623.0,548.4 623.2,544.3 623.4,544.5 623.6,545.3 623.8,541.8 624.0,546.3 624.2,536.8 624.4,540.7 624.6,547.9 624.8,552.6 625.0,540.3 625.2,543.8 625.4,544.4 625.6,548.1 625.8,549.8 626.1,551.3 626.3,536.9 626.5,539.1 626.7,546.7 626.9,538.2 627.1,551.3 627.3,542.3 627.5,542.3 627.7,547.9 627.9,546.4 628.1,548.5 628.3,544.7 628.5,540.2 628.7,541.4 628.9,543.4 629.1,541.0 629.3,551.2 629.6,537.8 629.8,545.1 630.0,549.6 630.2,546.3 630.4,547.3 630.6,544.7 630.8,543.9 631.0,552.8 631.2,540.6 631.4,538.9 631.6,548.7 631.8,539.8 632.0,540.6 632.2,541.5 632.4,539.3 632.6,550.0 632.9,542.5 633.1,548.7 633.3,537.3 633.5,548.6 633.7,549.5 633.9,541.2 634.1,543.0 634.3,545.1 634.5,544.7 634.7,543.0 634.9,539.1 635.1,547.7 635.3,547.2 635.5,547.3 635.7,545.5 635.9,545.2 636.1,549.8 636.4,544.2 636.6,549.7 636.8,546.4 637.0,546.2 637.2,546.2 637.4,540.1 637.6,539.5 637.8,541.5 638.0,539.8 638.2,546.4 638.4,540.4 638.6,545.6 638.8,544.6 639.0,544.4 639.2,550.1 639.4,547.6 639.6,546.0 639.9,544.1 640.1,545.9 640.3,548.4 640.5,549.5 640.7,545.4 640.9,549.6 641.1,549.6 641.3,545.9 641.5,544.9 641.7,548.4 641.9,551.8 642.1,544.5 642.3,542.7 642.5,547.0 642.7,546.9 642.9,553.3 643.2,542.4 643.4,549.4 643.6,543.1 643.8,547.7 644.0,546.1 644.2,546.3 644.4,552.0 644.6,537.9 644.8,551.2 645.0,545.3 645.2,548.5 645.4,546.5 645.6,540.8 645.8,552.3 646.0,546.2 646.2,544.0 646.4,545.3 646.7,544.3 646.9,548.4 647.1,551.5 647.3,550.4 647.5,547.2 647.7,543.2 647.9,545.5 648.1,540.1 648.3,545.4 648.5,545.1 648.7,545.1 648.9,551.9 649.1,543.8 649.3,549.7 649.5,547.2 649.7,538.1 649.9,550.2 650.2,545.5 650.4,544.9 650.6,545.4 650.8,545.9 651.0,547.9 651.2,538.9 651.4,553.0 651.6,549.5 651.8,540.7 652.0,544.0 652.2,548.6 652.4,549.1 652.6,546.8 652.8,538.3 653.0,544.3 653.2,549.6 653.5,545.2 653.7,548.2 653.9,540.8 654.1,545.0 654.3,541.6 654.5,545.5 654.7,538.9 654.9,544.6 655.1,545.1 655.3,549.6 655.5,547.6 655.7,544.7 655.9,547.8 656.1,538.4 656.3,546.1 656.5,548.8 656.7,542.7 657.0,548.0 657.2,544.7 657.4,546.5 657.6,548.7 657.8,541.3 658.0,545.8 658.2,542.4 658.4,547.4 658.6,551.2 658.8,550.5 659.0,548.0 659.2,546.9 659.4,546.0 659.6,544.4 659.8,550.6 660.0,545.4 660.2,550.5 660.5,548.6 660.7,538.6 660.9,541.8 661.1,547.5 661.3,540.0 661.5,541.3 661.7,543.2 661.9,541.2 662.1,547.2 662.3,546.7 662.5,549.3 662.7,544.3 662.9,550.7 663.1,548.1 663.3,544.7 663.5,548.1 663.8,545.1 664.0,540.0 664.2,549.8 664.4,541.5 664.6,548.8 664.8,549.6 665.0,545.6 665.2,542.8 665.4,548.9 665.6,548.9 665.8,547.9 666.0,548.9 666.2,545.8 666.4,548.9 666.6,547.3 666.8,545.2 667.0,547.9 667.3,542.4 667.5,548.8 667.7,549.1 667.9,539.3 668.1,541.2 668.3,546.2 668.5,543.6 668.7,545.3 668.9,548.2 669.1,544.1 669.3,545.4 669.5,542.0 669.7,552.9 669.9,543.7 670.1,545.9 670.3,548.9 670.5,548.0 670.8,547.9 671.0,551.1 671.2,548.5 671.4,543.7 671.6,551.7 671.8,547.7 672.0,554.1 672.2,548.4 672.4,545.0 672.6,546.5 672.8,546.1 673.0,550.1 673.2,544.1 673.4,549.1 673.6,542.6 673.8,544.8 674.0,546.6 674.3,539.7 674.5,545.8 674.7,540.3 674.9,542.8 675.1,542.4 675.3,537.9 675.5,538.8 675.7,539.0 675.9,538.0 676.1,535.2 676.3,533.8 676.5,533.3 676.7,533.6 676.9,535.5 677.1,525.9 677.3,524.1 677.6,516.7 677.8,517.1 678.0,512.5 678.2,508.4 678.4,512.9 678.6,513.6 678.8,505.9 679.0,508.5 679.2,503.7 679.4,492.0 679.6,485.8 679.8,470.0 680.0,459.9 680.2,433.2 680.4,407.8 680.6,399.7 680.8,388.7 681.1,394.7 681.3,419.9 681.5,426.5 681.7,452.0 681.9,461.9 682.1,460.8 682.3,472.8 682.5,462.3 682.7,463.2 682.9,462.0 683.1,469.6 683.3,470.6 683.5,490.6 683.7,498.1 683.9,509.8 684.1,522.5 684.4,531.5 684.6,537.5 684.8,537.1 685.0,541.5 685.2,544.9 685.4,549.2 685.6,545.3 685.8,544.2 686.0,546.3 686.2,541.3 686.4,553.0 686.6,538.8 686.8,547.1 687.0,550.5 687.2,552.6 687.4,543.6 687.6,544.6 687.9,547.4 688.1,546.8 688.3,546.1 688.5,548.2 688.7,542.7 688.9,544.6 689.1,547.2 689.3,552.5 689.5,542.1 689.7,548.5 689.9,550.4 690.1,542.4 690.3,545.1 690.5,553.8 690.7,552.6 690.9,548.3 691.1,551.2 691.4,547.4 691.6,539.3 691.8,539.4 692.0,547.1 692.2,544.2 692.4,543.9 692.6,547.4 692.8,552.1 693.0,543.3 693.2,547.6 693.4,545.4 693.6,544.6 693.8,549.8 694.0,541.2 694.2,546.8 694.4,546.3 694.7,548.5 694.9,544.6 695.1,543.6 695.3,549.0 695.5,545.0 695.7,548.6 695.9,551.3 696.1,548.2 696.3,545.0 696.5,545.2 696.7,543.3 696.9,549.4 697.1,548.1 697.3,546.8 697.5,544.9 697.7,547.4 697.9,550.3 698.2,552.3 698.4,542.9 698.6,543.3 698.8,549.2 699.0,541.8 699.2,547.1 699.4,545.3 699.6,542.5 699.8,548.4 700.0,549.4 700.2,552.6 700.4,545.5 700.6,544.9 700.8,543.4 701.0,544.1 701.2,545.7 701.4,541.9 701.7,549.1 701.9,543.9 702.1,543.1 702.3,544.8 702.5,537.7 702.7,541.1 702.9,536.4 703.1,535.6 703.3,535.8 703.5,523.9 703.7,520.6 703.9,517.1 704.1,510.0 704.3,506.9 704.5,501.5 704.7,504.2 705.0,508.9 705.2,518.7 705.4,522.6 705.6,530.9 705.8,540.8 706.0,540.6 706.2,544.3 706.4,547.2 706.6,544.8 706.8,541.6 707.0,549.1 707.2,552.5 707.4,546.6 707.6,538.9 707.8,548.6 708.0,545.8 708.2,548.3 708.5,544.1 708.7,542.3 708.9,547.8 709.1,543.4 709.3,551.2 709.5,546.8 709.7,552.0 709.9,547.1 710.1,549.9 710.3,547.0 710.5,551.7 710.7,547.1 710.9,547.6 711.1,550.0 711.3,550.8 711.5,552.1 711.7,549.5 712.0,546.8 712.2,548.7 712.4,547.7 712.6,544.0 712.8,549.4 713.0,547.3 713.2,545.5 713.4,546.6 713.6,547.1 713.8,548.2 714.0,541.9 714.2,548.7 714.4,549.8 714.6,546.5 714.8,543.0 715.0,543.8 715.2,548.5 715.5,545.8 715.7,546.9 715.9,548.4 716.1,546.5 716.3,546.6 716.5,548.2 716.7,542.9 716.9,550.0 717.1,544.0 717.3,541.7 717.5,541.6 717.7,547.9 717.9,549.4 718.1,554.2 718.3,549.1 718.5,541.6 718.8,554.2 719.0,554.1 719.2,546.1 719.4,546.9 719.6,555.1 719.8,549.2 720.0,547.8 720.2,554.1 720.4,545.8 720.6,553.5 720.8,545.2 721.0,548.4 721.2,551.4 721.4,554.5 721.6,550.3 721.8,549.4 722.0,549.6 722.3,551.2 722.5,549.9 722.7,546.3 722.9,552.3 723.1,549.9 723.3,547.7 723.5,549.3 723.7,546.4 723.9,544.0 724.1,550.5 724.3,548.6 724.5,556.8 724.7,550.5 724.9,547.1 725.1,553.1 725.3,544.9 725.5,555.7 725.8,544.9 726.0,551.1 726.2,552.9 726.4,551.1 726.6,550.4 726.8,552.9 727.0,554.1 727.2,551.3 727.4,546.3 727.6,548.2 727.8,545.1 728.0,551.6 728.2,550.8 728.4,550.7 728.6,549.1 728.8,548.1 729.1,543.8 729.3,547.3 729.5,549.1 729.7,545.1 729.9,552.3 730.1,554.1 730.3,547.5 730.5,549.2 730.7,549.3 730.9,546.6 731.1,550.9 731.3,550.2 731.5,548.5 731.7,547.6 731.9,546.5 732.1,549.4 732.3,549.0 732.6,557.2 732.8,545.8 733.0,555.1 733.2,550.1 733.4,542.7 733.6,551.0 733.8,555.2 734.0,544.6 734.2,551.8 734.4,550.5 734.6,550.5 734.8,547.6 735.0,547.4 735.2,550.4 735.4,546.4 735.6,553.1 735.9,547.8 736.1,552.2 736.3,547.8 736.5,552.3 736.7,551.6 736.9,545.2 737.1,553.9 737.3,554.1 737.5,548.3 737.7,551.1 737.9,551.6 738.1,550.7 738.3,543.2 738.5,553.7 738.7,551.2 738.9,549.7 739.1,553.4 739.4,550.4 739.6,548.7 739.8,553.3 740.0,546.6 740.2,554.1 740.4,550.8 740.6,549.3 740.8,543.1 741.0,556.2 741.2,549.5 741.4,543.2 741.6,552.4 741.8,546.8 742.0,549.7 742.2,555.2 742.4,549.2 742.6,553.4 742.9,550.2 743.1,555.5 743.3,548.1 743.5,557.8 743.7,551.1 743.9,546.3 744.1,548.9 744.3,551.7 744.5,551.4 744.7,552.0 744.9,543.4 745.1,550.8 745.3,550.7 745.5,553.1 745.7,552.2 745.9,548.7 746.2,552.7 746.4,553.3 746.6,552.5 746.8,551.9 747.0,550.2 747.2,552.3 747.4,551.4 747.6,553.2 747.8,546.7 748.0,550.5 748.2,551.8 748.4,549.8 748.6,550.9 748.8,556.0 749.0,551.4 749.2,545.4 749.4,549.2 749.7,547.0 749.9,553.1 750.1,555.7 750.3,553.2 750.5,546.5 750.7,554.2 750.9,553.5 751.1,547.3 751.3,551.7 751.5,551.6 751.7,549.7 751.9,550.7 752.1,552.0 752.3,550.1 752.5,553.3 752.7,551.1 752.9,548.8 753.2,554.5 753.4,551.7 753.6,554.8 753.8,548.6 754.0,549.0 754.2,548.0 754.4,547.7 754.6,547.7 754.8,548.7 755.0,553.6 755.2,548.0 755.4,554.1 755.6,543.9 755.8,550.2 756.0,549.2 756.2,555.2 756.5,547.6 756.7,547.3 756.9,556.3 757.1,553.0 757.3,552.7 757.5,553.3 757.7,546.7 757.9,544.1 758.1,554.7 758.3,547.8 758.5,552.1 758.7,546.8 758.9,558.4 759.1,552.7 759.3,547.3 759.5,553.8 759.7,547.4 760.0,553.0 760.2,547.6 760.4,549.4 760.6,552.7 760.8,553.8 761.0,551.9 761.2,547.6 761.4,551.4 761.6,553.5 761.8,544.2 762.0,556.5 762.2,552.1 762.4,549.6 762.6,554.8 762.8,551.5 763.0,552.8 763.2,556.2 763.5,550.0 763.7,555.1 763.9,553.9 764.1,547.5 764.3,555.1 764.5,549.5 764.7,547.6 764.9,548.3 765.1,550.0 765.3,552.3 765.5,556.1 765.7,551.1 765.9,550.1 766.1,553.2 766.3,554.8 766.5,548.7 766.8,555.0 767.0,550.2 767.2,553.2 767.4,557.1 767.6,546.4 767.8,549.6 768.0,549.9 768.2,556.2 768.4,552.1 768.6,550.8 768.8,554.1 769.0,546.3 769.2,558.2 769.4,549.4 769.6,557.8 769.8,556.8 770.0,555.9 770.3,549.9 770.5,554.1 770.7,554.0 770.9,554.7 771.1,556.6 771.3,554.7 771.5,555.0 771.7,552.9 771.9,553.1 772.1,558.9 772.3,554.0 772.5,548.0 772.7,553.5 772.9,552.2 773.1,554.3 773.3,554.2 773.5,552.2 773.8,556.4 774.0,552.6 774.2,557.4 774.4,551.0 774.6,557.2 774.8,550.0 775.0,548.8 775.2,557.4 775.4,549.9 775.6,553.5 775.8,548.4 776.0,553.9 776.2,553.1 776.4,553.1 776.6,548.1 776.8,558.5 777.1,549.7 777.3,551.9 777.5,553.8 777.7,553.0 777.9,549.2 778.1,549.6 778.3,546.8 778.5,554.3 778.7,558.4 778.9,554.1 779.1,552.9 779.3,553.7 779.5,548.4 779.7,545.0 779.9,551.1 780.1,558.1 780.3,549.0 780.6,554.4 780.8,552.2 781.0,549.7 781.2,551.2 781.4,552.6 781.6,551.5 781.8,550.0 782.0,550.4 782.2,545.7 782.4,559.2 782.6,554.9 782.8,554.3 783.0,549.8 783.2,551.7 783.4,549.7 783.6,557.0 783.8,553.2 784.1,550.4 784.3,552.6 784.5,553.8 784.7,551.6 784.9,547.2 785.1,559.2 785.3,547.4 785.5,551.6 785.7,555.3 785.9,550.4 786.1,552.4 786.3,548.6 786.5,555.1 786.7,549.4 786.9,555.4 787.1,551.5 787.4,550.3 787.6,552.8 787.8,550.5 788.0,554.5 788.2,549.2 788.4,554.2 788.6,554.8 788.8,553.0 789.0,552.8 789.2,555.3 789.4,550.0 789.6,553.0 789.8,550.7 790.0,557.4 790.2,556.8 790.4,553.5 790.6,555.8 790.9,553.0 791.1,550.8 791.3,549.1 791.5,547.9 791.7,550.1 791.9,554.9 792.1,550.9 792.3,554.3 792.5,550.9 792.7,556.0 792.9,548.4 793.1,551.3 793.3,553.6 793.5,557.0 793.7,551.8 793.9,554.4 794.1,551.9 794.4,555.0 794.6,554.4 794.8,550.7 795.0,548.0 795.2,556.7 795.4,553.3 795.6,551.5 795.8,553.2 796.0,554.1 796.2,545.8 796.4,555.4 796.6,551.6 796.8,554.3 797.0,553.0 797.2,559.4 797.4,549.9 797.7,553.4 797.9,555.8 798.1,547.4 798.3,553.6 798.5,554.7 798.7,555.5 798.9,549.3 799.1,552.7 799.3,553.8 799.5,557.0 799.7,555.7 799.9,551.7 800.1,552.8 800.3,559.2 800.5,555.6 800.7,552.1 800.9,545.4 801.2,555.2 801.4,559.5 801.6,550.4 801.8,554.3 802.0,557.0 802.2,551.0 802.4,553.6 802.6,555.9 802.8,557.0 803.0,553.2 803.2,552.6 803.4,558.5 803.6,549.7 803.8,556.9 804.0,548.4 804.2,551.8 804.4,553.4 804.7,551.8 804.9,554.8 805.1,553.1 805.3,547.6 805.5,554.7 805.7,550.3 805.9,555.7 806.1,552.9 806.3,549.8 806.5,556.7 806.7,551.8 806.9,559.6 807.1,556.6 807.3,554.2 807.5,550.1 807.7,550.6 808.0,555.8 808.2,553.3 808.4,552.3 808.6,557.9 808.8,551.6 809.0,548.6 809.2,549.0 809.4,554.8 809.6,554.2 809.8,555.9 810.0,554.5 810.2,553.7 810.4,550.8 810.6,552.7 810.8,555.9 811.0,550.3 811.2,550.1 811.5,554.9 811.7,553.7 811.9,553.3 812.1,558.2 812.3,552.5 812.5,550.8 812.7,546.8 812.9,552.4 813.1,553.9 813.3,553.4 813.5,551.0 813.7,550.4 813.9,555.7 814.1,552.4 814.3,550.9 814.5,559.4 814.7,548.6 815.0,553.7 815.2,550.2 815.4,553.1 815.6,553.8 815.8,553.2 816.0,552.1 816.2,550.2 816.4,553.8 816.6,556.6 816.8,555.2 817.0,556.1 817.2,550.6 817.4,556.0 817.6,548.1 817.8,552.6 818.0,553.3 818.2,548.8 818.5,554.1 818.7,553.9 818.9,550.5 819.1,550.6 819.3,556.1 819.5,545.7 819.7,551.2 819.9,557.0 820.1,553.5 820.3,550.0 820.5,552.3 820.7,550.2 820.9,545.7 821.1,550.0 821.3,546.6 821.5,550.8 821.8,555.0 822.0,548.1 822.2,555.1 822.4,549.8 822.6,550.8 822.8,555.6 823.0,555.1 823.2,553.4 823.4,551.6 823.6,548.6 823.8,552.6 824.0,546.7 824.2,550.0 824.4,554.8 824.6,554.7 824.8,552.4 825.0,554.3 825.3,552.9 825.5,550.1 825.7,551.7 825.9,549.4 826.1,554.7 826.3,555.2 826.5,556.8 826.7,558.0 826.9,553.7 827.1,552.0 827.3,552.7 827.5,552.0 827.7,545.4 827.9,555.2 828.1,552.5 828.3,553.0 828.6,554.1 828.8,546.7 829.0,550.8 829.2,546.3 829.4,553.4 829.6,543.2 829.8,541.1 830.0,549.5 830.2,544.5 830.4,541.5 830.6,534.5 830.8,533.8 831.0,520.1 831.2,510.6 831.4,507.5 831.6,509.5 831.8,507.7 832.1,514.1 832.3,519.2 832.5,531.7 832.7,539.9 832.9,539.2 833.1,543.3 833.3,544.4 833.5,548.0 833.7,545.8 833.9,548.2 834.1,556.0 834.3,550.1 834.5,548.6 834.7,551.1 834.9,546.8 835.1,553.1 835.3,549.6 835.6,555.8 835.8,552.0 836.0,553.9 836.2,555.4 836.4,556.4 836.6,551.6 836.8,551.0 837.0,554.4 837.2,556.4 837.4,555.3 837.6,550.1 837.8,556.4 838.0,549.0 838.2,557.9 838.4,551.8 838.6,550.6 838.9,548.8 839.1,554.1 839.3,555.2 839.5,557.3 839.7,549.9 839.9,553.2 840.1,554.3 840.3,554.1 840.5,552.0 840.7,552.7 840.9,549.1 841.1,559.7 841.3,550.2 841.5,554.6 841.7,553.1 841.9,553.9 842.1,553.2 842.4,550.5 842.6,552.2 842.8,557.5 843.0,553.1 843.2,553.2 843.4,551.8 843.6,552.8 843.8,553.2 844.0,549.7"/>
<polyline fill="none" stroke="#ff00ff" stroke-width="4.6" stroke-linejoin="round"  points="174.5,418.5 174.7,431.5 174.9,415.0 175.1,410.5 175.3,422.4 175.5,416.0 175.7,417.4 175.9,421.8 176.1,422.3 176.4,414.5 176.6,423.7 176.8,423.1 177.0,415.2 177.2,414.7 177.4,411.0 177.6,423.1 177.8,427.3 178.0,413.6 178.2,428.4 178.4,422.0 178.6,420.8 178.8,409.8 179.0,419.3 179.2,426.3 179.4,419.6 179.7,411.8 179.9,429.6 180.1,426.8 180.3,413.4 180.5,418.5 180.7,425.0 180.9,420.3 181.1,418.7 181.3,425.6 181.5,422.3 181.7,410.8 181.9,417.2 182.1,412.6 182.3,419.2 182.5,422.1 182.7,417.2 182.9,424.1 183.2,416.8 183.4,420.6 183.6,420.5 183.8,420.4 184.0,424.2 184.2,411.1 184.4,427.4 184.6,417.6 184.8,426.0 185.0,413.7 185.2,420.1 185.4,417.8 185.6,416.1 185.8,416.8 186.0,417.8 186.2,416.7 186.4,416.8 186.7,421.4 186.9,420.5 187.1,420.2 187.3,422.9 187.5,421.9 187.7,411.3 187.9,426.9 188.1,409.3 188.3,421.8 188.5,415.3 188.7,418.8 188.9,419.8 189.1,415.6 189.3,409.2 189.5,419.5 189.7,419.0 189.9,421.8 190.2,407.3 190.4,412.2 190.6,412.5 190.8,418.6 191.0,429.5 191.2,416.1 191.4,428.9 191.6,422.3 191.8,413.3 192.0,422.1 192.2,422.6 192.4,430.8 192.6,414.7 192.8,416.4 193.0,421.5 193.2,416.7 193.5,427.9 193.7,424.0 193.9,417.7 194.1,413.8 194.3,419.0 194.5,425.7 194.7,421.6 194.9,412.5 195.1,422.2 195.3,417.4 195.5,416.4 195.7,421.9 195.9,418.7 196.1,428.9 196.3,422.1 196.5,418.6 196.7,415.3 197.0,411.5 197.2,421.5 197.4,416.2 197.6,419.6 197.8,423.3 198.0,423.3 198.2,419.2 198.4,418.9 198.6,423.2 198.8,406.4 199.0,419.1 199.2,415.2 199.4,420.5 199.6,406.5 199.8,431.2 200.0,421.0 200.2,418.0 200.5,412.4 200.7,419.4 200.9,424.7 201.1,410.3 201.3,415.4 201.5,420.6 201.7,420.6 201.9,420.6 202.1,418.4 202.3,428.9 202.5,418.5 202.7,422.7 202.9,416.6 203.1,417.5 203.3,425.3 203.5,411.8 203.8,415.2 204.0,424.5 204.2,425.4 204.4,423.3 204.6,417.6 204.8,412.5 205.0,424.6 205.2,423.9 205.4,416.7 205.6,419.9 205.8,419.9 206.0,420.3 206.2,421.5 206.4,409.9 206.6,414.2 206.8,421.6 207.0,412.7 207.3,409.2 207.5,417.1 207.7,418.1 207.9,422.6 208.1,419.2 208.3,418.6 208.5,412.6 208.7,425.2 208.9,429.0 209.1,422.7 209.3,417.8 209.5,431.1 209.7,421.0 209.9,424.3 210.1,426.0 210.3,418.9 210.6,413.1 210.8,427.0 211.0,417.9 211.2,419.8 211.4,414.8 211.6,417.9 211.8,420.7 212.0,411.4 212.2,413.0 212.4,419.9 212.6,424.0 212.8,415.4 213.0,409.0 213.2,404.7 213.4,411.3 213.6,410.1 213.8,418.4 214.1,411.8 214.3,409.9 214.5,415.3 214.7,414.1 214.9,420.4 215.1,421.3 215.3,415.9 215.5,427.0 215.7,419.1 215.9,413.3 216.1,423.6 216.3,423.6 216.5,425.8 216.7,428.7 216.9,425.0 217.1,429.0 217.3,423.4 217.6,425.4 217.8,428.7 218.0,422.5 218.2,417.3 218.4,418.5 218.6,424.6 218.8,423.3 219.0,429.0 219.2,424.7 219.4,419.9 219.6,419.4 219.8,416.3 220.0,432.1 220.2,415.3 220.4,421.9 220.6,415.6 220.8,424.1 221.1,417.5 221.3,424.5 221.5,430.3 221.7,422.8 221.9,427.4 222.1,424.9 222.3,421.9 222.5,420.6 222.7,421.4 222.9,419.7 223.1,433.6 223.3,418.8 223.5,429.8 223.7,424.8 223.9,427.7 224.1,431.8 224.4,420.7 224.6,431.2 224.8,428.7 225.0,417.8 225.2,437.4 225.4,435.1 225.6,420.8 225.8,428.3 226.0,421.8 226.2,426.2 226.4,428.9 226.6,422.5 226.8,430.2 227.0,429.4 227.2,425.2 227.4,432.5 227.6,434.4 227.9,435.7 228.1,421.6 228.3,416.3 228.5,420.4 228.7,430.4 228.9,429.8 229.1,432.4 229.3,427.1 229.5,421.4 229.7,427.6 229.9,427.3 230.1,438.8 230.3,425.7 230.5,433.9 230.7,428.8 230.9,425.5 231.2,426.9 231.4,423.5 231.6,419.3 231.8,439.3 232.0,436.2 232.2,418.7 232.4,425.2 232.6,431.8 232.8,429.3 233.0,427.9 233.2,422.2 233.4,429.8 233.6,428.1 233.8,435.4 234.0,420.1 234.2,425.7 234.4,430.8 234.7,435.6 234.9,428.4 235.1,423.5 235.3,416.0 235.5,418.0 235.7,430.5 235.9,430.8 236.1,433.8 236.3,426.0 236.5,432.7 236.7,425.5 236.9,426.9 237.1,426.4 237.3,434.1 237.5,422.5 237.7,429.9 237.9,435.5 238.2,429.1 238.4,428.0 238.6,428.7 238.8,423.9 239.0,422.5 239.2,416.9 239.4,429.7 239.6,422.6 239.8,441.0 240.0,419.0 240.2,429.4 240.4,422.4 240.6,430.7 240.8,426.5 241.0,426.1 241.2,432.8 241.4,432.7 241.7,441.4 241.9,426.6 242.1,430.5 242.3,430.9 242.5,423.1 242.7,427.9 242.9,428.5 243.1,440.2 243.3,429.0 243.5,431.5 243.7,424.6 243.9,432.7 244.1,436.7 244.3,431.3 244.5,420.0 244.7,434.8 245.0,423.1 245.2,431.0 245.4,441.2 245.6,426.7 245.8,418.0 246.0,427.7 246.2,436.0 246.4,431.3 246.6,435.0 246.8,418.0 247.0,427.1 247.2,441.9 247.4,425.6 247.6,427.6 247.8,435.6 248.0,433.3 248.2,430.3 248.5,420.4 248.7,432.7 248.9,433.9 249.1,424.4 249.3,433.1 249.5,435.2 249.7,430.2 249.9,424.8 250.1,428.4 250.3,431.2 250.5,421.1 250.7,421.3 250.9,437.6 251.1,435.0 251.3,433.6 251.5,429.6 251.8,427.3 252.0,428.6 252.2,427.6 252.4,425.4 252.6,434.8 252.8,439.4 253.0,425.7 253.2,420.3 253.4,426.0 253.6,429.2 253.8,423.6 254.0,428.3 254.2,433.6 254.4,428.3 254.6,421.8 254.8,424.1 255.0,421.9 255.3,428.3 255.5,422.2 255.7,417.2 255.9,426.8 256.1,427.5 256.3,417.7 256.5,423.8 256.7,430.7 256.9,426.3 257.1,416.5 257.3,421.6 257.5,413.0 257.7,419.6 257.9,421.5 258.1,416.8 258.3,425.8 258.5,416.2 258.8,422.3 259.0,423.0 259.2,419.0 259.4,423.6 259.6,427.0 259.8,425.3 260.0,417.1 260.2,418.0 260.4,418.8 260.6,414.9 260.8,423.6 261.0,420.5 261.2,408.6 261.4,422.8 261.6,409.8 261.8,418.2 262.1,413.2 262.3,414.5 262.5,416.8 262.7,414.3 262.9,409.1 263.1,418.1 263.3,419.1 263.5,408.3 263.7,415.1 263.9,413.3 264.1,413.0 264.3,413.9 264.5,421.3 264.7,411.1 264.9,412.7 265.1,417.3 265.3,412.3 265.6,407.3 265.8,398.1 266.0,410.8 266.2,399.4 266.4,409.3 266.6,403.5 266.8,407.2 267.0,400.9 267.2,403.9 267.4,406.6 267.6,412.8 267.8,397.5 268.0,411.6 268.2,405.8 268.4,391.3 268.6,399.8 268.8,400.1 269.1,399.3 269.3,398.1 269.5,401.0 269.7,396.4 269.9,398.8 270.1,399.2 270.3,393.9 270.5,392.3 270.7,393.4 270.9,389.2 271.1,383.0 271.3,383.3 271.5,392.4 271.7,398.9 271.9,384.8 272.1,390.3 272.4,385.7 272.6,391.8 272.8,383.8 273.0,395.1 273.2,386.6 273.4,395.2 273.6,373.9 273.8,387.1 274.0,397.6 274.2,376.2 274.4,377.4 274.6,374.1 274.8,388.8 275.0,378.7 275.2,372.2 275.4,380.7 275.6,376.3 275.9,379.3 276.1,379.1 276.3,367.8 276.5,380.4 276.7,374.5 276.9,370.3 277.1,372.9 277.3,367.0 277.5,383.9 277.7,363.4 277.9,377.2 278.1,370.2 278.3,370.1 278.5,364.0 278.7,367.3 278.9,367.9 279.1,359.8 279.4,350.0 279.6,366.1 279.8,365.5 280.0,364.0 280.2,367.1 280.4,366.0 280.6,360.1 280.8,351.3 281.0,358.2 281.2,359.2 281.4,353.4 281.6,356.8 281.8,336.0 282.0,339.1 282.2,348.0 282.4,358.2 282.6,349.6 282.9,350.7 283.1,349.3 283.3,356.8 283.5,344.6 283.7,343.8 283.9,343.2 284.1,346.1 284.3,333.7 284.5,340.7 284.7,349.0 284.9,339.4 285.1,325.6 285.3,321.6 285.5,336.4 285.7,328.4 285.9,322.2 286.2,318.4 286.4,326.6 286.6,320.9 286.8,322.7 287.0,327.4 287.2,314.2 287.4,317.2 287.6,313.8 287.8,315.2 288.0,316.8 288.2,313.7 288.4,308.8 288.6,314.5 288.8,300.7 289.0,296.2 289.2,314.7 289.4,299.2 289.7,303.9 289.9,297.7 290.1,298.2 290.3,298.4 290.5,292.1 290.7,294.2 290.9,286.5 291.1,290.2 291.3,296.8 291.5,289.4 291.7,287.1 291.9,288.3 292.1,289.7 292.3,273.5 292.5,281.3 292.7,279.6 292.9,285.4 293.2,273.7 293.4,275.2 293.6,268.0 293.8,263.5 294.0,272.9 294.2,271.6 294.4,261.1 294.6,259.8 294.8,261.8 295.0,258.2 295.2,261.5 295.4,258.4 295.6,256.6 295.8,265.2 296.0,249.7 296.2,247.8 296.5,254.3 296.7,250.8 296.9,244.9 297.1,241.1 297.3,242.8 297.5,243.4 297.7,237.3 297.9,237.0 298.1,240.8 298.3,235.7 298.5,234.1 298.7,227.0 298.9,235.0 299.1,230.5 299.3,226.4 299.5,222.3 299.7,209.1 300.0,219.2 300.2,210.9 300.4,210.2 300.6,205.5 300.8,201.1 301.0,204.9 301.2,210.8 301.4,205.6 301.6,193.9 301.8,188.5 302.0,191.0 302.2,184.1 302.4,190.2 302.6,196.2 302.8,189.5 303.0,186.6 303.2,181.6 303.5,180.2 303.7,187.6 303.9,175.0 304.1,182.5 304.3,176.3 304.5,172.5 304.7,170.5 304.9,169.7 305.1,173.7 305.3,169.8 305.5,162.3 305.7,168.1 305.9,170.3 306.1,174.6 306.3,160.5 306.5,163.8 306.8,157.3 307.0,161.5 307.2,156.4 307.4,154.5 307.6,145.6 307.8,154.1 308.0,154.4 308.2,145.6 308.4,140.2 308.6,148.4 308.8,139.0 309.0,140.4 309.2,136.3 309.4,148.2 309.6,135.9 309.8,136.6 310.0,132.7 310.3,136.5 310.5,132.2 310.7,142.8 310.9,129.4 311.1,120.5 311.3,126.2 311.5,125.9 311.7,123.4 311.9,116.4 312.1,127.4 312.3,130.9 312.5,127.9 312.7,124.4 312.9,119.1 313.1,113.9 313.3,121.9 313.6,122.6 313.8,110.7 314.0,108.8 314.2,118.5 314.4,108.8 314.6,113.5 314.8,114.5 315.0,111.6 315.2,115.1 315.4,119.4 315.6,117.1 315.8,112.7 316.0,106.0 316.2,104.9 316.4,101.8 316.6,111.1 316.8,106.3 317.1,114.3 317.3,111.5 317.5,99.6 317.7,106.3 317.9,94.5 318.1,101.6 318.3,108.4 318.5,109.8 318.7,117.9 318.9,98.2 319.1,100.2 319.3,93.0 319.5,94.1 319.7,104.4 319.9,112.7 320.1,117.1 320.3,109.2 320.6,107.3 320.8,116.0 321.0,103.5 321.2,102.1 321.4,113.8 321.6,109.8 321.8,116.8 322.0,102.9 322.2,114.4 322.4,116.1 322.6,121.3 322.8,116.1 323.0,120.5 323.2,104.5 323.4,107.3 323.6,118.6 323.9,116.9 324.1,112.5 324.3,111.8 324.5,119.2 324.7,105.6 324.9,110.4 325.1,103.0 325.3,128.4 325.5,125.6 325.7,112.9 325.9,116.7 326.1,120.5 326.3,126.6 326.5,117.9 326.7,124.8 326.9,114.9 327.1,117.5 327.4,119.7 327.6,136.8 327.8,125.4 328.0,118.2 328.2,118.9 328.4,123.6 328.6,125.4 328.8,137.6 329.0,125.9 329.2,124.7 329.4,134.3 329.6,135.0 329.8,140.0 330.0,139.2 330.2,143.3 330.4,140.1 330.6,145.1 330.9,154.1 331.1,150.4 331.3,146.0 331.5,148.6 331.7,143.0 331.9,147.4 332.1,147.1 332.3,156.3 332.5,151.6 332.7,163.2 332.9,164.7 333.1,157.5 333.3,162.9 333.5,170.3 333.7,162.2 333.9,161.1 334.1,166.6 334.4,165.3 334.6,169.1 334.8,170.7 335.0,181.9 335.2,189.3 335.4,182.5 335.6,194.1 335.8,186.7 336.0,191.3 336.2,186.0 336.4,191.9 336.6,189.5 336.8,195.8 337.0,193.7 337.2,185.7 337.4,200.7 337.7,205.9 337.9,190.4 338.1,195.2 338.3,201.0 338.5,204.3 338.7,201.9 338.9,206.9 339.1,201.2 339.3,209.2 339.5,212.3 339.7,207.4 339.9,215.9 340.1,210.1 340.3,220.6 340.5,218.6 340.7,216.1 340.9,222.0 341.2,214.5 341.4,221.4 341.6,221.2 341.8,233.7 342.0,221.9 342.2,225.7 342.4,237.6 342.6,227.3 342.8,228.2 343.0,234.8 343.2,237.9 343.4,240.8 343.6,234.7 343.8,235.8 344.0,238.3 344.2,228.2 344.4,239.7 344.7,240.0 344.9,249.9 345.1,241.5 345.3,239.5 345.5,249.8 345.7,236.0 345.9,250.4 346.1,248.0 346.3,251.7 346.5,252.8 346.7,262.7 346.9,248.8 347.1,264.9 347.3,249.1 347.5,261.8 347.7,259.9 348.0,247.5 348.2,264.2 348.4,261.6 348.6,267.7 348.8,263.5 349.0,261.6 349.2,257.0 349.4,276.2 349.6,267.0 349.8,264.8 350.0,264.4 350.2,273.4 350.4,270.3 350.6,262.7 350.8,270.9 351.0,263.6 351.2,280.5 351.5,279.1 351.7,276.6 351.9,282.6 352.1,275.6 352.3,285.1 352.5,279.1 352.7,288.9 352.9,286.8 353.1,282.5 353.3,281.9 353.5,290.3 353.7,293.8 353.9,285.1 354.1,293.5 354.3,287.9 354.5,284.7 354.8,288.8 355.0,299.9 355.2,288.1 355.4,289.7 355.6,298.7 355.8,298.9 356.0,291.4 356.2,297.6 356.4,298.2 356.6,296.2 356.8,299.8 357.0,293.3 357.2,298.1 357.4,304.8 357.6,306.0 357.8,309.0 358.0,303.3 358.3,315.2 358.5,306.9 358.7,314.7 358.9,321.4 359.1,309.9 359.3,313.4 359.5,315.2 359.7,318.9 359.9,318.7 360.1,322.6 360.3,314.9 360.5,315.9 360.7,323.3 360.9,324.0 361.1,323.1 361.3,319.8 361.5,325.6 361.8,331.5 362.0,331.0 362.2,328.4 362.4,332.4 362.6,335.1 362.8,324.8 363.0,331.5 363.2,329.0 363.4,342.5 363.6,331.5 363.8,338.1 364.0,341.0 364.2,344.8 364.4,345.4 364.6,345.2 364.8,342.0 365.1,344.3 365.3,330.9 365.5,342.1 365.7,344.6 365.9,347.7 366.1,353.2 366.3,354.1 366.5,347.1 366.7,360.5 366.9,340.1 367.1,341.3 367.3,362.5 367.5,345.2 367.7,346.7 367.9,347.3 368.1,351.1 368.3,345.4 368.6,362.4 368.8,360.8 369.0,354.5 369.2,358.9 369.4,369.3 369.6,355.2 369.8,354.6 370.0,363.4 370.2,360.2 370.4,357.2 370.6,377.9 370.8,368.4 371.0,371.2 371.2,367.1 371.4,374.9 371.6,375.8 371.8,366.9 372.1,357.2 372.3,377.6 372.5,360.0 372.7,364.9 372.9,365.3 373.1,364.0 373.3,375.8 373.5,366.6 373.7,384.1 373.9,380.2 374.1,373.8 374.3,371.7 374.5,386.0 374.7,390.0 374.9,376.1 375.1,377.6 375.4,375.8 375.6,381.4 375.8,389.8 376.0,375.3 376.2,378.3 376.4,382.8 376.6,371.3 376.8,383.9 377.0,376.8 377.2,387.8 377.4,401.5 377.6,395.6 377.8,403.0 378.0,391.5 378.2,383.6 378.4,402.0 378.6,388.0 378.9,394.8 379.1,388.4 379.3,392.4 379.5,401.5 379.7,392.7 379.9,397.2 380.1,392.4 380.3,386.9 380.5,400.4 380.7,390.2 380.9,401.3 381.1,397.8 381.3,401.1 381.5,406.9 381.7,402.9 381.9,407.0 382.1,401.7 382.4,411.9 382.6,412.0 382.8,402.0 383.0,404.6 383.2,405.1 383.4,405.7 383.6,403.6 383.8,407.5 384.0,405.5 384.2,415.9 384.4,409.0 384.6,416.8 384.8,420.2 385.0,415.0 385.2,410.5 385.4,414.7 385.6,405.1 385.9,412.0 386.1,413.9 386.3,416.3 386.5,425.0 386.7,417.6 386.9,418.3 387.1,409.1 387.3,423.9 387.5,420.6 387.7,424.5 387.9,420.0 388.1,431.1 388.3,420.2 388.5,422.2 388.7,421.7 388.9,411.4 389.2,424.1 389.4,421.4 389.6,424.6 389.8,418.9 390.0,413.6 390.2,416.4 390.4,424.4 390.6,433.7 390.8,424.7 391.0,436.6 391.2,432.7 391.4,431.5 391.6,434.7 391.8,429.0 392.0,431.3 392.2,433.8 392.4,428.0 392.7,434.4 392.9,423.8 393.1,427.6 393.3,433.8 393.5,429.4 393.7,435.8 393.9,435.9 394.1,427.2 394.3,441.8 394.5,430.9 394.7,423.4 394.9,446.1 395.1,423.0 395.3,445.2 395.5,447.2 395.7,446.9 396.0,442.1 396.2,439.4 396.4,446.8 396.6,438.0 396.8,432.9 397.0,441.9 397.2,437.4 397.4,435.1 397.6,429.6 397.8,439.7 398.0,435.7 398.2,437.2 398.4,440.0 398.6,442.5 398.8,439.1 399.0,437.8 399.2,448.8 399.5,444.1 399.7,440.7 399.9,441.2 400.1,441.4 400.3,434.8 400.5,438.2 400.7,450.7 400.9,436.0 401.1,448.3 401.3,449.2 401.5,439.4 401.7,447.1 401.9,454.5 402.1,442.6 402.3,443.7 402.5,443.5 402.7,453.9 403.0,442.5 403.2,450.1 403.4,442.4 403.6,453.8 403.8,452.5 404.0,458.0 404.2,452.0 404.4,442.6 404.6,447.1 404.8,451.4 405.0,441.6 405.2,447.8 405.4,445.1 405.6,447.5 405.8,450.0 406.0,449.0 406.2,447.6 406.5,444.2 406.7,447.2 406.9,446.0 407.1,456.5 407.3,460.7 407.5,449.6 407.7,450.6 407.9,449.4 408.1,457.0 408.3,451.4 408.5,457.8 408.7,452.1 408.9,453.1 409.1,453.9 409.3,451.6 409.5,456.0 409.8,453.7 410.0,450.3 410.2,446.3 410.4,452.2 410.6,450.3 410.8,451.6 411.0,446.3 411.2,444.3 411.4,458.4 411.6,451.8 411.8,453.9 412.0,447.6 412.2,466.8 412.4,459.2 412.6,464.8 412.8,449.2 413.0,454.9 413.3,453.1 413.5,454.5 413.7,455.3 413.9,454.7 414.1,459.0 414.3,467.4 414.5,455.5 414.7,457.6 414.9,460.3 415.1,460.6 415.3,451.1 415.5,461.6 415.7,463.3 415.9,454.8 416.1,451.0 416.3,464.9 416.6,463.6 416.8,464.1 417.0,457.1 417.2,456.4 417.4,452.3 417.6,459.8 417.8,461.0 418.0,463.0 418.2,454.6 418.4,463.4 418.6,464.8 418.8,462.0 419.0,461.2 419.2,459.4 419.4,464.7 419.6,453.2 419.8,452.6 420.1,467.8 420.3,461.8 420.5,467.6 420.7,464.3 420.9,469.2 421.1,464.7 421.3,462.2 421.5,462.9 421.7,470.5 421.9,473.9 422.1,473.3 422.3,458.5 422.5,465.5 422.7,464.4 422.9,457.9 423.1,470.0 423.3,463.3 423.6,468.8 423.8,464.7 424.0,475.0 424.2,467.9 424.4,466.5 424.6,465.8 424.8,473.4 425.0,467.8 425.2,462.5 425.4,467.4 425.6,463.0 425.8,464.1 426.0,466.3 426.2,469.4 426.4,467.4 426.6,472.4 426.9,464.8 427.1,466.6 427.3,462.6 427.5,458.1 427.7,464.5 427.9,466.0 428.1,467.9 428.3,464.9 428.5,462.4 428.7,470.5 428.9,475.4 429.1,475.9 429.3,464.8 429.5,467.4 429.7,467.2 429.9,477.9 430.1,472.7 430.4,477.5 430.6,475.6 430.8,473.0 431.0,473.7 431.2,462.9 431.4,476.6 431.6,473.7 431.8,474.4 432.0,470.5 432.2,467.5 432.4,474.9 432.6,479.1 432.8,473.3 433.0,469.5 433.2,476.6 433.4,466.9 433.6,476.5 433.9,474.8 434.1,473.9 434.3,462.8 434.5,468.3 434.7,470.4 434.9,476.9 435.1,477.5 435.3,475.6 435.5,464.8 435.7,466.3 435.9,471.9 436.1,476.0 436.3,481.0 436.5,474.9 436.7,470.4 436.9,470.3 437.1,471.2 437.4,476.4 437.6,470.8 437.8,474.0 438.0,469.2 438.2,472.2 438.4,469.8 438.6,472.0 438.8,475.8 439.0,468.1 439.2,478.6 439.4,470.7 439.6,476.0 439.8,475.7 440.0,472.8 440.2,476.6 440.4,479.0 440.7,478.6 440.9,479.6 441.1,474.3 441.3,473.0 441.5,474.9 441.7,481.9 441.9,474.0 442.1,470.3 442.3,480.1 442.5,479.1 442.7,470.7 442.9,475.8 443.1,470.0 443.3,476.7 443.5,481.9 443.7,475.5 443.9,475.6 444.2,474.0 444.4,479.4 444.6,477.7 444.8,466.1 445.0,478.2 445.2,468.4 445.4,481.0 445.6,474.8 445.8,474.2 446.0,471.9 446.2,476.0 446.4,479.1 446.6,475.7 446.8,483.1 447.0,486.3 447.2,483.5 447.5,469.1 447.7,472.6 447.9,468.0 448.1,474.3 448.3,483.4 448.5,481.3 448.7,475.3 448.9,480.6 449.1,481.2 449.3,481.9 449.5,480.5 449.7,485.8 449.9,475.2 450.1,480.5 450.3,471.4 450.5,469.7 450.7,477.6 451.0,472.6 451.2,472.4 451.4,476.5 451.6,478.4 451.8,471.7 452.0,474.6 452.2,478.6 452.4,480.1 452.6,477.8 452.8,473.6 453.0,474.8 453.2,480.7 453.4,478.7 453.6,477.3 453.8,480.0 454.0,478.6 454.2,482.7 454.5,482.0 454.7,477.1 454.9,477.3 455.1,479.8 455.3,468.7 455.5,479.3 455.7,475.4 455.9,477.4 456.1,480.8 456.3,475.6 456.5,473.8 456.7,478.8 456.9,476.6 457.1,469.1 457.3,483.0 457.5,479.9 457.8,476.5 458.0,479.1 458.2,482.8 458.4,481.4 458.6,480.3 458.8,480.5 459.0,479.1 459.2,472.2 459.4,478.4 459.6,481.1 459.8,476.4 460.0,476.6 460.2,484.4 460.4,482.3 460.6,484.6 460.8,478.2 461.0,475.9 461.3,480.8 461.5,474.3 461.7,482.4 461.9,481.3 462.1,480.2 462.3,479.2 462.5,472.6 462.7,485.0 462.9,477.6 463.1,479.8 463.3,474.9 463.5,486.2 463.7,485.5 463.9,472.7 464.1,474.8 464.3,475.6 464.5,481.0 464.8,475.8 465.0,480.5 465.2,485.4 465.4,481.3 465.6,481.9 465.8,485.4 466.0,483.3 466.2,483.9 466.4,478.6 466.6,476.6 466.8,476.0 467.0,476.2 467.2,485.8 467.4,478.6 467.6,477.6 467.8,479.4 468.1,485.5 468.3,491.2 468.5,480.7 468.7,485.1 468.9,477.5 469.1,488.1 469.3,479.2 469.5,483.6 469.7,487.6 469.9,483.8 470.1,482.5 470.3,478.2 470.5,478.4 470.7,476.5 470.9,478.7 471.1,484.2 471.3,484.1 471.6,481.6 471.8,483.9 472.0,489.7 472.2,491.6 472.4,479.2 472.6,482.1 472.8,474.0 473.0,485.1 473.2,478.3 473.4,482.4 473.6,481.0 473.8,482.9 474.0,478.4 474.2,481.1 474.4,485.6 474.6,484.1 474.8,484.7 475.1,483.5 475.3,482.9 475.5,485.9 475.7,486.7 475.9,484.3 476.1,492.1 476.3,482.7 476.5,482.9 476.7,494.3 476.9,489.5 477.1,485.0 477.3,494.6 477.5,483.2 477.7,480.9 477.9,483.2 478.1,481.3 478.4,485.9 478.6,481.8 478.8,482.6 479.0,486.3 479.2,485.5 479.4,493.2 479.6,491.9 479.8,481.7 480.0,481.7 480.2,489.8 480.4,493.0 480.6,495.0 480.8,481.4 481.0,485.0 481.2,478.3 481.4,481.1 481.6,477.9 481.9,483.1 482.1,489.2 482.3,488.3 482.5,482.0 482.7,493.0 482.9,484.4 483.1,488.7 483.3,481.3 483.5,489.3 483.7,490.1 483.9,482.8 484.1,496.4 484.3,482.3 484.5,485.6 484.7,489.5 484.9,484.0 485.1,489.0 485.4,484.2 485.6,486.5 485.8,483.6 486.0,491.0 486.2,489.8 486.4,478.9 486.6,485.6 486.8,487.7 487.0,490.8 487.2,489.2 487.4,485.9 487.6,492.2 487.8,487.1 488.0,488.0 488.2,495.4 488.4,486.9 488.7,481.6 488.9,488.8 489.1,487.9 489.3,485.8 489.5,489.5 489.7,494.5 489.9,486.8 490.1,488.9 490.3,489.7 490.5,480.9 490.7,486.5 490.9,490.2 491.1,489.9 491.3,480.0 491.5,483.4 491.7,494.6 491.9,484.3 492.2,489.1 492.4,489.5 492.6,482.1 492.8,483.8 493.0,490.6 493.2,487.0 493.4,484.2 493.6,487.4 493.8,485.1 494.0,490.0 494.2,481.3 494.4,480.6 494.6,489.8 494.8,493.1 495.0,489.0 495.2,483.2 495.4,486.0 495.7,487.2 495.9,486.1 496.1,493.3 496.3,487.1 496.5,487.4 496.7,489.7 496.9,483.5 497.1,489.8 497.3,489.7 497.5,483.9 497.7,484.2 497.9,486.6 498.1,485.9 498.3,485.2 498.5,485.5 498.7,491.2 499.0,483.3 499.2,478.2 499.4,485.2 499.6,488.1 499.8,481.8 500.0,484.2 500.2,490.2 500.4,487.3 500.6,489.4 500.8,482.5 501.0,492.6 501.2,481.5 501.4,489.8 501.6,485.6 501.8,488.8 502.0,485.3 502.2,481.9 502.5,484.2 502.7,492.2 502.9,488.0 503.1,486.3 503.3,478.8 503.5,489.1 503.7,488.6 503.9,490.3 504.1,487.1 504.3,484.0 504.5,491.2 504.7,480.8 504.9,481.4 505.1,483.4 505.3,484.2 505.5,477.3 505.7,491.4 506.0,489.2 506.2,477.4 506.4,492.1 506.6,485.4 506.8,487.4 507.0,490.7 507.2,490.8 507.4,487.5 507.6,485.4 507.8,484.4 508.0,483.9 508.2,486.1 508.4,486.2 508.6,483.7 508.8,489.1 509.0,492.0 509.2,482.5 509.5,495.2 509.7,483.6 509.9,480.5 510.1,491.4 510.3,495.4 510.5,489.6 510.7,484.4 510.9,490.0 511.1,481.1 511.3,482.8 511.5,489.9 511.7,482.1 511.9,491.7 512.1,487.3 512.3,484.3 512.5,479.4 512.8,481.6 513.0,478.5 513.2,491.3 513.4,475.3 513.6,488.7 513.8,483.5 514.0,477.8 514.2,482.3 514.4,479.2 514.6,489.8 514.8,489.3 515.0,486.2 515.2,486.7 515.4,483.6 515.6,485.5 515.8,489.1 516.0,482.9 516.3,490.0 516.5,486.8 516.7,482.2 516.9,487.5 517.1,483.6 517.3,480.5 517.5,476.7 517.7,477.9 517.9,479.2 518.1,480.9 518.3,488.6 518.5,486.7 518.7,486.7 518.9,485.2 519.1,483.3 519.3,486.9 519.5,484.5 519.8,477.5 520.0,484.4 520.2,491.0 520.4,483.5 520.6,482.8 520.8,483.7 521.0,472.5 521.2,477.8 521.4,474.3 521.6,484.6 521.8,478.4 522.0,480.6 522.2,482.0 522.4,485.3 522.6,480.6 522.8,490.2 523.1,477.1 523.3,471.5 523.5,474.6 523.7,490.7 523.9,480.4 524.1,484.5 524.3,483.9 524.5,482.3 524.7,475.8 524.9,477.7 525.1,484.7 525.3,478.4 525.5,480.2 525.7,471.7 525.9,487.4 526.1,481.3 526.3,485.0 526.6,480.9 526.8,489.8 527.0,484.9 527.2,481.2 527.4,483.3 527.6,484.6 527.8,481.2 528.0,483.2 528.2,484.8 528.4,481.7 528.6,480.5 528.8,479.1 529.0,488.4 529.2,482.4 529.4,475.3 529.6,487.1 529.9,480.0 530.1,482.8 530.3,475.8 530.5,475.2 530.7,479.5 530.9,482.9 531.1,487.7 531.3,483.0 531.5,484.5 531.7,480.5 531.9,473.8 532.1,472.2 532.3,479.4 532.5,480.2 532.7,481.3 532.9,479.4 533.1,481.7 533.4,473.0 533.6,484.1 533.8,480.3 534.0,483.6 534.2,476.6 534.4,472.8 534.6,477.9 534.8,480.0 535.0,480.7 535.2,478.4 535.4,483.0 535.6,473.6 535.8,473.1 536.0,476.5 536.2,477.4 536.4,482.8 536.6,472.9 536.9,487.2 537.1,484.3 537.3,471.7 537.5,482.9 537.7,484.7 537.9,488.5 538.1,476.6 538.3,475.9 538.5,480.3 538.7,488.4 538.9,481.6 539.1,484.7 539.3,477.3 539.5,474.8 539.7,479.4 539.9,479.5 540.2,474.6 540.4,473.9 540.6,486.7 540.8,479.5 541.0,486.7 541.2,484.9 541.4,476.5 541.6,486.5 541.8,482.3 542.0,476.1 542.2,479.6 542.4,488.9 542.6,482.1 542.8,482.7 543.0,485.7 543.2,472.8 543.4,481.5 543.7,481.6 543.9,477.3 544.1,481.1 544.3,487.7 544.5,481.9 544.7,480.1 544.9,481.2 545.1,477.3 545.3,478.2 545.5,479.8 545.7,482.7 545.9,481.9 546.1,473.6 546.3,489.3 546.5,477.2 546.7,480.2 546.9,485.2 547.2,482.3 547.4,479.6 547.6,488.4 547.8,481.6 548.0,479.8 548.2,486.3 548.4,481.8 548.6,476.4 548.8,481.6 549.0,486.3 549.2,489.5 549.4,490.3 549.6,478.4 549.8,483.6 550.0,483.2 550.2,483.7 550.5,486.0 550.7,475.3 550.9,479.9 551.1,476.5 551.3,488.2 551.5,480.4 551.7,480.3 551.9,488.1 552.1,487.0 552.3,486.8 552.5,478.9 552.7,482.4 552.9,486.5 553.1,480.4 553.3,486.3 553.5,483.0 553.7,483.9 554.0,487.3 554.2,479.6 554.4,483.5 554.6,493.7 554.8,484.7 555.0,477.5 555.2,493.6 555.4,480.1 555.6,483.1 555.8,489.4 556.0,484.3 556.2,489.1 556.4,490.9 556.6,482.7 556.8,483.2 557.0,492.2 557.2,486.8 557.5,484.5 557.7,491.4 557.9,480.1 558.1,487.9 558.3,483.1 558.5,482.1 558.7,489.0 558.9,483.5 559.1,484.6 559.3,483.4 559.5,487.1 559.7,481.1 559.9,482.3 560.1,478.8 560.3,480.9 560.5,491.3 560.8,488.0 561.0,483.8 561.2,481.4 561.4,488.7 561.6,485.8 561.8,484.6 562.0,486.4 562.2,481.7 562.4,490.3 562.6,484.0 562.8,489.6 563.0,484.4 563.2,490.2 563.4,487.6 563.6,482.5 563.8,490.6 564.0,486.3 564.3,483.9 564.5,487.2 564.7,487.9 564.9,486.8 565.1,490.6 565.3,483.8 565.5,484.0 565.7,479.8 565.9,486.0 566.1,482.6 566.3,489.4 566.5,485.3 566.7,491.3 566.9,486.5 567.1,488.9 567.3,483.6 567.5,496.2 567.8,488.4 568.0,489.1 568.2,485.1 568.4,490.9 568.6,489.8 568.8,482.8 569.0,490.8 569.2,489.8 569.4,483.5 569.6,497.1 569.8,486.7 570.0,487.0 570.2,487.4 570.4,496.0 570.6,494.6 570.8,492.2 571.0,492.3 571.3,486.1 571.5,490.8 571.7,483.1 571.9,489.1 572.1,486.6 572.3,491.9 572.5,491.7 572.7,487.5 572.9,485.7 573.1,492.2 573.3,484.2 573.5,490.5 573.7,483.1 573.9,494.8 574.1,491.2 574.3,487.1 574.6,490.1 574.8,492.3 575.0,487.3 575.2,486.1 575.4,491.8 575.6,487.0 575.8,492.0 576.0,493.6 576.2,485.1 576.4,492.8 576.6,492.5 576.8,487.4 577.0,494.7 577.2,494.6 577.4,491.8 577.6,490.5 577.8,487.1 578.1,491.7 578.3,493.7 578.5,496.4 578.7,492.5 578.9,493.1 579.1,486.8 579.3,498.0 579.5,498.7 579.7,499.2 579.9,492.6 580.1,489.9 580.3,485.1 580.5,498.4 580.7,491.3 580.9,494.5 581.1,485.4 581.4,490.7 581.6,486.0 581.8,492.4 582.0,488.0 582.2,490.9 582.4,495.1 582.6,488.7 582.8,493.9 583.0,501.9 583.2,493.2 583.4,497.8 583.6,490.8 583.8,486.7 584.0,491.8 584.2,490.9 584.4,498.2 584.6,496.5 584.9,495.8 585.1,485.5 585.3,495.2 585.5,492.5 585.7,501.1 585.9,495.8 586.1,493.3 586.3,494.4 586.5,495.1 586.7,492.3 586.9,492.1 587.1,499.1 587.3,499.7 587.5,492.1 587.7,491.1 587.9,500.0 588.1,491.8 588.4,500.3 588.6,495.4 588.8,489.6 589.0,501.5 589.2,495.0 589.4,495.9 589.6,499.7 589.8,492.1 590.0,499.1 590.2,498.0 590.4,499.9 590.6,493.7 590.8,493.3 591.0,490.1 591.2,496.7 591.4,499.1 591.7,489.8 591.9,498.4 592.1,493.3 592.3,489.6 592.5,493.0 592.7,503.6 592.9,500.6 593.1,499.6 593.3,493.1 593.5,499.7 593.7,493.6 593.9,495.9 594.1,496.2 594.3,497.0 594.5,500.0 594.7,491.5 594.9,496.6 595.2,491.1 595.4,500.9 595.6,504.2 595.8,491.8 596.0,502.2 596.2,497.1 596.4,499.2 596.6,498.4 596.8,499.2 597.0,502.3 597.2,502.8 597.4,497.2 597.6,501.0 597.8,491.3 598.0,498.0 598.2,492.8 598.4,500.4 598.7,495.3 598.9,501.0 599.1,502.4 599.3,499.7 599.5,499.6 599.7,490.0 599.9,504.3 600.1,501.7 600.3,496.3 600.5,499.9 600.7,498.7 600.9,496.3 601.1,500.0 601.3,502.4 601.5,505.0 601.7,499.9 602.0,497.5 602.2,499.0 602.4,495.2 602.6,501.6 602.8,498.9 603.0,503.4 603.2,507.8 603.4,497.9 603.6,502.1 603.8,497.8 604.0,502.9 604.2,506.6 604.4,504.2 604.6,501.8 604.8,503.4 605.0,501.9 605.2,498.7 605.5,501.0 605.7,499.1 605.9,501.7 606.1,503.8 606.3,505.1 606.5,509.9 606.7,499.0 606.9,497.0 607.1,505.4 607.3,505.3 607.5,505.0 607.7,500.3 607.9,501.3 608.1,502.7 608.3,502.1 608.5,508.5 608.7,502.5 609.0,502.8 609.2,500.2 609.4,505.0 609.6,504.3 609.8,501.5 610.0,493.5 610.2,504.8 610.4,494.5 610.6,506.2 610.8,502.4 611.0,506.3 611.2,497.4 611.4,502.3 611.6,502.1 611.8,498.9 612.0,497.9 612.2,505.6 612.5,502.1 612.7,505.1 612.9,498.7 613.1,511.5 613.3,494.8 613.5,504.3 613.7,511.6 613.9,502.5 614.1,506.9 614.3,503.6 614.5,503.3 614.7,499.7 614.9,511.0 615.1,502.4 615.3,499.5 615.5,509.1 615.8,501.2 616.0,501.1 616.2,506.4 616.4,511.8 616.6,503.8 616.8,506.3 617.0,498.5 617.2,505.5 617.4,501.9 617.6,503.4 617.8,504.0 618.0,509.6 618.2,507.7 618.4,504.6 618.6,505.4 618.8,505.5 619.0,502.2 619.3,505.1 619.5,502.5 619.7,505.0 619.9,504.0 620.1,507.5 620.3,511.3 620.5,502.4 620.7,502.4 620.9,503.3 621.1,508.9 621.3,501.7 621.5,505.6 621.7,505.4 621.9,508.6 622.1,508.0 622.3,508.6 622.5,504.9 622.8,509.0 623.0,506.5 623.2,508.5 623.4,511.4 623.6,506.4 623.8,506.2 624.0,506.4 624.2,515.2 624.4,502.9 624.6,506.9 624.8,510.6 625.0,499.7 625.2,507.0 625.4,504.3 625.6,506.7 625.8,515.7 626.1,502.8 626.3,511.7 626.5,503.3 626.7,508.0 626.9,510.8 627.1,516.0 627.3,509.5 627.5,511.6 627.7,507.7 627.9,512.0 628.1,505.2 628.3,510.0 628.5,509.8 628.7,500.6 628.9,505.2 629.1,510.7 629.3,506.9 629.6,514.4 629.8,511.2 630.0,509.1 630.2,511.3 630.4,512.4 630.6,506.2 630.8,511.0 631.0,511.8 631.2,511.1 631.4,511.3 631.6,506.0 631.8,507.9 632.0,514.7 632.2,504.1 632.4,505.1 632.6,510.3 632.9,513.0 633.1,509.3 633.3,511.5 633.5,507.5 633.7,509.6 633.9,504.8 634.1,515.6 634.3,512.0 634.5,508.7 634.7,511.6 634.9,511.4 635.1,514.2 635.3,502.8 635.5,510.7 635.7,507.5 635.9,513.0 636.1,511.9 636.4,510.5 636.6,504.2 636.8,505.2 637.0,502.7 637.2,504.8 637.4,505.0 637.6,511.3 637.8,513.1 638.0,505.8 638.2,513.3 638.4,508.7 638.6,513.0 638.8,514.6 639.0,510.6 639.2,514.1 639.4,512.0 639.6,507.7 639.9,511.7 640.1,507.4 640.3,512.7 640.5,509.9 640.7,514.9 640.9,506.4 641.1,518.7 641.3,510.3 641.5,509.3 641.7,519.5 641.9,517.4 642.1,517.0 642.3,511.8 642.5,512.5 642.7,512.8 642.9,509.4 643.2,503.4 643.4,515.4 643.6,510.5 643.8,511.6 644.0,507.9 644.2,519.6 644.4,517.8 644.6,515.9 644.8,516.0 645.0,511.2 645.2,513.8 645.4,519.4 645.6,514.9 645.8,518.1 646.0,515.0 646.2,513.0 646.4,515.2 646.7,507.9 646.9,504.2 647.1,510.6 647.3,518.1 647.5,507.3 647.7,504.9 647.9,513.2 648.1,511.2 648.3,508.6 648.5,511.9 648.7,508.1 648.9,510.7 649.1,515.0 649.3,514.6 649.5,513.7 649.7,515.3 649.9,508.1 650.2,511.7 650.4,513.7 650.6,510.1 650.8,512.7 651.0,509.3 651.2,507.2 651.4,512.5 651.6,515.2 651.8,517.4 652.0,506.8 652.2,511.8 652.4,515.4 652.6,513.6 652.8,517.4 653.0,508.5 653.2,512.3 653.5,514.7 653.7,518.7 653.9,505.8 654.1,513.1 654.3,521.5 654.5,515.6 654.7,513.7 654.9,513.1 655.1,517.6 655.3,509.5 655.5,511.6 655.7,513.6 655.9,516.1 656.1,520.2 656.3,515.5 656.5,514.6 656.7,518.1 657.0,512.8 657.2,511.1 657.4,515.6 657.6,515.4 657.8,514.1 658.0,508.1 658.2,508.9 658.4,520.0 658.6,515.9 658.8,505.9 659.0,515.3 659.2,507.9 659.4,512.4 659.6,509.7 659.8,515.5 660.0,514.0 660.2,512.3 660.5,514.4 660.7,514.5 660.9,509.3 661.1,515.0 661.3,509.7 661.5,516.6 661.7,515.6 661.9,511.9 662.1,512.7 662.3,511.1 662.5,514.4 662.7,514.7 662.9,516.3 663.1,520.3 663.3,516.1 663.5,511.0 663.8,515.0 664.0,514.0 664.2,510.3 664.4,518.1 664.6,513.6 664.8,516.8 665.0,510.8 665.2,520.1 665.4,516.2 665.6,516.8 665.8,516.2 666.0,517.0 666.2,508.4 666.4,515.8 666.6,515.6 666.8,520.2 667.0,519.8 667.3,517.8 667.5,519.5 667.7,513.4 667.9,517.3 668.1,516.9 668.3,515.8 668.5,518.5 668.7,519.8 668.9,517.8 669.1,514.7 669.3,515.8 669.5,518.5 669.7,509.9 669.9,514.2 670.1,513.2 670.3,510.2 670.5,518.8 670.8,512.2 671.0,514.8 671.2,514.6 671.4,521.0 671.6,518.6 671.8,515.7 672.0,515.9 672.2,510.4 672.4,517.2 672.6,515.0 672.8,517.0 673.0,520.5 673.2,517.1 673.4,515.6 673.6,509.9 673.8,511.7 674.0,517.9 674.3,519.2 674.5,516.2 674.7,518.1 674.9,508.1 675.1,513.2 675.3,516.4 675.5,518.1 675.7,520.0 675.9,516.6 676.1,524.1 676.3,517.6 676.5,517.9 676.7,511.0 676.9,522.5 677.1,513.2 677.3,517.6 677.6,513.7 677.8,519.0 678.0,515.1 678.2,513.6 678.4,508.6 678.6,519.4 678.8,517.0 679.0,517.0 679.2,518.7 679.4,517.0 679.6,516.6 679.8,517.9 680.0,522.7 680.2,515.8 680.4,521.8 680.6,517.1 680.8,513.3 681.1,521.3 681.3,517.3 681.5,516.2 681.7,517.1 681.9,518.6 682.1,516.9 682.3,514.7 682.5,520.5 682.7,517.6 682.9,514.6 683.1,519.2 683.3,521.3 683.5,514.5 683.7,514.8 683.9,513.9 684.1,517.3 684.4,519.5 684.6,512.0 684.8,513.0 685.0,514.6 685.2,519.1 685.4,517.0 685.6,520.4 685.8,521.0 686.0,517.1 686.2,516.4 686.4,515.6 686.6,517.2 686.8,510.5 687.0,520.9 687.2,513.1 687.4,519.0 687.6,514.4 687.9,520.8 688.1,510.1 688.3,512.8 688.5,523.2 688.7,513.3 688.9,517.2 689.1,514.7 689.3,517.8 689.5,518.3 689.7,522.6 689.9,519.5 690.1,518.0 690.3,523.7 690.5,521.3 690.7,517.9 690.9,516.5 691.1,519.6 691.4,513.3 691.6,519.8 691.8,516.0 692.0,513.6 692.2,520.8 692.4,514.2 692.6,518.7 692.8,521.1 693.0,512.7 693.2,512.6 693.4,519.3 693.6,514.6 693.8,514.9 694.0,518.4 694.2,510.9 694.4,518.8 694.7,520.7 694.9,518.3 695.1,518.8 695.3,520.0 695.5,519.5 695.7,523.1 695.9,516.5 696.1,523.2 696.3,514.8 696.5,516.3 696.7,520.0 696.9,520.0 697.1,521.0 697.3,518.7 697.5,512.8 697.7,517.7 697.9,520.3 698.2,512.9 698.4,520.2 698.6,520.1 698.8,511.6 699.0,516.7 699.2,514.9 699.4,516.9 699.6,517.2 699.8,516.7 700.0,516.5 700.2,511.6 700.4,523.1 700.6,527.1 700.8,520.1 701.0,524.3 701.2,518.7 701.4,523.3 701.7,519.2 701.9,515.6 702.1,521.1 702.3,521.9 702.5,516.7 702.7,522.0 702.9,519.8 703.1,520.0 703.3,523.9 703.5,516.4 703.7,523.3 703.9,516.6 704.1,518.4 704.3,523.3 704.5,520.9 704.7,516.8 705.0,520.7 705.2,512.3 705.4,523.2 705.6,515.8 705.8,525.5 706.0,520.8 706.2,516.5 706.4,526.4 706.6,519.1 706.8,523.8 707.0,524.6 707.2,522.6 707.4,522.0 707.6,521.8 707.8,522.2 708.0,523.1 708.2,528.1 708.5,515.7 708.7,513.1 708.9,518.8 709.1,521.3 709.3,523.7 709.5,519.4 709.7,519.5 709.9,523.5 710.1,521.1 710.3,518.0 710.5,519.5 710.7,520.7 710.9,520.1 711.1,523.1 711.3,520.8 711.5,520.4 711.7,523.2 712.0,521.1 712.2,517.6 712.4,517.2 712.6,528.2 712.8,525.7 713.0,517.4 713.2,519.4 713.4,519.4 713.6,525.6 713.8,520.7 714.0,518.9 714.2,519.5 714.4,523.4 714.6,522.9 714.8,520.0 715.0,520.4 715.2,516.7 715.5,528.7 715.7,523.1 715.9,516.9 716.1,525.0 716.3,520.8 716.5,516.3 716.7,524.6 716.9,520.1 717.1,514.7 717.3,525.6 717.5,528.0 717.7,517.7 717.9,523.0 718.1,521.5 718.3,521.1 718.5,517.2 718.8,522.4 719.0,518.0 719.2,518.8 719.4,521.5 719.6,517.9 719.8,520.4 720.0,521.8 720.2,514.0 720.4,528.3 720.6,525.4 720.8,525.0 721.0,523.0 721.2,521.0 721.4,522.4 721.6,514.1 721.8,523.4 722.0,525.3 722.3,521.6 722.5,523.2 722.7,523.4 722.9,518.6 723.1,520.7 723.3,518.0 723.5,525.4 723.7,519.7 723.9,521.8 724.1,523.9 724.3,527.2 724.5,522.1 724.7,525.8 724.9,519.5 725.1,520.4 725.3,520.3 725.5,514.4 725.8,517.7 726.0,528.8 726.2,520.0 726.4,521.3 726.6,521.3 726.8,523.7 727.0,518.9 727.2,529.7 727.4,526.6 727.6,520.0 727.8,521.5 728.0,519.0 728.2,523.4 728.4,524.0 728.6,519.5 728.8,521.6 729.1,528.1 729.3,519.0 729.5,525.9 729.7,519.2 729.9,521.6 730.1,520.3 730.3,518.8 730.5,525.7 730.7,520.1 730.9,522.5 731.1,523.2 731.3,522.3 731.5,524.1 731.7,522.2 731.9,521.6 732.1,524.6 732.3,518.7 732.6,522.1 732.8,526.2 733.0,520.9 733.2,520.7 733.4,527.3 733.6,521.5 733.8,523.8 734.0,521.6 734.2,523.1 734.4,521.2 734.6,521.9 734.8,530.1 735.0,522.3 735.2,520.7 735.4,520.2 735.6,518.4 735.9,521.5 736.1,518.2 736.3,519.7 736.5,524.2 736.7,525.0 736.9,518.4 737.1,520.3 737.3,528.6 737.5,526.3 737.7,518.8 737.9,522.2 738.1,528.6 738.3,521.3 738.5,519.4 738.7,520.6 738.9,523.0 739.1,523.5 739.4,524.6 739.6,524.6 739.8,521.9 740.0,515.4 740.2,515.4 740.4,523.4 740.6,527.9 740.8,523.2 741.0,523.9 741.2,523.8 741.4,528.6 741.6,523.2 741.8,525.2 742.0,522.8 742.2,528.2 742.4,522.9 742.6,527.1 742.9,525.9 743.1,525.2 743.3,524.9 743.5,524.9 743.7,525.0 743.9,525.2 744.1,525.5 744.3,525.1 744.5,524.3 744.7,516.8 744.9,520.1 745.1,525.2 745.3,527.8 745.5,519.4 745.7,523.3 745.9,522.1 746.2,519.3 746.4,529.7 746.6,525.3 746.8,522.7 747.0,518.6 747.2,523.6 747.4,523.1 747.6,523.5 747.8,523.5 748.0,522.9 748.2,525.3 748.4,525.8 748.6,524.7 748.8,521.3 749.0,519.5 749.2,523.0 749.4,524.4 749.7,519.4 749.9,521.6 750.1,521.0 750.3,523.9 750.5,525.0 750.7,521.9 750.9,524.1 751.1,519.7 751.3,526.6 751.5,522.5 751.7,523.6 751.9,527.1 752.1,524.9 752.3,527.2 752.5,524.9 752.7,524.6 752.9,516.3 753.2,527.2 753.4,521.6 753.6,525.3 753.8,522.6 754.0,524.9 754.2,526.5 754.4,519.1 754.6,520.1 754.8,529.7 755.0,524.4 755.2,525.1 755.4,529.3 755.6,523.4 755.8,522.3 756.0,523.8 756.2,522.5 756.5,518.1 756.7,525.6 756.9,519.9 757.1,516.8 757.3,531.6 757.5,524.9 757.7,519.6 757.9,523.0 758.1,526.2 758.3,519.4 758.5,521.2 758.7,529.6 758.9,521.5 759.1,524.9 759.3,523.6 759.5,528.2 759.7,522.5 760.0,523.8 760.2,527.5 760.4,525.5 760.6,519.7 760.8,519.3 761.0,529.4 761.2,522.8 761.4,525.5 761.6,526.2 761.8,523.7 762.0,519.5 762.2,522.7 762.4,527.8 762.6,524.4 762.8,523.2 763.0,521.0 763.2,524.9 763.5,524.3 763.7,524.0 763.9,522.6 764.1,531.0 764.3,520.2 764.5,523.8 764.7,524.8 764.9,528.5 765.1,524.0 765.3,518.4 765.5,526.9 765.7,530.4 765.9,523.5 766.1,524.9 766.3,525.2 766.5,530.1 766.8,523.7 767.0,523.0 767.2,532.6 767.4,524.6 767.6,522.7 767.8,528.2 768.0,532.3 768.2,525.0 768.4,518.2 768.6,524.1 768.8,518.1 769.0,524.3 769.2,526.1 769.4,528.0 769.6,520.8 769.8,529.9 770.0,527.5 770.3,526.9 770.5,524.6 770.7,525.4 770.9,530.5 771.1,529.5 771.3,520.0 771.5,525.4 771.7,525.7 771.9,526.9 772.1,524.8 772.3,528.3 772.5,522.2 772.7,523.0 772.9,525.9 773.1,522.9 773.3,526.5 773.5,527.4 773.8,522.7 774.0,526.3 774.2,528.7 774.4,520.8 774.6,526.7 774.8,524.6 775.0,521.2 775.2,530.4 775.4,527.2 775.6,523.0 775.8,527.2 776.0,527.8 776.2,526.8 776.4,527.3 776.6,527.4 776.8,525.1 777.1,526.1 777.3,520.8 777.5,525.4 777.7,521.0 777.9,526.1 778.1,520.8 778.3,527.0 778.5,522.6 778.7,526.1 778.9,521.3 779.1,529.2 779.3,528.2 779.5,525.4 779.7,529.9 779.9,522.0 780.1,527.4 780.3,525.1 780.6,523.5 780.8,524.9 781.0,529.3 781.2,531.3 781.4,532.4 781.6,529.9 781.8,529.5 782.0,529.6 782.2,525.6 782.4,531.5 782.6,532.4 782.8,526.6 783.0,521.3 783.2,530.2 783.4,527.6 783.6,527.4 783.8,523.7 784.1,524.5 784.3,528.8 784.5,524.4 784.7,527.1 784.9,524.8 785.1,521.5 785.3,534.6 785.5,532.1 785.7,531.9 785.9,531.6 786.1,527.2 786.3,527.2 786.5,522.0 786.7,523.0 786.9,526.7 787.1,528.1 787.4,525.5 787.6,526.3 787.8,529.3 788.0,525.5 788.2,529.4 788.4,528.1 788.6,528.3 788.8,529.8 789.0,530.0 789.2,527.7 789.4,528.3 789.6,531.9 789.8,522.6 790.0,522.5 790.2,522.7 790.4,524.3 790.6,528.4 790.9,531.1 791.1,531.4 791.3,533.7 791.5,529.2 791.7,533.7 791.9,527.9 792.1,527.4 792.3,530.0 792.5,530.0 792.7,528.5 792.9,526.5 793.1,529.4 793.3,522.9 793.5,531.2 793.7,530.4 793.9,530.0 794.1,529.1 794.4,527.8 794.6,526.7 794.8,529.5 795.0,523.4 795.2,534.5 795.4,527.7 795.6,528.4 795.8,533.0 796.0,533.2 796.2,528.3 796.4,525.0 796.6,527.4 796.8,529.0 797.0,529.7 797.2,530.3 797.4,530.1 797.7,526.8 797.9,525.4 798.1,527.1 798.3,531.0 798.5,527.1 798.7,525.6 798.9,534.7 799.1,527.9 799.3,530.7 799.5,528.6 799.7,533.0 799.9,532.4 800.1,529.4 800.3,530.8 800.5,530.6 800.7,531.9 800.9,527.7 801.2,525.8 801.4,532.2 801.6,528.4 801.8,530.6 802.0,528.4 802.2,525.7 802.4,528.4 802.6,529.6 802.8,532.6 803.0,525.8 803.2,524.1 803.4,535.4 803.6,527.5 803.8,529.9 804.0,533.4 804.2,524.0 804.4,527.8 804.7,522.9 804.9,531.9 805.1,530.9 805.3,534.2 805.5,529.3 805.7,534.8 805.9,530.5 806.1,526.0 806.3,527.9 806.5,526.6 806.7,529.2 806.9,527.2 807.1,530.0 807.3,533.6 807.5,528.2 807.7,529.9 808.0,532.2 808.2,533.2 808.4,526.0 808.6,534.9 808.8,532.4 809.0,528.7 809.2,527.9 809.4,529.1 809.6,534.6 809.8,526.5 810.0,530.2 810.2,534.5 810.4,526.5 810.6,530.2 810.8,535.7 811.0,536.9 811.2,530.5 811.5,532.0 811.7,529.2 811.9,529.6 812.1,532.5 812.3,528.7 812.5,529.4 812.7,533.4 812.9,527.7 813.1,529.5 813.3,530.7 813.5,529.1 813.7,532.7 813.9,532.7 814.1,530.5 814.3,533.2 814.5,525.5 814.7,529.5 815.0,528.0 815.2,524.7 815.4,525.8 815.6,523.7 815.8,533.0 816.0,525.1 816.2,531.6 816.4,531.0 816.6,529.7 816.8,530.1 817.0,530.4 817.2,529.4 817.4,525.6 817.6,537.2 817.8,534.9 818.0,534.4 818.2,529.5 818.5,530.1 818.7,529.2 818.9,524.5 819.1,530.3 819.3,534.9 819.5,529.1 819.7,524.8 819.9,524.3 820.1,530.7 820.3,530.0 820.5,529.5 820.7,528.7 820.9,531.0 821.1,532.0 821.3,525.7 821.5,525.8 821.8,530.5 822.0,532.4 822.2,532.6 822.4,534.2 822.6,534.5 822.8,531.5 823.0,532.9 823.2,529.8 823.4,532.3 823.6,533.6 823.8,531.9 824.0,537.8 824.2,529.6 824.4,531.5 824.6,526.5 824.8,532.2 825.0,531.3 825.3,533.7 825.5,524.4 825.7,530.0 825.9,527.1 826.1,531.9 826.3,529.1 826.5,533.9 826.7,532.9 826.9,531.9 827.1,533.7 827.3,528.7 827.5,528.4 827.7,527.3 827.9,533.9 828.1,532.8 828.3,531.2 828.6,529.1 828.8,535.0 829.0,531.9 829.2,527.9 829.4,530.8 829.6,531.5 829.8,534.7 830.0,532.2 830.2,529.0 830.4,528.1 830.6,536.4 830.8,530.0 831.0,532.4 831.2,534.2 831.4,525.6 831.6,529.3 831.8,534.7 832.1,534.5 832.3,530.8 832.5,535.9 832.7,532.0 832.9,529.9 833.1,535.5 833.3,530.9 833.5,530.1 833.7,533.5 833.9,530.3 834.1,529.5 834.3,530.2 834.5,533.6 834.7,528.9 834.9,532.6 835.1,530.9 835.3,531.4 835.6,531.6 835.8,537.8 836.0,528.4 836.2,530.1 836.4,531.2 836.6,529.8 836.8,532.9 837.0,532.1 837.2,530.1 837.4,538.3 837.6,534.0 837.8,533.5 838.0,532.7 838.2,533.4 838.4,534.1 838.6,531.0 838.9,529.4 839.1,530.4 839.3,528.6 839.5,530.2 839.7,527.3 839.9,526.9 840.1,533.2 840.3,534.3 840.5,533.7 840.7,532.9 840.9,529.6 841.1,530.3 841.3,531.2 841.5,533.9 841.7,533.2 841.9,532.5 842.1,531.2 842.4,538.7 842.6,531.1 842.8,530.4 843.0,534.1 843.2,527.6 843.4,529.6 843.6,529.8 843.8,536.8 844.0,529.5"/>
</g>
<rect x="163.5" y="19.5" width="732.3" height="566.6" fill="none" stroke="#000" stroke-width="3"/>
<clipPath id="cs1"><rect x="78.5" y="803.2" width="407.5" height="314.79999999999995"/></clipPath>
<g clip-path="url(#cs1)">
<polyline fill="none" stroke="#000000" stroke-width="1.6" stroke-linejoin="round"  points="76.0,1013.1 76.5,1005.6 77.0,1016.6 77.5,1015.8 78.0,1009.0 78.5,1014.0 79.0,1009.0 79.5,1006.7 80.0,1012.6 80.5,1013.3 81.0,1008.3 81.5,1009.8 81.9,1007.0 82.4,1011.9 82.9,1009.9 83.4,1013.1 83.9,1014.5 84.4,1014.2 84.9,1014.0 85.4,1006.3 85.9,1008.3 86.4,1010.6 86.9,1011.2 87.4,1011.3 87.8,1007.1 88.3,1010.8 88.8,1015.7 89.3,1011.0 89.8,1016.0 90.3,1011.9 90.8,1012.9 91.3,1015.7 91.8,1015.5 92.3,1010.3 92.8,1008.7 93.3,1008.8 93.8,1012.8 94.2,1012.8 94.7,1009.6 95.2,1007.1 95.7,1007.0 96.2,1009.6 96.7,1012.6 97.2,1007.7 97.7,1008.7 98.2,1011.2 98.7,1012.7 99.2,1011.0 99.7,1005.9 100.1,1005.4 100.6,1010.2 101.1,1008.5 101.6,1004.3 102.1,1013.1 102.6,1010.4 103.1,1009.5 103.6,1007.7 104.1,1013.7 104.6,1007.4 105.1,1013.0 105.6,1005.8 106.1,1008.7 106.5,1009.8 107.0,1005.7 107.5,1008.1 108.0,1011.0 108.5,1005.4 109.0,1008.8 109.5,1007.1 110.0,1003.9 110.5,1012.1 111.0,1005.6 111.5,1005.0 112.0,1000.9 112.4,1013.1 112.9,1005.0 113.4,1000.7 113.9,1006.1 114.4,1007.0 114.9,1008.1 115.4,1012.1 115.9,1002.9 116.4,1010.7 116.9,1012.4 117.4,1004.3 117.9,1003.5 118.4,1003.9 118.8,1003.9 119.3,1009.3 119.8,1006.5 120.3,1007.3 120.8,1008.8 121.3,1005.0 121.8,1009.2 122.3,1006.4 122.8,1001.4 123.3,1006.1 123.8,1006.2 124.3,1003.2 124.7,1009.3 125.2,1004.4 125.7,1001.8 126.2,1003.5 126.7,1007.5 127.2,1002.5 127.7,1006.3 128.2,1002.5 128.7,1007.9 129.2,1008.2 129.7,999.9 130.2,1005.2 130.7,1005.1 131.1,1008.4 131.6,1005.9 132.1,999.8 132.6,1002.6 133.1,1004.2 133.6,1009.8 134.1,1001.4 134.6,1002.6 135.1,1000.2 135.6,1005.0 136.1,1002.0 136.6,1005.4 137.0,1008.0 137.5,1009.3 138.0,1001.1 138.5,1004.3 139.0,1003.5 139.5,1008.1 140.0,997.8 140.5,1004.7 141.0,1008.4 141.5,1007.0 142.0,1004.6 142.5,999.6 143.0,1001.2 143.4,1000.9 143.9,1004.5 144.4,999.7 144.9,1002.3 145.4,998.8 145.9,1004.5 146.4,1003.9 146.9,1004.6 147.4,1003.8 147.9,1004.3 148.4,1000.0 148.9,1002.9 149.3,1006.3 149.8,1002.7 150.3,1003.4 150.8,1006.4 151.3,1000.5 151.8,1000.4 152.3,1000.9 152.8,996.1 153.3,1005.4 153.8,998.5 154.3,999.5 154.8,1003.3 155.3,996.0 155.7,1003.7 156.2,999.3 156.7,997.9 157.2,1000.7 157.7,1001.6 158.2,996.5 158.7,995.5 159.2,1000.7 159.7,994.8 160.2,997.7 160.7,1002.4 161.2,996.0 161.6,998.7 162.1,999.6 162.6,996.8 163.1,996.7 163.6,1000.2 164.1,999.3 164.6,995.3 165.1,994.8 165.6,991.3 166.1,996.9 166.6,996.0 167.1,998.8 167.6,989.6 168.0,994.9 168.5,994.0 169.0,991.0 169.5,992.5 170.0,997.1 170.5,995.3 171.0,990.2 171.5,992.5 172.0,994.9 172.5,993.7 173.0,989.1 173.5,996.2 173.9,992.4 174.4,987.9 174.9,987.8 175.4,994.3 175.9,990.9 176.4,989.0 176.9,989.0 177.4,990.2 177.9,991.0 178.4,989.7 178.9,987.9 179.4,988.0 179.9,982.2 180.3,986.2 180.8,984.6 181.3,984.7 181.8,987.5 182.3,983.2 182.8,987.7 183.3,981.9 183.8,982.9 184.3,986.6 184.8,981.7 185.3,985.7 185.8,981.1 186.2,987.0 186.7,982.5 187.2,978.3 187.7,984.5 188.2,988.9 188.7,984.6 189.2,979.8 189.7,981.5 190.2,986.4 190.7,982.4 191.2,981.8 191.7,986.7 192.2,981.0 192.6,979.6 193.1,980.3 193.6,979.9 194.1,973.3 194.6,982.4 195.1,979.0 195.6,972.6 196.1,975.6 196.6,980.5 197.1,973.6 197.6,982.2 198.1,975.9 198.5,971.6 199.0,977.8 199.5,970.0 200.0,971.7 200.5,971.4 201.0,962.7 201.5,967.3 202.0,969.1 202.5,975.1 203.0,974.1 203.5,969.3 204.0,967.0 204.5,964.3 204.9,969.6 205.4,967.2 205.9,963.0 206.4,969.9 206.9,964.1 207.4,959.6 207.9,964.0 208.4,961.3 208.9,961.0 209.4,959.2 209.9,958.7 210.4,960.4 210.8,960.8 211.3,959.9 211.8,956.0 212.3,961.1 212.8,952.1 213.3,964.8 213.8,954.0 214.3,949.1 214.8,954.6 215.3,952.0 215.8,952.5 216.3,944.9 216.8,949.2 217.2,946.5 217.7,954.0 218.2,951.0 218.7,952.5 219.2,951.5 219.7,952.2 220.2,948.6 220.7,952.1 221.2,944.8 221.7,947.0 222.2,944.3 222.7,949.1 223.1,944.2 223.6,936.5 224.1,941.0 224.6,941.6 225.1,940.0 225.6,937.8 226.1,936.9 226.6,943.9 227.1,942.8 227.6,939.5 228.1,934.0 228.6,935.8 229.1,940.1 229.5,937.0 230.0,936.5 230.5,938.3 231.0,938.3 231.5,940.8 232.0,939.3 232.5,937.5 233.0,930.1 233.5,933.4 234.0,930.5 234.5,932.0 235.0,932.4 235.4,927.3 235.9,931.0 236.4,928.0 236.9,928.7 237.4,930.5 237.9,929.4 238.4,925.9 238.9,927.8 239.4,922.8 239.9,926.3 240.4,922.9 240.9,923.7 241.4,923.4 241.8,921.2 242.3,922.4 242.8,922.6 243.3,921.7 243.8,918.7 244.3,918.0 244.8,914.5 245.3,916.0 245.8,913.8 246.3,912.8 246.8,914.8 247.3,910.7 247.7,914.3 248.2,917.0 248.7,917.2 249.2,910.9 249.7,906.5 250.2,909.9 250.7,914.0 251.2,903.3 251.7,902.5 252.2,907.7 252.7,903.6 253.2,900.1 253.7,905.1 254.1,904.3 254.6,900.6 255.1,898.3 255.6,900.0 256.1,897.8 256.6,897.2 257.1,896.0 257.6,895.3 258.1,898.2 258.6,900.2 259.1,895.3 259.6,895.4 260.0,898.3 260.5,887.5 261.0,892.7 261.5,887.2 262.0,891.3 262.5,887.4 263.0,886.6 263.5,885.7 264.0,886.5 264.5,886.0 265.0,884.6 265.5,877.3 266.0,879.1 266.4,884.6 266.9,882.2 267.4,884.6 267.9,875.5 268.4,877.4 268.9,879.8 269.4,882.0 269.9,881.0 270.4,878.7 270.9,878.3 271.4,877.4 271.9,876.4 272.3,878.8 272.8,874.1 273.3,874.4 273.8,871.7 274.3,877.2 274.8,870.4 275.3,868.9 275.8,870.5 276.3,873.6 276.8,873.1 277.3,870.4 277.8,868.6 278.3,867.6 278.7,868.4 279.2,873.1 279.7,868.4 280.2,867.1 280.7,868.1 281.2,864.7 281.7,862.0 282.2,868.5 282.7,862.7 283.2,866.2 283.7,865.9 284.2,863.2 284.6,855.9 285.1,859.2 285.6,861.0 286.1,856.0 286.6,858.6 287.1,856.8 287.6,860.7 288.1,859.9 288.6,860.8 289.1,852.6 289.6,859.2 290.1,849.8 290.6,857.9 291.0,853.1 291.5,851.8 292.0,855.7 292.5,857.9 293.0,852.8 293.5,845.6 294.0,845.9 294.5,854.2 295.0,849.8 295.5,850.4 296.0,846.0 296.5,848.4 296.9,852.4 297.4,842.4 297.9,847.0 298.4,852.0 298.9,845.6 299.4,846.7 299.9,845.4 300.4,853.1 300.9,848.8 301.4,851.5 301.9,849.9 302.4,850.0 302.9,848.0 303.3,852.5 303.8,846.0 304.3,850.7 304.8,848.0 305.3,849.6 305.8,848.3 306.3,846.8 306.8,850.4 307.3,846.4 307.8,850.6 308.3,847.9 308.8,849.5 309.2,851.4 309.7,856.1 310.2,851.8 310.7,851.3 311.2,850.7 311.7,845.0 312.2,852.2 312.7,847.0 313.2,841.8 313.7,851.7 314.2,847.3 314.7,846.2 315.2,848.3 315.6,847.8 316.1,846.0 316.6,841.0 317.1,850.1 317.6,846.2 318.1,847.1 318.6,840.8 319.1,842.5 319.6,841.0 320.1,845.3 320.6,845.8 321.1,846.8 321.5,848.0 322.0,849.2 322.5,845.5 323.0,844.1 323.5,845.5 324.0,851.5 324.5,844.8 325.0,839.4 325.5,846.7 326.0,849.9 326.5,842.4 327.0,849.8 327.5,846.3 327.9,845.9 328.4,848.7 328.9,850.1 329.4,846.4 329.9,851.2 330.4,846.6 330.9,846.5 331.4,851.9 331.9,846.3 332.4,852.9 332.9,848.4 333.4,851.8 333.8,853.6 334.3,851.7 334.8,849.9 335.3,848.5 335.8,849.2 336.3,854.2 336.8,852.1 337.3,859.1 337.8,849.9 338.3,852.9 338.8,853.7 339.3,854.4 339.8,859.9 340.2,853.2 340.7,854.1 341.2,855.2 341.7,852.0 342.2,856.1 342.7,857.7 343.2,852.9 343.7,857.6 344.2,859.9 344.7,864.5 345.2,859.6 345.7,859.9 346.1,862.5 346.6,858.1 347.1,865.1 347.6,860.8 348.1,860.9 348.6,858.4 349.1,862.1 349.6,863.4 350.1,859.9 350.6,859.3 351.1,863.3 351.6,867.2 352.1,863.6 352.5,869.2 353.0,862.3 353.5,866.0 354.0,870.1 354.5,862.2 355.0,872.7 355.5,865.7 356.0,870.5 356.5,871.5 357.0,875.2 357.5,876.9 358.0,870.9 358.4,875.1 358.9,869.5 359.4,873.3 359.9,872.7 360.4,868.5 360.9,879.8 361.4,875.0 361.9,877.2 362.4,874.5 362.9,877.6 363.4,879.2 363.9,880.6 364.4,879.5 364.8,883.6 365.3,878.1 365.8,887.0 366.3,879.6 366.8,880.3 367.3,882.1 367.8,883.9 368.3,880.8 368.8,881.9 369.3,882.3 369.8,886.5 370.3,884.6 370.7,886.7 371.2,888.5 371.7,884.5 372.2,892.1 372.7,889.5 373.2,893.0 373.7,895.2 374.2,886.8 374.7,889.0 375.2,890.7 375.7,895.4 376.2,892.6 376.7,891.0 377.1,899.2 377.6,892.1 378.1,893.5 378.6,890.0 379.1,898.3 379.6,890.9 380.1,896.4 380.6,896.1 381.1,895.2 381.6,891.9 382.1,895.9 382.6,894.0 383.0,899.5 383.5,898.3 384.0,898.3 384.5,905.1 385.0,901.2 385.5,901.9 386.0,901.4 386.5,899.1 387.0,902.3 387.5,904.0 388.0,905.1 388.5,905.8 389.0,910.4 389.4,907.9 389.9,910.4 390.4,912.4 390.9,906.6 391.4,912.6 391.9,913.6 392.4,916.0 392.9,909.1 393.4,909.1 393.9,912.6 394.4,915.3 394.9,913.8 395.3,914.5 395.8,916.5 396.3,916.8 396.8,922.7 397.3,918.6 397.8,921.0 398.3,921.1 398.8,921.7 399.3,925.8 399.8,922.3 400.3,922.1 400.8,930.2 401.3,929.3 401.7,922.3 402.2,930.7 402.7,925.7 403.2,926.1 403.7,924.4 404.2,930.8 404.7,932.7 405.2,933.4 405.7,934.3 406.2,937.5 406.7,937.0 407.2,936.3 407.6,937.0 408.1,934.8 408.6,935.7 409.1,938.3 409.6,943.7 410.1,937.8 410.6,942.1 411.1,949.3 411.6,944.8 412.1,946.6 412.6,944.3 413.1,943.7 413.6,939.4 414.0,949.2 414.5,946.7 415.0,952.1 415.5,951.0 416.0,954.6 416.5,950.3 417.0,948.6 417.5,952.6 418.0,946.5 418.5,952.7 419.0,949.7 419.5,954.7 419.9,954.2 420.4,948.1 420.9,958.7 421.4,953.1 421.9,962.4 422.4,957.6 422.9,953.8 423.4,949.4 423.9,954.9 424.4,957.8 424.9,960.1 425.4,960.8 425.9,959.7 426.3,960.1 426.8,956.2 427.3,964.5 427.8,965.1 428.3,958.2 428.8,960.3 429.3,964.7 429.8,964.3 430.3,962.0 430.8,965.5 431.3,967.5 431.8,964.9 432.2,963.3 432.7,969.8 433.2,968.4 433.7,965.2 434.2,974.2 434.7,969.3 435.2,965.5 435.7,972.3 436.2,967.4 436.7,962.1 437.2,968.2 437.7,974.4 438.2,963.6 438.6,969.2 439.1,968.7 439.6,971.6 440.1,976.0 440.6,974.2 441.1,974.9 441.6,968.3 442.1,970.7 442.6,976.5 443.1,975.0 443.6,974.3 444.1,972.2 444.5,973.9 445.0,981.4 445.5,973.7 446.0,982.3 446.5,980.2 447.0,984.1 447.5,980.5 448.0,977.1 448.5,979.8 449.0,976.6 449.5,977.1 450.0,981.6 450.5,983.0 450.9,977.0 451.4,979.4 451.9,978.6 452.4,978.2 452.9,983.7 453.4,985.3 453.9,982.6 454.4,985.2 454.9,986.0 455.4,987.1 455.9,984.8 456.4,985.7 456.8,983.5 457.3,983.3 457.8,981.3 458.3,984.7 458.8,985.3 459.3,984.7 459.8,986.1 460.3,985.7 460.8,989.1 461.3,987.1 461.8,992.1 462.3,984.6 462.8,987.8 463.2,987.2 463.7,993.6 464.2,992.5 464.7,991.6 465.2,996.6 465.7,986.9 466.2,988.6 466.7,990.8 467.2,987.7 467.7,997.3 468.2,995.1 468.7,988.6 469.1,990.0 469.6,993.0 470.1,991.5 470.6,992.9 471.1,995.0 471.6,995.5 472.1,997.2 472.6,994.5 473.1,995.4 473.6,992.2 474.1,1000.4 474.6,995.7 475.1,997.2 475.5,998.4 476.0,997.4 476.5,991.9 477.0,991.3 477.5,1003.9 478.0,994.3 478.5,1002.8 479.0,1001.5 479.5,1001.2 480.0,1002.7 480.5,995.3 481.0,994.0 481.4,1004.8 481.9,997.7 482.4,998.6 482.9,1001.5 483.4,1001.6 483.9,1001.3 484.4,1001.9 484.9,1004.1 485.4,1001.9 485.9,1001.2 486.4,1001.4 486.9,1005.5 487.4,1000.2 487.8,1006.7 488.3,1004.9 488.8,1006.7 489.3,1009.1"/>
<polyline fill="none" stroke="#ff0000" stroke-width="1.6" stroke-linejoin="round"  points="76.0,1009.1 76.5,1005.1 77.0,1008.5 77.5,1010.0 78.0,1013.4 78.5,1006.3 79.0,1007.1 79.5,1005.9 80.0,1011.4 80.5,1012.9 81.0,1005.9 81.5,1009.8 81.9,1016.3 82.4,1007.9 82.9,1013.4 83.4,1005.7 83.9,1006.5 84.4,1015.3 84.9,1008.7 85.4,1009.6 85.9,1007.8 86.4,1013.0 86.9,1013.6 87.4,1006.9 87.8,1015.2 88.3,1009.7 88.8,1008.2 89.3,1007.3 89.8,1008.4 90.3,1002.9 90.8,1005.8 91.3,1009.7 91.8,1009.6 92.3,1011.3 92.8,1008.6 93.3,1003.0 93.8,1007.1 94.2,1009.3 94.7,1012.5 95.2,1015.5 95.7,1009.2 96.2,1011.2 96.7,1007.8 97.2,1012.1 97.7,1006.7 98.2,1009.5 98.7,1010.6 99.2,1007.8 99.7,1010.1 100.1,1008.8 100.6,1010.8 101.1,1007.2 101.6,1013.5 102.1,1008.8 102.6,1006.9 103.1,1005.9 103.6,1006.8 104.1,1004.6 104.6,1007.6 105.1,1001.8 105.6,1009.8 106.1,1014.1 106.5,1014.6 107.0,1013.7 107.5,1008.2 108.0,1013.1 108.5,1012.4 109.0,1006.0 109.5,1013.2 110.0,1007.8 110.5,1005.4 111.0,1004.4 111.5,1007.2 112.0,1011.9 112.4,1010.7 112.9,1003.5 113.4,1003.0 113.9,1008.9 114.4,1005.0 114.9,1005.3 115.4,1008.5 115.9,1004.4 116.4,1010.1 116.9,1005.7 117.4,1005.6 117.9,1007.7 118.4,1008.9 118.8,1002.6 119.3,1009.5 119.8,1009.7 120.3,1011.2 120.8,1007.7 121.3,1007.5 121.8,1009.3 122.3,1003.5 122.8,1006.4 123.3,1005.0 123.8,1010.8 124.3,1007.6 124.7,1001.9 125.2,1003.4 125.7,1005.1 126.2,1003.0 126.7,1004.1 127.2,1005.3 127.7,1005.0 128.2,1004.7 128.7,1007.2 129.2,1000.7 129.7,999.4 130.2,1005.3 130.7,1005.8 131.1,999.1 131.6,1004.2 132.1,1003.7 132.6,1004.0 133.1,1005.0 133.6,1006.2 134.1,1002.7 134.6,1009.4 135.1,1001.7 135.6,1000.3 136.1,1005.4 136.6,1005.7 137.0,998.6 137.5,1004.9 138.0,1005.9 138.5,1001.3 139.0,1007.3 139.5,1010.2 140.0,1003.8 140.5,1005.3 141.0,1006.0 141.5,1005.7 142.0,1005.3 142.5,1004.2 143.0,1010.1 143.4,1000.7 143.9,1004.0 144.4,1004.0 144.9,1003.8 145.4,1000.2 145.9,1001.7 146.4,996.0 146.9,1009.0 147.4,999.8 147.9,999.3 148.4,1009.1 148.9,1000.4 149.3,1002.4 149.8,1002.4 150.3,1001.9 150.8,1000.6 151.3,1002.9 151.8,1003.8 152.3,998.5 152.8,1001.4 153.3,998.8 153.8,994.6 154.3,1005.3 154.8,1003.8 155.3,1003.2 155.7,1001.2 156.2,995.6 156.7,999.3 157.2,997.2 157.7,994.6 158.2,1006.6 158.7,1001.4 159.2,1002.3 159.7,998.8 160.2,1003.2 160.7,994.8 161.2,1001.3 161.6,1002.1 162.1,1002.8 162.6,1003.5 163.1,999.5 163.6,1001.1 164.1,998.1 164.6,1000.5 165.1,997.4 165.6,998.0 166.1,995.1 166.6,996.1 167.1,999.9 167.6,994.2 168.0,999.7 168.5,1000.6 169.0,994.9 169.5,1001.4 170.0,999.5 170.5,1002.0 171.0,1001.7 171.5,995.9 172.0,999.6 172.5,991.1 173.0,991.7 173.5,995.0 173.9,998.0 174.4,995.8 174.9,996.3 175.4,991.7 175.9,1001.2 176.4,995.4 176.9,994.4 177.4,993.2 177.9,992.0 178.4,995.3 178.9,991.8 179.4,997.4 179.9,989.8 180.3,991.9 180.8,993.3 181.3,989.1 181.8,994.8 182.3,997.7 182.8,990.3 183.3,991.4 183.8,992.6 184.3,993.4 184.8,989.4 185.3,987.8 185.8,993.4 186.2,994.7 186.7,987.6 187.2,993.1 187.7,985.0 188.2,984.2 188.7,990.5 189.2,981.0 189.7,988.8 190.2,987.9 190.7,987.7 191.2,985.5 191.7,983.9 192.2,985.2 192.6,988.3 193.1,986.7 193.6,990.5 194.1,988.4 194.6,984.0 195.1,984.2 195.6,985.8 196.1,982.7 196.6,985.6 197.1,982.9 197.6,982.1 198.1,978.5 198.5,978.0 199.0,984.5 199.5,982.0 200.0,986.2 200.5,972.9 201.0,986.6 201.5,979.1 202.0,983.8 202.5,977.8 203.0,976.7 203.5,974.9 204.0,978.7 204.5,973.6 204.9,978.0 205.4,978.4 205.9,977.4 206.4,976.8 206.9,967.6 207.4,969.9 207.9,970.3 208.4,979.2 208.9,971.9 209.4,968.8 209.9,976.8 210.4,966.5 210.8,973.3 211.3,969.0 211.8,967.4 212.3,968.2 212.8,967.3 213.3,964.9 213.8,961.8 214.3,959.9 214.8,959.8 215.3,963.7 215.8,971.0 216.3,967.2 216.8,964.2 217.2,959.5 217.7,956.8 218.2,962.0 218.7,962.5 219.2,959.1 219.7,958.0 220.2,955.6 220.7,954.7 221.2,957.8 221.7,964.8 222.2,957.4 222.7,963.7 223.1,955.3 223.6,945.7 224.1,948.8 224.6,951.6 225.1,943.9 225.6,956.0 226.1,949.8 226.6,948.7 227.1,953.0 227.6,952.0 228.1,946.5 228.6,947.7 229.1,950.4 229.5,948.1 230.0,944.4 230.5,947.3 231.0,948.9 231.5,943.9 232.0,945.4 232.5,943.9 233.0,948.5 233.5,943.5 234.0,944.3 234.5,948.0 235.0,935.5 235.4,940.6 235.9,939.6 236.4,936.6 236.9,933.9 237.4,936.4 237.9,940.1 238.4,937.2 238.9,938.7 239.4,937.2 239.9,935.1 240.4,932.5 240.9,937.6 241.4,932.4 241.8,932.8 242.3,935.8 242.8,927.0 243.3,932.3 243.8,928.3 244.3,931.0 244.8,929.3 245.3,927.4 245.8,928.9 246.3,928.4 246.8,924.6 247.3,924.4 247.7,921.0 248.2,925.2 248.7,930.1 249.2,928.6 249.7,922.8 250.2,926.3 250.7,926.8 251.2,919.4 251.7,926.1 252.2,925.5 252.7,920.1 253.2,916.7 253.7,917.1 254.1,921.7 254.6,916.0 255.1,920.1 255.6,915.9 256.1,922.0 256.6,918.8 257.1,913.6 257.6,914.4 258.1,912.2 258.6,918.6 259.1,908.1 259.6,908.8 260.0,904.7 260.5,911.3 261.0,906.6 261.5,906.8 262.0,908.4 262.5,905.7 263.0,906.2 263.5,904.0 264.0,905.8 264.5,904.4 265.0,906.2 265.5,904.7 266.0,902.4 266.4,901.5 266.9,900.8 267.4,898.9 267.9,903.0 268.4,902.6 268.9,904.7 269.4,895.9 269.9,893.6 270.4,897.6 270.9,896.4 271.4,899.9 271.9,896.9 272.3,892.8 272.8,895.5 273.3,900.1 273.8,894.8 274.3,895.2 274.8,892.3 275.3,889.7 275.8,893.9 276.3,892.2 276.8,890.5 277.3,895.5 277.8,893.2 278.3,897.0 278.7,891.2 279.2,889.5 279.7,890.2 280.2,889.6 280.7,892.8 281.2,892.7 281.7,886.2 282.2,887.7 282.7,890.4 283.2,887.3 283.7,890.9 284.2,891.3 284.6,887.0 285.1,888.0 285.6,886.5 286.1,880.8 286.6,885.5 287.1,885.9 287.6,880.1 288.1,888.1 288.6,885.9 289.1,886.7 289.6,885.2 290.1,878.4 290.6,890.2 291.0,880.4 291.5,887.9 292.0,888.5 292.5,884.0 293.0,883.7 293.5,884.1 294.0,886.4 294.5,881.0 295.0,886.7 295.5,880.9 296.0,876.4 296.5,886.5 296.9,881.8 297.4,882.2 297.9,887.1 298.4,882.5 298.9,879.6 299.4,879.7 299.9,880.4 300.4,884.1 300.9,882.7 301.4,885.0 301.9,878.8 302.4,884.5 302.9,885.5 303.3,884.0 303.8,877.2 304.3,887.0 304.8,879.6 305.3,879.9 305.8,883.8 306.3,881.5 306.8,886.6 307.3,881.0 307.8,880.8 308.3,884.4 308.8,881.6 309.2,882.0 309.7,880.4 310.2,880.0 310.7,878.9 311.2,882.4 311.7,880.4 312.2,879.5 312.7,877.2 313.2,881.9 313.7,883.6 314.2,884.2 314.7,882.6 315.2,887.5 315.6,885.6 316.1,880.5 316.6,876.6 317.1,878.6 317.6,884.6 318.1,879.2 318.6,881.9 319.1,884.5 319.6,879.2 320.1,880.5 320.6,880.6 321.1,881.7 321.5,880.6 322.0,884.5 322.5,884.7 323.0,885.7 323.5,881.4 324.0,882.7 324.5,881.4 325.0,885.4 325.5,885.4 326.0,884.8 326.5,884.9 327.0,885.8 327.5,881.1 327.9,885.0 328.4,892.6 328.9,887.9 329.4,885.6 329.9,886.2 330.4,886.8 330.9,888.0 331.4,883.2 331.9,890.4 332.4,886.2 332.9,886.1 333.4,886.4 333.8,883.7 334.3,892.6 334.8,892.4 335.3,889.8 335.8,889.8 336.3,890.2 336.8,894.3 337.3,893.9 337.8,888.7 338.3,891.8 338.8,892.3 339.3,892.3 339.8,890.0 340.2,896.1 340.7,895.4 341.2,901.4 341.7,898.5 342.2,897.3 342.7,897.1 343.2,901.7 343.7,904.2 344.2,903.4 344.7,907.6 345.2,905.3 345.7,903.3 346.1,902.2 346.6,900.0 347.1,904.2 347.6,907.4 348.1,905.3 348.6,907.5 349.1,904.1 349.6,904.6 350.1,912.8 350.6,909.5 351.1,903.6 351.6,906.5 352.1,911.0 352.5,917.3 353.0,909.7 353.5,911.1 354.0,913.1 354.5,911.0 355.0,913.1 355.5,912.8 356.0,915.6 356.5,916.0 357.0,915.0 357.5,917.5 358.0,920.4 358.4,921.1 358.9,917.6 359.4,921.1 359.9,921.8 360.4,921.8 360.9,918.7 361.4,926.8 361.9,927.7 362.4,921.7 362.9,923.3 363.4,919.3 363.9,924.7 364.4,928.3 364.8,924.2 365.3,924.6 365.8,925.1 366.3,925.6 366.8,921.5 367.3,928.5 367.8,927.1 368.3,928.8 368.8,933.7 369.3,932.9 369.8,932.7 370.3,931.7 370.7,934.6 371.2,928.4 371.7,932.8 372.2,935.6 372.7,935.6 373.2,934.1 373.7,936.4 374.2,938.1 374.7,939.1 375.2,936.6 375.7,932.7 376.2,943.3 376.7,939.3 377.1,938.9 377.6,942.9 378.1,931.2 378.6,940.1 379.1,948.3 379.6,941.0 380.1,947.4 380.6,940.0 381.1,943.8 381.6,939.7 382.1,948.9 382.6,944.1 383.0,939.8 383.5,947.9 384.0,951.5 384.5,949.5 385.0,947.8 385.5,950.7 386.0,948.1 386.5,946.0 387.0,954.3 387.5,957.7 388.0,955.7 388.5,959.0 389.0,956.3 389.4,954.9 389.9,961.1 390.4,955.0 390.9,956.0 391.4,962.4 391.9,958.6 392.4,963.8 392.9,955.9 393.4,959.9 393.9,957.6 394.4,954.7 394.9,958.1 395.3,961.2 395.8,960.6 396.3,964.0 396.8,963.0 397.3,956.9 397.8,966.1 398.3,964.9 398.8,964.1 399.3,964.2 399.8,963.3 400.3,970.7 400.8,968.9 401.3,967.9 401.7,967.0 402.2,966.2 402.7,967.4 403.2,969.1 403.7,973.1 404.2,974.4 404.7,974.9 405.2,968.2 405.7,966.0 406.2,974.9 406.7,977.3 407.2,974.0 407.6,972.4 408.1,975.5 408.6,974.7 409.1,972.0 409.6,973.4 410.1,976.7 410.6,979.9 411.1,976.3 411.6,972.4 412.1,982.4 412.6,971.6 413.1,976.7 413.6,972.4 414.0,980.3 414.5,981.1 415.0,983.4 415.5,978.3 416.0,979.1 416.5,980.6 417.0,980.0 417.5,979.2 418.0,983.8 418.5,978.3 419.0,987.2 419.5,983.8 419.9,981.5 420.4,983.9 420.9,982.9 421.4,989.1 421.9,985.3 422.4,984.8 422.9,989.8 423.4,983.6 423.9,990.0 424.4,989.0 424.9,991.0 425.4,986.5 425.9,990.1 426.3,986.0 426.8,985.6 427.3,989.8 427.8,987.3 428.3,983.7 428.8,995.3 429.3,995.8 429.8,984.9 430.3,993.9 430.8,983.5 431.3,988.9 431.8,998.6 432.2,989.6 432.7,993.2 433.2,992.8 433.7,990.8 434.2,995.8 434.7,995.3 435.2,994.2 435.7,1000.4 436.2,996.2 436.7,994.9 437.2,995.9 437.7,996.0 438.2,996.8 438.6,1003.2 439.1,1000.2 439.6,1003.9 440.1,997.1 440.6,995.5 441.1,998.3 441.6,1005.4 442.1,1000.6 442.6,997.3 443.1,998.6 443.6,998.0 444.1,998.1 444.5,1004.2 445.0,1000.4 445.5,1000.5 446.0,1004.7 446.5,1003.6 447.0,1002.4 447.5,996.2 448.0,998.9 448.5,1001.9 449.0,1001.5 449.5,1006.0 450.0,1000.5 450.5,997.0 450.9,1001.0 451.4,998.4 451.9,996.7 452.4,1002.8 452.9,1007.5 453.4,1004.2 453.9,1005.2 454.4,998.4 454.9,1006.1 455.4,1006.6 455.9,1003.6 456.4,1009.1 456.8,1008.2 457.3,1008.0 457.8,1008.3 458.3,1006.9 458.8,1007.8 459.3,1014.7 459.8,1005.5 460.3,1010.3 460.8,1007.2 461.3,1009.2 461.8,1007.9 462.3,1006.1 462.8,1010.7 463.2,1011.7 463.7,1009.6 464.2,1011.2 464.7,1006.0 465.2,1012.1 465.7,1013.4 466.2,1006.3 466.7,1014.2 467.2,1010.2 467.7,1014.4 468.2,1011.0 468.7,1008.6 469.1,1009.4 469.6,1014.7 470.1,1012.2 470.6,1010.6 471.1,1013.8 471.6,1009.0 472.1,1010.0 472.6,1009.7 473.1,1014.6 473.6,1013.6 474.1,1018.2 474.6,1017.3 475.1,1013.2 475.5,1016.9 476.0,1014.7 476.5,1017.9 477.0,1016.8 477.5,1018.3 478.0,1014.0 478.5,1016.9 479.0,1014.5 479.5,1013.2 480.0,1015.8 480.5,1014.8 481.0,1008.5 481.4,1013.3 481.9,1010.3 482.4,1010.6 482.9,1012.3 483.4,1013.3 483.9,1019.4 484.4,1013.4 484.9,1017.6 485.4,1018.6 485.9,1015.0 486.4,1011.6 486.9,1013.1 487.4,1012.8 487.8,1012.6 488.3,1012.6 488.8,1017.8 489.3,1017.9"/>
<polyline fill="none" stroke="#0000ff" stroke-width="1.6" stroke-linejoin="round"  points="76.0,1015.5 76.5,1022.3 77.0,1019.8 77.5,1027.2 78.0,1023.2 78.5,1021.6 79.0,1023.4 79.5,1023.6 80.0,1023.0 80.5,1024.1 81.0,1023.0 81.5,1021.3 81.9,1020.5 82.4,1024.5 82.9,1022.1 83.4,1023.7 83.9,1019.1 84.4,1016.9 84.9,1021.1 85.4,1020.5 85.9,1022.3 86.4,1020.3 86.9,1022.2 87.4,1025.0 87.8,1018.3 88.3,1015.8 88.8,1019.9 89.3,1021.7 89.8,1020.4 90.3,1017.1 90.8,1022.9 91.3,1019.7 91.8,1021.2 92.3,1027.6 92.8,1022.7 93.3,1020.2 93.8,1020.7 94.2,1022.0 94.7,1025.1 95.2,1021.0 95.7,1021.3 96.2,1020.3 96.7,1016.9 97.2,1021.6 97.7,1018.8 98.2,1020.4 98.7,1016.0 99.2,1020.4 99.7,1016.0 100.1,1024.5 100.6,1025.1 101.1,1020.5 101.6,1022.2 102.1,1018.3 102.6,1019.6 103.1,1019.6 103.6,1023.9 104.1,1021.9 104.6,1019.5 105.1,1023.4 105.6,1021.8 106.1,1018.5 106.5,1021.9 107.0,1021.2 107.5,1018.5 108.0,1020.6 108.5,1025.8 109.0,1021.5 109.5,1021.8 110.0,1020.9 110.5,1016.2 111.0,1018.8 111.5,1021.5 112.0,1023.7 112.4,1019.6 112.9,1021.4 113.4,1018.4 113.9,1021.0 114.4,1019.2 114.9,1024.1 115.4,1022.4 115.9,1021.8 116.4,1024.2 116.9,1020.9 117.4,1023.0 117.9,1023.0 118.4,1023.9 118.8,1022.3 119.3,1026.4 119.8,1019.6 120.3,1020.9 120.8,1020.5 121.3,1018.7 121.8,1021.3 122.3,1022.9 122.8,1018.5 123.3,1023.2 123.8,1021.7 124.3,1028.0 124.7,1023.6 125.2,1022.3 125.7,1020.5 126.2,1020.8 126.7,1019.7 127.2,1023.8 127.7,1023.8 128.2,1021.8 128.7,1024.5 129.2,1023.5 129.7,1022.3 130.2,1027.8 130.7,1026.8 131.1,1021.5 131.6,1024.6 132.1,1020.7 132.6,1024.0 133.1,1025.6 133.6,1021.2 134.1,1023.6 134.6,1022.0 135.1,1024.8 135.6,1025.2 136.1,1024.0 136.6,1025.3 137.0,1023.7 137.5,1026.0 138.0,1022.4 138.5,1021.3 139.0,1022.1 139.5,1026.8 140.0,1020.2 140.5,1028.1 141.0,1022.9 141.5,1023.2 142.0,1021.5 142.5,1025.3 143.0,1024.9 143.4,1020.5 143.9,1020.6 144.4,1026.3 144.9,1024.4 145.4,1025.8 145.9,1029.6 146.4,1020.7 146.9,1025.5 147.4,1023.6 147.9,1023.1 148.4,1027.2 148.9,1021.4 149.3,1025.6 149.8,1027.7 150.3,1023.0 150.8,1023.5 151.3,1025.3 151.8,1024.1 152.3,1019.5 152.8,1022.1 153.3,1023.9 153.8,1024.9 154.3,1019.1 154.8,1025.2 155.3,1029.2 155.7,1020.8 156.2,1025.4 156.7,1029.8 157.2,1027.8 157.7,1027.7 158.2,1029.9 158.7,1026.1 159.2,1025.7 159.7,1019.8 160.2,1024.4 160.7,1025.7 161.2,1024.6 161.6,1023.6 162.1,1021.5 162.6,1020.7 163.1,1029.4 163.6,1028.1 164.1,1024.2 164.6,1019.1 165.1,1025.5 165.6,1021.3 166.1,1025.6 166.6,1025.6 167.1,1024.8 167.6,1020.5 168.0,1025.4 168.5,1023.9 169.0,1023.2 169.5,1021.7 170.0,1023.9 170.5,1021.7 171.0,1019.6 171.5,1021.9 172.0,1025.0 172.5,1024.4 173.0,1023.3 173.5,1024.7 173.9,1027.0 174.4,1026.4 174.9,1025.4 175.4,1029.2 175.9,1018.1 176.4,1021.6 176.9,1025.4 177.4,1025.8 177.9,1020.6 178.4,1027.6 178.9,1026.5 179.4,1021.0 179.9,1023.9 180.3,1021.6 180.8,1023.4 181.3,1023.6 181.8,1025.3 182.3,1022.3 182.8,1022.9 183.3,1022.8 183.8,1024.5 184.3,1020.1 184.8,1023.0 185.3,1021.5 185.8,1026.2 186.2,1027.4 186.7,1020.9 187.2,1024.5 187.7,1024.9 188.2,1021.5 188.7,1018.8 189.2,1023.0 189.7,1023.0 190.2,1020.9 190.7,1020.4 191.2,1021.6 191.7,1026.6 192.2,1019.4 192.6,1023.5 193.1,1015.6 193.6,1023.0 194.1,1020.4 194.6,1021.0 195.1,1020.1 195.6,1014.6 196.1,1021.0 196.6,1017.3 197.1,1019.9 197.6,1020.7 198.1,1017.4 198.5,1018.3 199.0,1019.5 199.5,1021.4 200.0,1017.3 200.5,1012.2 201.0,1018.3 201.5,1015.8 202.0,1019.0 202.5,1011.0 203.0,1020.8 203.5,1018.1 204.0,1021.5 204.5,1013.9 204.9,1015.2 205.4,1014.1 205.9,1015.1 206.4,1010.3 206.9,1010.6 207.4,1010.9 207.9,1020.4 208.4,1016.4 208.9,1013.2 209.4,1010.8 209.9,1019.5 210.4,1008.3 210.8,1011.7 211.3,1007.9 211.8,1015.7 212.3,1014.3 212.8,1015.0 213.3,1013.5 213.8,1013.8 214.3,1016.4 214.8,1007.4 215.3,1009.4 215.8,1013.2 216.3,1016.7 216.8,1007.0 217.2,1016.8 217.7,1013.3 218.2,1013.6 218.7,1011.9 219.2,1008.2 219.7,1006.8 220.2,1008.2 220.7,1012.4 221.2,1004.9 221.7,1005.0 222.2,1006.0 222.7,1001.7 223.1,1011.1 223.6,1010.0 224.1,1009.9 224.6,1009.2 225.1,1005.1 225.6,1006.2 226.1,1007.9 226.6,1002.9 227.1,1006.4 227.6,1007.6 228.1,1007.6 228.6,1009.4 229.1,1006.0 229.5,1007.7 230.0,1005.1 230.5,1003.4 231.0,1002.9 231.5,1005.4 232.0,998.0 232.5,1007.1 233.0,1001.1 233.5,1003.0 234.0,1001.9 234.5,1004.7 235.0,1004.7 235.4,1000.1 235.9,1007.2 236.4,1001.1 236.9,1005.8 237.4,1006.7 237.9,1000.5 238.4,1002.3 238.9,994.2 239.4,1005.5 239.9,999.2 240.4,999.0 240.9,998.5 241.4,1000.2 241.8,1003.5 242.3,995.8 242.8,995.4 243.3,996.2 243.8,996.3 244.3,993.0 244.8,993.3 245.3,993.9 245.8,997.8 246.3,992.3 246.8,998.0 247.3,993.6 247.7,997.8 248.2,994.8 248.7,991.5 249.2,994.7 249.7,990.4 250.2,994.8 250.7,987.6 251.2,993.3 251.7,985.4 252.2,990.0 252.7,992.3 253.2,995.7 253.7,993.2 254.1,985.3 254.6,995.7 255.1,996.6 255.6,990.3 256.1,987.0 256.6,992.3 257.1,993.8 257.6,991.5 258.1,991.4 258.6,986.9 259.1,984.3 259.6,990.9 260.0,993.0 260.5,994.1 261.0,995.8 261.5,990.2 262.0,995.0 262.5,987.4 263.0,990.4 263.5,991.9 264.0,984.7 264.5,995.1 265.0,986.3 265.5,988.8 266.0,988.2 266.4,989.0 266.9,992.6 267.4,986.6 267.9,984.6 268.4,995.1 268.9,987.9 269.4,988.5 269.9,989.0 270.4,986.4 270.9,988.3 271.4,988.9 271.9,983.3 272.3,990.4 272.8,988.4 273.3,988.3 273.8,989.4 274.3,988.3 274.8,981.7 275.3,989.1 275.8,978.7 276.3,991.3 276.8,993.1 277.3,988.1 277.8,989.9 278.3,981.2 278.7,983.8 279.2,988.8 279.7,985.8 280.2,986.1 280.7,977.4 281.2,984.3 281.7,983.8 282.2,982.8 282.7,983.8 283.2,984.5 283.7,987.4 284.2,984.1 284.6,983.6 285.1,988.8 285.6,983.9 286.1,988.4 286.6,989.7 287.1,984.2 287.6,982.1 288.1,980.6 288.6,985.7 289.1,988.7 289.6,986.7 290.1,984.5 290.6,984.0 291.0,981.9 291.5,984.1 292.0,979.8 292.5,985.6 293.0,981.8 293.5,981.1 294.0,982.0 294.5,981.5 295.0,987.0 295.5,980.2 296.0,985.0 296.5,983.9 296.9,986.7 297.4,982.0 297.9,984.8 298.4,985.7 298.9,981.0 299.4,986.1 299.9,982.3 300.4,982.9 300.9,981.8 301.4,983.5 301.9,987.9 302.4,983.4 302.9,982.7 303.3,977.7 303.8,977.8 304.3,981.3 304.8,981.0 305.3,991.9 305.8,986.4 306.3,988.4 306.8,982.8 307.3,983.1 307.8,983.2 308.3,983.2 308.8,984.1 309.2,985.8 309.7,987.5 310.2,983.2 310.7,985.7 311.2,982.3 311.7,987.5 312.2,987.0 312.7,988.9 313.2,984.1 313.7,989.3 314.2,993.9 314.7,989.5 315.2,989.2 315.6,987.1 316.1,988.4 316.6,983.1 317.1,986.4 317.6,984.4 318.1,983.1 318.6,984.4 319.1,985.0 319.6,989.8 320.1,986.9 320.6,988.9 321.1,986.1 321.5,990.8 322.0,986.8 322.5,990.9 323.0,986.9 323.5,985.5 324.0,985.6 324.5,991.3 325.0,985.7 325.5,996.0 326.0,989.9 326.5,995.3 327.0,990.7 327.5,994.9 327.9,991.3 328.4,993.7 328.9,987.4 329.4,984.7 329.9,989.1 330.4,988.8 330.9,990.8 331.4,992.9 331.9,993.5 332.4,996.8 332.9,995.8 333.4,990.8 333.8,995.0 334.3,992.6 334.8,997.0 335.3,987.3 335.8,990.1 336.3,995.1 336.8,989.0 337.3,993.6 337.8,991.9 338.3,996.2 338.8,997.4 339.3,991.6 339.8,994.0 340.2,994.0 340.7,993.7 341.2,996.7 341.7,998.8 342.2,996.4 342.7,1003.5 343.2,997.9 343.7,994.9 344.2,999.4 344.7,993.1 345.2,1000.3 345.7,1002.8 346.1,998.0 346.6,1000.6 347.1,998.5 347.6,1002.7 348.1,999.2 348.6,1000.9 349.1,1000.8 349.6,998.9 350.1,1004.5 350.6,1002.9 351.1,999.3 351.6,999.2 352.1,1001.1 352.5,1007.0 353.0,1003.2 353.5,1005.4 354.0,1005.4 354.5,1009.4 355.0,1011.4 355.5,1002.3 356.0,1003.2 356.5,1010.3 357.0,1007.2 357.5,1006.3 358.0,1008.5 358.4,1005.5 358.9,1008.4 359.4,1011.7 359.9,1009.0 360.4,1006.7 360.9,1011.0 361.4,1006.3 361.9,1005.7 362.4,1007.3 362.9,1007.7 363.4,1009.9 363.9,1008.3 364.4,1012.3 364.8,1016.9 365.3,1012.7 365.8,1006.7 366.3,1008.2 366.8,1014.5 367.3,1012.4 367.8,1014.1 368.3,1015.7 368.8,1013.4 369.3,1010.5 369.8,1012.8 370.3,1014.0 370.7,1019.7 371.2,1007.5 371.7,1017.3 372.2,1014.2 372.7,1012.2 373.2,1014.3 373.7,1012.7 374.2,1021.5 374.7,1018.0 375.2,1017.7 375.7,1019.8 376.2,1020.7 376.7,1014.1 377.1,1020.4 377.6,1014.0 378.1,1014.8 378.6,1018.5 379.1,1021.6 379.6,1019.6 380.1,1020.2 380.6,1020.3 381.1,1020.9 381.6,1018.8 382.1,1020.0 382.6,1019.6 383.0,1019.7 383.5,1016.5 384.0,1014.6 384.5,1020.3 385.0,1020.8 385.5,1021.2 386.0,1018.4 386.5,1019.4 387.0,1021.2 387.5,1022.1 388.0,1020.4 388.5,1019.3 389.0,1023.5 389.4,1021.4 389.9,1027.6 390.4,1024.8 390.9,1021.9 391.4,1027.6 391.9,1027.7 392.4,1023.2 392.9,1029.3 393.4,1025.1 393.9,1019.0 394.4,1023.8 394.9,1020.3 395.3,1021.0 395.8,1027.3 396.3,1026.1 396.8,1024.8 397.3,1023.1 397.8,1022.4 398.3,1024.4 398.8,1025.7 399.3,1029.5 399.8,1024.3 400.3,1028.7 400.8,1024.9 401.3,1024.2 401.7,1031.6 402.2,1022.8 402.7,1028.7 403.2,1025.7 403.7,1026.2 404.2,1024.1 404.7,1026.0 405.2,1025.0 405.7,1027.3 406.2,1031.6 406.7,1030.3 407.2,1028.2 407.6,1027.8 408.1,1030.0 408.6,1032.4 409.1,1033.9 409.6,1030.7 410.1,1025.6 410.6,1031.6 411.1,1032.7 411.6,1030.2 412.1,1030.0 412.6,1031.7 413.1,1037.2 413.6,1034.1 414.0,1034.1 414.5,1031.2 415.0,1034.5 415.5,1033.7 416.0,1036.0 416.5,1034.8 417.0,1028.2 417.5,1031.7 418.0,1032.9 418.5,1036.2 419.0,1037.2 419.5,1031.9 419.9,1034.6 420.4,1033.3 420.9,1034.2 421.4,1034.8 421.9,1040.6 422.4,1033.2 422.9,1031.3 423.4,1035.5 423.9,1036.3 424.4,1035.5 424.9,1036.8 425.4,1040.7 425.9,1037.3 426.3,1036.6 426.8,1034.2 427.3,1039.3 427.8,1037.8 428.3,1037.2 428.8,1036.3 429.3,1032.9 429.8,1036.1 430.3,1036.2 430.8,1040.8 431.3,1034.3 431.8,1042.3 432.2,1035.2 432.7,1036.5 433.2,1038.4 433.7,1041.2 434.2,1037.7 434.7,1040.2 435.2,1036.1 435.7,1044.5 436.2,1039.3 436.7,1044.8 437.2,1039.6 437.7,1040.6 438.2,1038.1 438.6,1042.8 439.1,1042.6 439.6,1045.4 440.1,1041.6 440.6,1040.3 441.1,1041.4 441.6,1043.2 442.1,1041.6 442.6,1039.9 443.1,1040.6 443.6,1045.9 444.1,1042.7 444.5,1043.7 445.0,1046.8 445.5,1040.5 446.0,1041.2 446.5,1044.3 447.0,1040.8 447.5,1041.3 448.0,1042.5 448.5,1039.9 449.0,1039.9 449.5,1039.6 450.0,1035.2 450.5,1041.9 450.9,1035.8 451.4,1041.0 451.9,1043.6 452.4,1042.4 452.9,1045.9 453.4,1045.0 453.9,1040.0 454.4,1043.6 454.9,1045.2 455.4,1045.4 455.9,1043.2 456.4,1043.4 456.8,1046.3 457.3,1043.2 457.8,1046.0 458.3,1046.2 458.8,1044.7 459.3,1048.1 459.8,1050.0 460.3,1047.1 460.8,1045.1 461.3,1047.8 461.8,1045.4 462.3,1044.8 462.8,1048.3 463.2,1047.7 463.7,1048.1 464.2,1046.6 464.7,1047.1 465.2,1047.8 465.7,1045.5 466.2,1047.6 466.7,1048.0 467.2,1050.2 467.7,1048.6 468.2,1046.1 468.7,1047.5 469.1,1048.8 469.6,1049.4 470.1,1051.2 470.6,1050.8 471.1,1047.2 471.6,1049.4 472.1,1049.3 472.6,1046.9 473.1,1050.4 473.6,1050.6 474.1,1046.7 474.6,1048.3 475.1,1052.9 475.5,1049.7 476.0,1051.2 476.5,1050.7 477.0,1050.1 477.5,1053.0 478.0,1051.1 478.5,1045.9 479.0,1050.0 479.5,1050.6 480.0,1047.6 480.5,1052.4 481.0,1050.0 481.4,1046.9 481.9,1049.5 482.4,1048.8 482.9,1049.9 483.4,1048.7 483.9,1047.9 484.4,1049.7 484.9,1049.1 485.4,1048.7 485.9,1053.1 486.4,1047.2 486.9,1045.3 487.4,1047.3 487.8,1048.4 488.3,1049.6 488.8,1048.0 489.3,1044.6"/>
<polyline fill="none" stroke="#ff00ff" stroke-width="1.6" stroke-linejoin="round"  points="76.0,997.9 76.5,1004.0 77.0,1003.8 77.5,998.0 78.0,998.3 78.5,1001.4 79.0,999.9 79.5,1001.2 80.0,1000.1 80.5,996.8 81.0,997.3 81.5,992.9 81.9,995.1 82.4,998.4 82.9,1000.2 83.4,996.5 83.9,998.6 84.4,998.7 84.9,997.2 85.4,999.5 85.9,1001.4 86.4,997.8 86.9,1000.5 87.4,1001.5 87.8,997.6 88.3,1002.4 88.8,1003.5 89.3,993.5 89.8,997.1 90.3,1000.3 90.8,998.6 91.3,999.3 91.8,1001.5 92.3,1001.5 92.8,1003.0 93.3,997.9 93.8,995.3 94.2,994.8 94.7,998.7 95.2,994.7 95.7,998.6 96.2,995.7 96.7,994.6 97.2,1000.3 97.7,998.4 98.2,999.5 98.7,1000.9 99.2,998.4 99.7,995.3 100.1,994.5 100.6,1000.4 101.1,998.8 101.6,993.0 102.1,1000.4 102.6,999.0 103.1,992.5 103.6,999.3 104.1,996.2 104.6,998.8 105.1,1003.3 105.6,996.7 106.1,1003.9 106.5,1003.1 107.0,994.5 107.5,996.3 108.0,998.8 108.5,995.5 109.0,994.6 109.5,997.1 110.0,1002.2 110.5,1001.6 111.0,994.9 111.5,998.4 112.0,994.4 112.4,1001.0 112.9,996.1 113.4,1003.6 113.9,995.7 114.4,996.6 114.9,994.1 115.4,1003.5 115.9,1001.3 116.4,999.5 116.9,995.7 117.4,991.9 117.9,993.1 118.4,1000.9 118.8,998.0 119.3,991.9 119.8,993.9 120.3,1000.1 120.8,993.8 121.3,993.6 121.8,992.7 122.3,995.0 122.8,993.8 123.3,991.7 123.8,993.6 124.3,991.1 124.7,991.6 125.2,991.8 125.7,995.0 126.2,991.5 126.7,990.6 127.2,995.2 127.7,996.1 128.2,991.7 128.7,990.9 129.2,995.3 129.7,991.5 130.2,986.0 130.7,998.9 131.1,991.1 131.6,991.5 132.1,992.0 132.6,992.4 133.1,990.7 133.6,992.4 134.1,993.5 134.6,989.5 135.1,985.6 135.6,992.3 136.1,989.4 136.6,987.9 137.0,995.2 137.5,992.9 138.0,994.1 138.5,992.3 139.0,988.2 139.5,993.8 140.0,987.2 140.5,984.7 141.0,993.8 141.5,990.6 142.0,988.7 142.5,994.8 143.0,997.5 143.4,990.9 143.9,993.9 144.4,990.8 144.9,993.3 145.4,992.4 145.9,992.7 146.4,990.3 146.9,987.6 147.4,990.0 147.9,988.9 148.4,994.1 148.9,985.0 149.3,986.4 149.8,984.7 150.3,989.9 150.8,992.1 151.3,988.0 151.8,993.1 152.3,989.6 152.8,990.1 153.3,989.9 153.8,994.2 154.3,986.3 154.8,993.4 155.3,988.5 155.7,989.3 156.2,994.9 156.7,986.2 157.2,988.3 157.7,982.3 158.2,982.2 158.7,990.6 159.2,994.6 159.7,987.7 160.2,984.5 160.7,987.9 161.2,981.3 161.6,986.6 162.1,989.2 162.6,987.4 163.1,985.8 163.6,982.7 164.1,987.9 164.6,985.7 165.1,983.4 165.6,986.6 166.1,984.9 166.6,982.0 167.1,983.0 167.6,981.8 168.0,986.0 168.5,988.6 169.0,986.5 169.5,984.5 170.0,981.1 170.5,983.8 171.0,984.6 171.5,983.1 172.0,980.1 172.5,982.3 173.0,976.6 173.5,978.0 173.9,978.5 174.4,981.3 174.9,972.8 175.4,976.9 175.9,974.5 176.4,975.5 176.9,978.3 177.4,977.9 177.9,977.3 178.4,972.8 178.9,973.6 179.4,980.6 179.9,972.5 180.3,979.7 180.8,975.8 181.3,968.9 181.8,972.9 182.3,973.6 182.8,980.2 183.3,969.6 183.8,972.6 184.3,971.6 184.8,975.6 185.3,974.0 185.8,970.5 186.2,976.8 186.7,966.9 187.2,966.6 187.7,972.5 188.2,971.7 188.7,967.6 189.2,967.6 189.7,970.2 190.2,967.2 190.7,970.3 191.2,971.8 191.7,962.7 192.2,963.5 192.6,969.5 193.1,964.2 193.6,963.2 194.1,957.6 194.6,958.0 195.1,956.9 195.6,963.1 196.1,957.3 196.6,963.4 197.1,964.0 197.6,951.5 198.1,962.6 198.5,953.5 199.0,959.8 199.5,959.7 200.0,949.5 200.5,963.5 201.0,955.3 201.5,953.0 202.0,957.2 202.5,957.7 203.0,956.7 203.5,943.9 204.0,958.9 204.5,955.5 204.9,951.8 205.4,955.1 205.9,946.1 206.4,952.2 206.9,949.8 207.4,947.7 207.9,950.1 208.4,944.7 208.9,951.3 209.4,945.5 209.9,941.1 210.4,939.8 210.8,948.5 211.3,948.9 211.8,933.9 212.3,937.9 212.8,949.0 213.3,936.6 213.8,938.6 214.3,937.9 214.8,934.7 215.3,938.4 215.8,935.9 216.3,938.1 216.8,932.4 217.2,934.2 217.7,931.9 218.2,933.4 218.7,937.4 219.2,933.6 219.7,933.1 220.2,931.5 220.7,933.9 221.2,932.7 221.7,932.1 222.2,933.1 222.7,928.6 223.1,930.5 223.6,924.5 224.1,928.8 224.6,931.5 225.1,925.8 225.6,922.3 226.1,921.6 226.6,926.1 227.1,924.4 227.6,923.5 228.1,920.7 228.6,922.5 229.1,926.1 229.5,917.0 230.0,917.5 230.5,921.4 231.0,918.0 231.5,918.1 232.0,918.7 232.5,914.8 233.0,917.7 233.5,914.2 234.0,911.2 234.5,909.9 235.0,906.3 235.4,910.3 235.9,908.4 236.4,907.5 236.9,910.0 237.4,912.9 237.9,909.5 238.4,911.0 238.9,904.9 239.4,900.1 239.9,901.6 240.4,896.4 240.9,901.0 241.4,894.8 241.8,895.0 242.3,897.4 242.8,893.5 243.3,899.2 243.8,900.4 244.3,894.8 244.8,890.9 245.3,892.6 245.8,891.5 246.3,892.7 246.8,893.7 247.3,889.3 247.7,888.1 248.2,890.8 248.7,884.8 249.2,882.6 249.7,892.7 250.2,884.7 250.7,889.0 251.2,885.4 251.7,883.0 252.2,880.2 252.7,879.7 253.2,878.3 253.7,878.6 254.1,880.6 254.6,876.2 255.1,877.3 255.6,873.3 256.1,874.3 256.6,872.6 257.1,876.9 257.6,869.6 258.1,871.0 258.6,867.6 259.1,868.3 259.6,860.3 260.0,860.7 260.5,857.0 261.0,864.2 261.5,859.7 262.0,860.6 262.5,861.2 263.0,856.1 263.5,859.1 264.0,848.8 264.5,855.1 265.0,851.4 265.5,853.9 266.0,852.2 266.4,852.1 266.9,845.4 267.4,845.5 267.9,846.6 268.4,849.1 268.9,846.2 269.4,843.7 269.9,847.7 270.4,842.8 270.9,849.0 271.4,844.5 271.9,843.5 272.3,842.0 272.8,834.6 273.3,844.3 273.8,838.3 274.3,839.9 274.8,841.0 275.3,839.1 275.8,840.9 276.3,834.6 276.8,833.6 277.3,838.2 277.8,832.9 278.3,833.2 278.7,839.6 279.2,832.5 279.7,833.7 280.2,834.0 280.7,834.2 281.2,836.8 281.7,832.8 282.2,835.7 282.7,826.0 283.2,830.9 283.7,824.3 284.2,827.6 284.6,825.1 285.1,827.3 285.6,826.1 286.1,823.6 286.6,824.7 287.1,821.1 287.6,826.4 288.1,824.4 288.6,826.0 289.1,815.4 289.6,815.0 290.1,819.5 290.6,817.9 291.0,820.1 291.5,819.1 292.0,811.2 292.5,816.4 293.0,817.3 293.5,818.3 294.0,815.3 294.5,814.4 295.0,818.3 295.5,817.0 296.0,813.9 296.5,815.7 296.9,817.8 297.4,815.4 297.9,816.0 298.4,816.9 298.9,817.9 299.4,815.1 299.9,818.1 300.4,820.4 300.9,819.3 301.4,817.0 301.9,819.3 302.4,821.1 302.9,813.7 303.3,822.0 303.8,820.0 304.3,813.9 304.8,819.8 305.3,819.1 305.8,822.7 306.3,817.9 306.8,824.2 307.3,815.5 307.8,819.9 308.3,816.5 308.8,820.3 309.2,823.2 309.7,821.3 310.2,814.4 310.7,818.4 311.2,820.0 311.7,815.4 312.2,825.3 312.7,821.1 313.2,817.0 313.7,823.5 314.2,819.3 314.7,822.2 315.2,816.6 315.6,819.5 316.1,821.0 316.6,823.0 317.1,824.5 317.6,827.4 318.1,826.4 318.6,830.3 319.1,824.7 319.6,823.2 320.1,817.8 320.6,823.9 321.1,820.4 321.5,829.4 322.0,828.6 322.5,825.5 323.0,829.6 323.5,824.8 324.0,825.2 324.5,829.0 325.0,830.4 325.5,830.2 326.0,832.5 326.5,824.9 327.0,830.6 327.5,826.2 327.9,834.9 328.4,826.0 328.9,834.3 329.4,833.8 329.9,832.0 330.4,831.0 330.9,830.4 331.4,835.4 331.9,839.7 332.4,832.0 332.9,838.2 333.4,842.1 333.8,843.1 334.3,840.9 334.8,847.3 335.3,841.8 335.8,843.3 336.3,837.5 336.8,840.2 337.3,844.0 337.8,850.9 338.3,848.3 338.8,846.7 339.3,843.8 339.8,851.9 340.2,848.0 340.7,852.1 341.2,843.5 341.7,849.9 342.2,852.1 342.7,849.1 343.2,852.4 343.7,852.1 344.2,850.8 344.7,853.3 345.2,853.9 345.7,847.3 346.1,852.8 346.6,855.3 347.1,848.9 347.6,852.7 348.1,850.5 348.6,857.1 349.1,856.1 349.6,854.6 350.1,854.4 350.6,858.2 351.1,851.3 351.6,861.4 352.1,856.6 352.5,859.6 353.0,860.2 353.5,860.3 354.0,853.5 354.5,863.0 355.0,867.1 355.5,858.5 356.0,861.4 356.5,861.6 357.0,861.3 357.5,858.2 358.0,866.9 358.4,866.1 358.9,863.4 359.4,867.1 359.9,866.3 360.4,871.4 360.9,869.9 361.4,866.4 361.9,876.1 362.4,869.0 362.9,877.4 363.4,864.8 363.9,868.6 364.4,868.1 364.8,868.7 365.3,876.9 365.8,874.8 366.3,878.4 366.8,874.8 367.3,878.0 367.8,876.4 368.3,880.2 368.8,879.0 369.3,882.7 369.8,882.5 370.3,883.9 370.7,883.2 371.2,881.8 371.7,880.7 372.2,887.2 372.7,883.1 373.2,888.6 373.7,882.7 374.2,887.7 374.7,890.9 375.2,889.6 375.7,887.6 376.2,890.6 376.7,890.0 377.1,892.3 377.6,886.6 378.1,890.8 378.6,893.8 379.1,894.2 379.6,889.9 380.1,895.9 380.6,897.1 381.1,901.3 381.6,896.6 382.1,901.8 382.6,901.4 383.0,895.5 383.5,904.9 384.0,900.4 384.5,905.4 385.0,909.0 385.5,907.5 386.0,908.1 386.5,907.5 387.0,908.9 387.5,909.9 388.0,910.0 388.5,907.1 389.0,908.7 389.4,913.7 389.9,912.1 390.4,914.2 390.9,910.6 391.4,918.3 391.9,913.5 392.4,913.8 392.9,917.4 393.4,918.3 393.9,916.8 394.4,922.4 394.9,921.0 395.3,923.5 395.8,919.2 396.3,923.7 396.8,922.6 397.3,927.9 397.8,924.6 398.3,921.0 398.8,923.3 399.3,921.5 399.8,931.3 400.3,932.0 400.8,922.4 401.3,926.5 401.7,931.9 402.2,926.8 402.7,928.4 403.2,929.3 403.7,929.7 404.2,929.4 404.7,930.7 405.2,932.3 405.7,932.4 406.2,933.7 406.7,934.8 407.2,935.7 407.6,937.2 408.1,936.7 408.6,936.1 409.1,938.8 409.6,939.5 410.1,933.0 410.6,933.3 411.1,940.7 411.6,944.9 412.1,936.8 412.6,949.5 413.1,937.8 413.6,939.6 414.0,947.2 414.5,946.5 415.0,950.8 415.5,946.6 416.0,952.3 416.5,954.1 417.0,948.5 417.5,952.3 418.0,950.9 418.5,952.3 419.0,954.7 419.5,951.6 419.9,956.6 420.4,951.8 420.9,956.4 421.4,950.2 421.9,957.3 422.4,953.5 422.9,953.3 423.4,957.6 423.9,962.5 424.4,955.6 424.9,963.9 425.4,958.1 425.9,965.8 426.3,962.3 426.8,961.8 427.3,964.1 427.8,961.6 428.3,960.9 428.8,963.0 429.3,963.3 429.8,959.6 430.3,962.3 430.8,964.2 431.3,968.1 431.8,970.7 432.2,969.3 432.7,964.3 433.2,967.6 433.7,966.0 434.2,974.0 434.7,976.2 435.2,969.5 435.7,978.1 436.2,972.0 436.7,977.2 437.2,971.5 437.7,970.7 438.2,977.3 438.6,969.2 439.1,972.4 439.6,974.6 440.1,978.0 440.6,978.1 441.1,976.4 441.6,972.6 442.1,976.5 442.6,982.5 443.1,983.0 443.6,976.5 444.1,978.8 444.5,975.2 445.0,976.8 445.5,976.0 446.0,975.3 446.5,976.7 447.0,979.0 447.5,987.3 448.0,978.5 448.5,978.3 449.0,979.8 449.5,986.2 450.0,980.9 450.5,979.3 450.9,981.7 451.4,984.8 451.9,991.0 452.4,987.3 452.9,978.6 453.4,984.9 453.9,982.2 454.4,986.5 454.9,990.1 455.4,982.2 455.9,985.3 456.4,983.3 456.8,987.4 457.3,991.9 457.8,983.5 458.3,989.7 458.8,987.9 459.3,988.3 459.8,986.8 460.3,988.4 460.8,985.7 461.3,990.9 461.8,987.4 462.3,986.0 462.8,992.3 463.2,995.3 463.7,992.4 464.2,988.1 464.7,991.6 465.2,989.6 465.7,993.1 466.2,999.5 466.7,996.6 467.2,998.5 467.7,1000.4 468.2,995.4 468.7,991.3 469.1,993.2 469.6,993.9 470.1,993.9 470.6,996.8 471.1,990.8 471.6,993.7 472.1,994.4 472.6,1003.5 473.1,993.6 473.6,993.4 474.1,997.5 474.6,1002.8 475.1,994.7 475.5,999.3 476.0,999.0 476.5,999.3 477.0,999.2 477.5,1001.9 478.0,997.6 478.5,994.9 479.0,999.2 479.5,1002.8 480.0,1000.6 480.5,1000.2 481.0,1000.5 481.4,998.9 481.9,1000.4 482.4,1000.2 482.9,1000.2 483.4,1004.2 483.9,999.4 484.4,997.8 484.9,999.9 485.4,1000.5 485.9,994.2 486.4,1000.0 486.9,994.8 487.4,1003.8 487.8,1004.2 488.3,1006.2 488.8,1005.0 489.3,1004.8"/>
</g>
<rect x="78.5" y="803.2" width="407.5" height="314.79999999999995" fill="none" stroke="#6e6e6e" stroke-width="1.6"/>
<clipPath id="cs2"><rect x="678.5" y="803.4" width="407.9000000000001" height="314.6"/></clipPath>
<g clip-path="url(#cs2)">
<polyline fill="none" stroke="#000000" stroke-width="1.6" stroke-linejoin="round"  points="673.3,983.7 675.2,989.4 677.1,984.5 679.0,983.0 680.9,990.0 682.7,982.3 684.6,988.0 686.5,984.4 688.4,986.0 690.3,988.8 692.2,989.4 694.1,993.9 696.0,990.7 697.9,991.4 699.8,983.2 701.7,985.8 703.5,994.6 705.4,987.3 707.3,989.7 709.2,992.2 711.1,989.6 713.0,988.8 714.9,993.9 716.8,993.2 718.7,992.1 720.6,996.4 722.5,992.7 724.3,994.0 726.2,996.4 728.1,997.2 730.0,993.6 731.9,992.0 733.8,994.2 735.7,998.6 737.6,993.4 739.5,995.7 741.4,994.6 743.3,992.9 745.1,1000.2 747.0,997.9 748.9,999.7 750.8,1000.9 752.7,991.5 754.6,995.4 756.5,1004.7 758.4,997.6 760.3,1001.2 762.2,995.7 764.1,999.5 765.9,1000.7 767.8,999.8 769.7,999.3 771.6,1000.7 773.5,1001.8 775.4,1001.8 777.3,999.9 779.2,1005.5 781.1,1002.1 783.0,1002.7 784.9,1004.2 786.8,1000.4 788.6,1007.3 790.5,1004.6 792.4,1006.4 794.3,1002.1 796.2,1005.7 798.1,1004.3 800.0,1003.5 801.9,1010.2 803.8,1003.9 805.7,1008.0 807.6,1006.7 809.4,1006.5 811.3,1003.8 813.2,1004.3 815.1,1001.3 817.0,1006.6 818.9,1008.9 820.8,1009.1 822.7,1005.6 824.6,1002.8 826.5,1006.9 828.4,1009.9 830.2,1007.3 832.1,1007.4 834.0,1008.1 835.9,1010.5 837.8,1015.5 839.7,1009.6 841.6,1004.4 843.5,1006.7 845.4,1013.8 847.3,1006.1 849.2,1011.0 851.0,997.9 852.9,1002.1 854.8,1004.7 856.7,996.6 858.6,999.6 860.5,993.7 862.4,994.0 864.3,996.9 866.2,990.5 868.1,996.1 870.0,986.6 871.8,988.9 873.7,989.9 875.6,989.2 877.5,974.7 879.4,970.9 881.3,974.8 883.2,961.5 885.1,962.6 887.0,961.7 888.9,961.0 890.8,963.2 892.6,961.3 894.5,969.7 896.4,981.0 898.3,974.0 900.2,982.8 902.1,993.5 904.0,995.3 905.9,1000.6 907.8,1000.7 909.7,1002.1 911.6,1004.6 913.4,1008.9 915.3,1010.9 917.2,1007.0 919.1,1010.8 921.0,1004.4 922.9,1014.4 924.8,1010.1 926.7,1013.0 928.6,1015.9 930.5,1010.0 932.4,1014.2 934.2,1017.7 936.1,1016.4 938.0,1012.8 939.9,1020.0 941.8,1012.5 943.7,1015.0 945.6,1018.3 947.5,1013.8 949.4,1013.0 951.3,1016.9 953.2,1018.5 955.0,1013.9 956.9,1015.3 958.8,1022.8 960.7,1021.0 962.6,1021.4 964.5,1022.3 966.4,1025.8 968.3,1019.0 970.2,1021.7 972.1,1021.9 974.0,1018.3 975.9,1024.4 977.7,1023.1 979.6,1022.4 981.5,1024.7 983.4,1024.0 985.3,1021.7 987.2,1024.1 989.1,1020.5 991.0,1026.7 992.9,1024.2 994.8,1029.1 996.7,1025.5 998.5,1027.4 1000.4,1021.6 1002.3,1023.6 1004.2,1024.5 1006.1,1020.8 1008.0,1022.1 1009.9,1024.4 1011.8,1028.6 1013.7,1031.0 1015.6,1027.1 1017.5,1028.2 1019.3,1029.1 1021.2,1028.3 1023.1,1032.3 1025.0,1023.4 1026.9,1031.1 1028.8,1029.9 1030.7,1026.5 1032.6,1032.9 1034.5,1025.7 1036.4,1025.8 1038.3,1029.4 1040.1,1031.7 1042.0,1030.1 1043.9,1034.1 1045.8,1025.0 1047.7,1028.9 1049.6,1031.2 1051.5,1031.8 1053.4,1027.7 1055.3,1025.1 1057.2,1033.1 1059.1,1031.2 1060.9,1034.7 1062.8,1027.9 1064.7,1029.4 1066.6,1023.6 1068.5,1030.4 1070.4,1031.4 1072.3,1032.3 1074.2,1027.9 1076.1,1035.1 1078.0,1028.4 1079.9,1030.0 1081.7,1032.2 1083.6,1033.4 1085.5,1028.0 1087.4,1025.9 1089.3,1032.5"/>
<polyline fill="none" stroke="#ff0000" stroke-width="1.6" stroke-linejoin="round"  points="673.3,1013.2 675.2,1014.2 677.1,1009.3 679.0,1009.1 680.9,1011.5 682.7,1011.0 684.6,1007.1 686.5,1008.7 688.4,1016.5 690.3,1012.0 692.2,1011.8 694.1,1010.0 696.0,1013.4 697.9,1015.1 699.8,1014.8 701.7,1019.5 703.5,1014.0 705.4,1016.3 707.3,1013.1 709.2,1018.4 711.1,1016.8 713.0,1019.0 714.9,1019.6 716.8,1014.2 718.7,1018.4 720.6,1015.8 722.5,1021.2 724.3,1017.6 726.2,1023.7 728.1,1020.1 730.0,1020.4 731.9,1017.2 733.8,1018.7 735.7,1020.1 737.6,1017.0 739.5,1019.2 741.4,1018.2 743.3,1017.6 745.1,1020.4 747.0,1021.2 748.9,1019.4 750.8,1021.8 752.7,1019.3 754.6,1017.1 756.5,1018.0 758.4,1022.0 760.3,1024.9 762.2,1021.1 764.1,1021.4 765.9,1017.5 767.8,1022.3 769.7,1021.7 771.6,1018.8 773.5,1022.6 775.4,1021.6 777.3,1015.7 779.2,1016.4 781.1,1019.1 783.0,1020.1 784.9,1024.0 786.8,1019.0 788.6,1020.4 790.5,1019.7 792.4,1021.6 794.3,1019.4 796.2,1019.1 798.1,1016.1 800.0,1010.7 801.9,1011.6 803.8,1015.1 805.7,1010.1 807.6,1010.2 809.4,1007.7 811.3,1005.2 813.2,1008.4 815.1,1014.3 817.0,1013.9 818.9,1018.9 820.8,1022.1 822.7,1022.8 824.6,1021.5 826.5,1014.4 828.4,1022.9 830.2,1014.3 832.1,1013.3 834.0,1016.8 835.9,1014.7 837.8,1014.2 839.7,1009.3 841.6,1003.4 843.5,1000.8 845.4,992.1 847.3,984.6 849.2,978.9 851.0,968.6 852.9,957.3 854.8,940.9 856.7,927.9 858.6,904.2 860.5,886.0 862.4,873.5 864.3,854.9 866.2,864.8 868.1,875.2 870.0,890.3 871.8,919.9 873.7,939.9 875.6,963.8 877.5,980.6 879.4,992.7 881.3,1002.4 883.2,1007.9 885.1,1014.2 887.0,1016.8 888.9,1021.0 890.8,1025.9 892.6,1022.5 894.5,1028.3 896.4,1029.5 898.3,1023.9 900.2,1026.7 902.1,1029.0 904.0,1027.9 905.9,1028.1 907.8,1035.1 909.7,1031.8 911.6,1035.4 913.4,1032.0 915.3,1034.6 917.2,1029.1 919.1,1031.8 921.0,1036.0 922.9,1034.0 924.8,1037.7 926.7,1034.3 928.6,1033.1 930.5,1034.1 932.4,1040.7 934.2,1036.3 936.1,1034.0 938.0,1034.8 939.9,1032.5 941.8,1039.7 943.7,1034.7 945.6,1038.2 947.5,1035.9 949.4,1035.5 951.3,1034.8 953.2,1038.6 955.0,1036.5 956.9,1040.5 958.8,1041.3 960.7,1035.9 962.6,1037.7 964.5,1042.3 966.4,1040.2 968.3,1037.9 970.2,1033.6 972.1,1035.2 974.0,1036.0 975.9,1043.4 977.7,1038.7 979.6,1037.2 981.5,1037.6 983.4,1037.6 985.3,1039.5 987.2,1034.0 989.1,1034.9 991.0,1039.5 992.9,1042.0 994.8,1033.6 996.7,1041.1 998.5,1036.3 1000.4,1034.4 1002.3,1042.5 1004.2,1039.1 1006.1,1041.0 1008.0,1038.7 1009.9,1039.4 1011.8,1035.0 1013.7,1038.9 1015.6,1040.7 1017.5,1037.7 1019.3,1041.7 1021.2,1042.1 1023.1,1035.0 1025.0,1043.6 1026.9,1042.8 1028.8,1041.5 1030.7,1044.7 1032.6,1047.8 1034.5,1039.3 1036.4,1044.5 1038.3,1044.0 1040.1,1043.7 1042.0,1045.6 1043.9,1046.0 1045.8,1042.8 1047.7,1037.3 1049.6,1041.7 1051.5,1041.8 1053.4,1048.1 1055.3,1044.3 1057.2,1047.6 1059.1,1042.6 1060.9,1045.4 1062.8,1044.9 1064.7,1045.4 1066.6,1046.9 1068.5,1049.6 1070.4,1044.2 1072.3,1049.6 1074.2,1049.2 1076.1,1047.0 1078.0,1048.2 1079.9,1045.8 1081.7,1043.9 1083.6,1046.0 1085.5,1046.3 1087.4,1046.8 1089.3,1044.7"/>
<polyline fill="none" stroke="#0000ff" stroke-width="1.6" stroke-linejoin="round"  points="673.3,1060.7 675.2,1054.6 677.1,1057.4 679.0,1057.5 680.9,1056.4 682.7,1055.3 684.6,1059.6 686.5,1060.4 688.4,1058.9 690.3,1061.4 692.2,1058.9 694.1,1052.9 696.0,1059.3 697.9,1055.4 699.8,1060.3 701.7,1056.5 703.5,1058.1 705.4,1057.6 707.3,1056.2 709.2,1053.6 711.1,1057.4 713.0,1057.7 714.9,1060.4 716.8,1056.9 718.7,1059.0 720.6,1056.6 722.5,1058.7 724.3,1054.7 726.2,1063.5 728.1,1059.7 730.0,1057.0 731.9,1060.0 733.8,1061.1 735.7,1060.0 737.6,1062.7 739.5,1059.3 741.4,1054.6 743.3,1057.1 745.1,1062.3 747.0,1061.8 748.9,1060.8 750.8,1057.6 752.7,1061.8 754.6,1061.5 756.5,1057.9 758.4,1058.0 760.3,1060.8 762.2,1062.5 764.1,1063.4 765.9,1061.4 767.8,1064.8 769.7,1058.0 771.6,1061.1 773.5,1058.5 775.4,1055.2 777.3,1056.8 779.2,1062.0 781.1,1057.3 783.0,1056.5 784.9,1060.9 786.8,1061.3 788.6,1059.2 790.5,1062.6 792.4,1055.4 794.3,1063.8 796.2,1061.2 798.1,1059.1 800.0,1058.9 801.9,1057.9 803.8,1057.6 805.7,1058.6 807.6,1055.3 809.4,1062.8 811.3,1057.7 813.2,1059.3 815.1,1057.1 817.0,1056.8 818.9,1059.2 820.8,1058.3 822.7,1054.7 824.6,1055.4 826.5,1057.4 828.4,1050.6 830.2,1049.6 832.1,1057.1 834.0,1051.6 835.9,1045.0 837.8,1044.3 839.7,1038.9 841.6,1028.8 843.5,1012.3 845.4,986.7 847.3,954.8 849.2,912.8 851.0,874.5 852.9,838.5 854.8,817.6 856.7,812.9 858.6,833.9 860.5,866.6 862.4,904.7 864.3,946.2 866.2,980.3 868.1,1007.3 870.0,1026.9 871.8,1039.7 873.7,1047.7 875.6,1049.9 877.5,1056.8 879.4,1053.1 881.3,1057.2 883.2,1059.8 885.1,1060.0 887.0,1061.0 888.9,1059.7 890.8,1062.1 892.6,1058.4 894.5,1063.0 896.4,1066.5 898.3,1063.6 900.2,1066.7 902.1,1062.6 904.0,1060.5 905.9,1061.6 907.8,1066.2 909.7,1065.1 911.6,1059.8 913.4,1063.2 915.3,1064.0 917.2,1061.9 919.1,1059.6 921.0,1061.7 922.9,1064.3 924.8,1064.0 926.7,1063.5 928.6,1066.3 930.5,1067.4 932.4,1065.1 934.2,1067.3 936.1,1065.5 938.0,1065.2 939.9,1060.8 941.8,1067.4 943.7,1066.0 945.6,1066.1 947.5,1064.9 949.4,1063.7 951.3,1067.0 953.2,1067.8 955.0,1069.6 956.9,1068.2 958.8,1065.1 960.7,1066.2 962.6,1068.5 964.5,1067.2 966.4,1066.4 968.3,1065.5 970.2,1067.9 972.1,1067.2 974.0,1070.6 975.9,1069.2 977.7,1063.4 979.6,1071.5 981.5,1067.6 983.4,1066.5 985.3,1067.8 987.2,1068.8 989.1,1067.2 991.0,1067.2 992.9,1067.4 994.8,1071.2 996.7,1067.6 998.5,1069.1 1000.4,1068.5 1002.3,1067.0 1004.2,1066.1 1006.1,1065.7 1008.0,1068.6 1009.9,1065.7 1011.8,1065.2 1013.7,1065.4 1015.6,1064.9 1017.5,1068.1 1019.3,1068.3 1021.2,1066.2 1023.1,1070.8 1025.0,1067.6 1026.9,1069.2 1028.8,1068.9 1030.7,1071.8 1032.6,1070.1 1034.5,1068.4 1036.4,1066.5 1038.3,1066.4 1040.1,1068.7 1042.0,1068.9 1043.9,1070.3 1045.8,1067.8 1047.7,1069.2 1049.6,1067.5 1051.5,1065.2 1053.4,1069.0 1055.3,1072.0 1057.2,1070.8 1059.1,1072.1 1060.9,1071.6 1062.8,1066.5 1064.7,1068.8 1066.6,1072.4 1068.5,1068.0 1070.4,1066.9 1072.3,1070.2 1074.2,1070.9 1076.1,1070.3 1078.0,1069.1 1079.9,1068.4 1081.7,1067.4 1083.6,1067.4 1085.5,1067.5 1087.4,1067.2 1089.3,1068.6"/>
<polyline fill="none" stroke="#ff00ff" stroke-width="1.6" stroke-linejoin="round"  points="673.3,993.0 675.2,996.3 677.1,995.1 679.0,990.6 680.9,988.2 682.7,996.4 684.6,992.6 686.5,992.8 688.4,991.3 690.3,994.5 692.2,994.1 694.1,992.8 696.0,1000.7 697.9,996.6 699.8,1003.6 701.7,1004.7 703.5,1000.8 705.4,1003.7 707.3,996.6 709.2,995.1 711.1,1000.1 713.0,999.8 714.9,1000.5 716.8,1000.9 718.7,999.8 720.6,999.3 722.5,1002.5 724.3,1003.9 726.2,1003.3 728.1,998.8 730.0,1003.5 731.9,997.1 733.8,1003.4 735.7,997.9 737.6,1007.3 739.5,1005.7 741.4,1001.9 743.3,1002.1 745.1,1004.6 747.0,997.1 748.9,1004.3 750.8,1003.7 752.7,1007.0 754.6,999.4 756.5,1002.4 758.4,1004.2 760.3,1011.6 762.2,1004.8 764.1,1007.9 765.9,1005.1 767.8,1003.6 769.7,1009.5 771.6,1006.4 773.5,1004.3 775.4,1007.0 777.3,1008.9 779.2,1011.6 781.1,1010.5 783.0,1012.8 784.9,1005.3 786.8,1008.5 788.6,1013.2 790.5,1009.3 792.4,1014.0 794.3,1017.4 796.2,1005.9 798.1,1006.3 800.0,1015.5 801.9,1013.2 803.8,1010.3 805.7,1012.5 807.6,1014.4 809.4,1013.4 811.3,1012.8 813.2,1014.0 815.1,1011.7 817.0,1013.4 818.9,1015.4 820.8,1013.0 822.7,1018.8 824.6,1008.7 826.5,1019.5 828.4,1014.2 830.2,1013.0 832.1,1012.9 834.0,1013.6 835.9,1010.4 837.8,1018.5 839.7,1015.1 841.6,1014.6 843.5,1016.9 845.4,1017.3 847.3,1011.3 849.2,1018.0 851.0,1017.3 852.9,1016.8 854.8,1016.7 856.7,1015.6 858.6,1017.0 860.5,1015.2 862.4,1016.1 864.3,1015.1 866.2,1012.3 868.1,1019.7 870.0,1011.7 871.8,1018.6 873.7,1015.1 875.6,1016.9 877.5,1018.5 879.4,1024.0 881.3,1012.6 883.2,1020.4 885.1,1020.6 887.0,1014.8 888.9,1018.1 890.8,1012.4 892.6,1013.2 894.5,1016.5 896.4,1018.1 898.3,1016.6 900.2,1023.4 902.1,1018.8 904.0,1019.0 905.9,1021.1 907.8,1019.0 909.7,1024.6 911.6,1017.2 913.4,1016.1 915.3,1024.4 917.2,1020.0 919.1,1015.7 921.0,1019.4 922.9,1024.1 924.8,1024.0 926.7,1018.3 928.6,1015.3 930.5,1024.7 932.4,1021.2 934.2,1023.9 936.1,1022.4 938.0,1020.7 939.9,1021.9 941.8,1024.0 943.7,1015.3 945.6,1022.5 947.5,1022.6 949.4,1018.7 951.3,1022.2 953.2,1022.9 955.0,1019.4 956.9,1025.7 958.8,1020.2 960.7,1019.4 962.6,1020.6 964.5,1023.4 966.4,1022.9 968.3,1028.3 970.2,1023.5 972.1,1022.3 974.0,1020.6 975.9,1022.9 977.7,1024.7 979.6,1026.2 981.5,1023.9 983.4,1023.4 985.3,1020.2 987.2,1024.1 989.1,1025.8 991.0,1024.7 992.9,1026.0 994.8,1025.4 996.7,1031.6 998.5,1029.8 1000.4,1028.8 1002.3,1023.8 1004.2,1025.6 1006.1,1025.1 1008.0,1022.1 1009.9,1029.0 1011.8,1022.5 1013.7,1024.9 1015.6,1028.4 1017.5,1021.8 1019.3,1030.8 1021.2,1030.0 1023.1,1027.3 1025.0,1025.6 1026.9,1027.5 1028.8,1033.5 1030.7,1028.1 1032.6,1027.5 1034.5,1020.7 1036.4,1023.4 1038.3,1027.3 1040.1,1031.0 1042.0,1026.8 1043.9,1031.5 1045.8,1027.4 1047.7,1027.1 1049.6,1029.5 1051.5,1027.6 1053.4,1029.5 1055.3,1030.3 1057.2,1024.1 1059.1,1027.0 1060.9,1029.8 1062.8,1031.3 1064.7,1028.5 1066.6,1027.5 1068.5,1026.7 1070.4,1025.0 1072.3,1028.1 1074.2,1032.9 1076.1,1023.6 1078.0,1026.3 1079.9,1027.3 1081.7,1025.9 1083.6,1034.4 1085.5,1031.1 1087.4,1031.6 1089.3,1026.7"/>
</g>
<rect x="678.5" y="803.4" width="407.9000000000001" height="314.6" fill="none" stroke="#6e6e6e" stroke-width="1.6"/>
<clipPath id="cs3"><rect x="78.4" y="1275.2" width="407.70000000000005" height="314.79999999999995"/></clipPath>
<g clip-path="url(#cs3)">
<polyline fill="none" stroke="#000000" stroke-width="1.6" stroke-linejoin="round"  points="75.2,1475.7 78.1,1480.1 81.0,1473.9 84.0,1479.6 86.9,1482.0 89.8,1476.1 92.7,1481.3 95.7,1466.4 98.6,1483.8 101.5,1476.1 104.5,1480.4 107.4,1485.2 110.3,1464.0 113.2,1490.2 116.2,1465.4 119.1,1485.4 122.0,1474.9 124.9,1460.2 127.9,1490.4 130.8,1485.1 133.7,1466.4 136.6,1474.3 139.6,1479.3 142.5,1475.8 145.4,1482.2 148.3,1474.7 151.3,1465.1 154.2,1478.2 157.1,1474.5 160.0,1467.1 163.0,1461.7 165.9,1479.6 168.8,1473.4 171.8,1479.4 174.7,1479.9 177.6,1478.2 180.5,1479.8 183.5,1487.3 186.4,1489.1 189.3,1480.3 192.2,1474.2 195.2,1466.6 198.1,1478.6 201.0,1475.9 203.9,1470.0 206.9,1469.1 209.8,1474.6 212.7,1473.7 215.6,1459.6 218.6,1473.9 221.5,1473.6 224.4,1479.7 227.3,1463.1 230.3,1465.1 233.2,1446.4 236.1,1457.8 239.0,1444.9 242.0,1438.6 244.9,1427.6 247.8,1441.8 250.8,1415.5 253.7,1420.2 256.6,1415.7 259.5,1412.9 262.5,1410.8 265.4,1409.5 268.3,1423.9 271.2,1407.4 274.2,1414.8 277.1,1427.2 280.0,1427.2 282.9,1417.9 285.9,1437.0 288.8,1448.4 291.7,1439.5 294.6,1461.8 297.6,1461.7 300.5,1468.1 303.4,1468.8 306.3,1464.5 309.3,1467.5 312.2,1477.9 315.1,1474.9 318.1,1474.2 321.0,1478.2 323.9,1476.2 326.8,1481.2 329.8,1481.6 332.7,1476.5 335.6,1484.1 338.5,1474.3 341.5,1478.6 344.4,1483.7 347.3,1481.7 350.2,1480.9 353.2,1478.8 356.1,1477.0 359.0,1479.3 361.9,1483.9 364.9,1468.2 367.8,1471.8 370.7,1477.3 373.6,1471.6 376.6,1476.0 379.5,1480.0 382.4,1477.7 385.3,1463.0 388.3,1471.5 391.2,1471.2 394.1,1481.1 397.1,1474.3 400.0,1463.2 402.9,1475.5 405.8,1471.1 408.8,1469.9 411.7,1474.1 414.6,1467.7 417.5,1477.0 420.5,1475.1 423.4,1482.8 426.3,1463.3 429.2,1476.5 432.2,1477.8 435.1,1469.1 438.0,1481.9 440.9,1478.7 443.9,1484.0 446.8,1478.5 449.7,1481.3 452.6,1475.0 455.6,1479.5 458.5,1482.8 461.4,1480.7 464.4,1479.5 467.3,1482.2 470.2,1472.3 473.1,1474.1 476.1,1477.7 479.0,1486.8 481.9,1475.2 484.8,1487.4 487.8,1477.5"/>
<polyline fill="none" stroke="#ff0000" stroke-width="1.6" stroke-linejoin="round"  points="75.2,1509.1 78.1,1503.4 81.0,1505.3 84.0,1513.9 86.9,1511.0 89.8,1510.6 92.7,1518.7 95.7,1516.2 98.6,1503.9 101.5,1519.8 104.5,1503.5 107.4,1507.8 110.3,1510.2 113.2,1505.8 116.2,1505.9 119.1,1501.0 122.0,1510.7 124.9,1509.2 127.9,1508.9 130.8,1494.9 133.7,1500.2 136.6,1511.2 139.6,1506.6 142.5,1508.0 145.4,1502.4 148.3,1499.9 151.3,1485.9 154.2,1509.9 157.1,1490.4 160.0,1492.4 163.0,1497.7 165.9,1492.3 168.8,1492.5 171.8,1487.0 174.7,1478.9 177.6,1492.7 180.5,1472.9 183.5,1481.5 186.4,1467.9 189.3,1473.0 192.2,1466.4 195.2,1469.3 198.1,1465.0 201.0,1470.6 203.9,1475.5 206.9,1465.4 209.8,1464.2 212.7,1453.7 215.6,1476.1 218.6,1458.7 221.5,1440.9 224.4,1440.6 227.3,1413.8 230.3,1373.9 233.2,1350.5 236.1,1338.5 239.0,1304.6 242.0,1299.9 244.9,1312.0 247.8,1337.0 250.8,1367.5 253.7,1405.4 256.6,1431.3 259.5,1446.6 262.5,1467.9 265.4,1469.4 268.3,1491.4 271.2,1508.2 274.2,1500.0 277.1,1498.3 280.0,1499.2 282.9,1502.2 285.9,1508.7 288.8,1494.8 291.7,1508.9 294.6,1500.7 297.6,1507.4 300.5,1513.5 303.4,1497.3 306.3,1520.1 309.3,1512.0 312.2,1504.1 315.1,1509.2 318.1,1502.4 321.0,1507.8 323.9,1510.2 326.8,1493.7 329.8,1508.9 332.7,1508.5 335.6,1514.4 338.5,1512.4 341.5,1503.6 344.4,1504.1 347.3,1507.7 350.2,1512.2 353.2,1503.4 356.1,1518.6 359.0,1510.0 361.9,1509.4 364.9,1513.2 367.8,1506.9 370.7,1512.1 373.6,1512.9 376.6,1496.4 379.5,1503.2 382.4,1500.2 385.3,1507.5 388.3,1501.7 391.2,1502.9 394.1,1500.1 397.1,1493.8 400.0,1509.2 402.9,1506.1 405.8,1508.1 408.8,1521.6 411.7,1516.6 414.6,1507.6 417.5,1503.7 420.5,1511.3 423.4,1500.5 426.3,1499.5 429.2,1510.2 432.2,1498.6 435.1,1496.5 438.0,1504.6 440.9,1513.8 443.9,1498.2 446.8,1508.5 449.7,1509.9 452.6,1506.7 455.6,1510.8 458.5,1500.6 461.4,1502.4 464.4,1499.6 467.3,1503.6 470.2,1512.3 473.1,1508.3 476.1,1501.7 479.0,1509.8 481.9,1493.2 484.8,1508.7 487.8,1510.9"/>
<polyline fill="none" stroke="#0000ff" stroke-width="1.6" stroke-linejoin="round"  points="75.2,1556.3 78.1,1556.5 81.0,1557.0 84.0,1553.8 86.9,1553.9 89.8,1547.9 92.7,1553.7 95.7,1552.6 98.6,1557.8 101.5,1543.1 104.5,1548.9 107.4,1542.3 110.3,1547.3 113.2,1543.7 116.2,1552.5 119.1,1547.5 122.0,1539.8 124.9,1557.2 127.9,1544.9 130.8,1542.1 133.7,1548.6 136.6,1546.7 139.6,1544.0 142.5,1553.8 145.4,1548.2 148.3,1554.7 151.3,1553.6 154.2,1553.1 157.1,1550.5 160.0,1548.8 163.0,1547.0 165.9,1556.6 168.8,1538.6 171.8,1542.6 174.7,1544.5 177.6,1549.9 180.5,1548.0 183.5,1544.2 186.4,1544.2 189.3,1554.2 192.2,1540.1 195.2,1530.5 198.1,1547.8 201.0,1526.9 203.9,1520.8 206.9,1509.3 209.8,1481.7 212.7,1468.9 215.6,1429.7 218.6,1386.6 221.5,1358.2 224.4,1326.3 227.3,1300.2 230.3,1294.7 233.2,1292.7 236.1,1328.9 239.0,1352.5 242.0,1400.8 244.9,1427.0 247.8,1463.2 250.8,1500.1 253.7,1508.7 256.6,1528.2 259.5,1534.3 262.5,1529.8 265.4,1547.5 268.3,1549.4 271.2,1537.7 274.2,1545.6 277.1,1538.7 280.0,1545.6 282.9,1552.4 285.9,1548.4 288.8,1541.9 291.7,1543.6 294.6,1548.8 297.6,1548.7 300.5,1549.8 303.4,1552.4 306.3,1539.3 309.3,1549.5 312.2,1555.6 315.1,1552.3 318.1,1546.1 321.0,1546.6 323.9,1550.8 326.8,1553.6 329.8,1550.0 332.7,1559.0 335.6,1557.1 338.5,1546.1 341.5,1552.9 344.4,1548.5 347.3,1544.1 350.2,1547.1 353.2,1550.4 356.1,1539.4 359.0,1547.1 361.9,1552.5 364.9,1546.8 367.8,1548.6 370.7,1555.3 373.6,1550.4 376.6,1551.7 379.5,1561.2 382.4,1551.8 385.3,1552.4 388.3,1553.2 391.2,1559.6 394.1,1552.8 397.1,1551.2 400.0,1550.5 402.9,1557.0 405.8,1547.7 408.8,1557.4 411.7,1552.2 414.6,1544.2 417.5,1554.7 420.5,1553.8 423.4,1545.5 426.3,1553.2 429.2,1552.7 432.2,1550.0 435.1,1545.7 438.0,1562.5 440.9,1555.6 443.9,1556.5 446.8,1557.0 449.7,1555.8 452.6,1555.7 455.6,1549.7 458.5,1556.0 461.4,1550.7 464.4,1549.3 467.3,1555.2 470.2,1550.7 473.1,1542.8 476.1,1549.7 479.0,1554.7 481.9,1551.8 484.8,1556.2 487.8,1550.0"/>
<polyline fill="none" stroke="#ff00ff" stroke-width="1.6" stroke-linejoin="round"  points="75.2,1467.9 78.1,1463.7 81.0,1458.9 84.0,1461.6 86.9,1460.2 89.8,1466.3 92.7,1462.3 95.7,1459.1 98.6,1469.2 101.5,1477.4 104.5,1455.4 107.4,1463.7 110.3,1471.2 113.2,1466.2 116.2,1469.7 119.1,1480.4 122.0,1469.3 124.9,1478.3 127.9,1466.5 130.8,1468.7 133.7,1459.7 136.6,1468.8 139.6,1465.2 142.5,1470.1 145.4,1470.7 148.3,1478.1 151.3,1460.7 154.2,1466.7 157.1,1472.2 160.0,1466.4 163.0,1471.0 165.9,1473.2 168.8,1466.1 171.8,1459.1 174.7,1469.9 177.6,1478.3 180.5,1472.4 183.5,1454.8 186.4,1473.9 189.3,1459.3 192.2,1469.7 195.2,1462.6 198.1,1468.7 201.0,1479.4 203.9,1471.0 206.9,1452.5 209.8,1468.9 212.7,1463.8 215.6,1470.4 218.6,1468.9 221.5,1465.6 224.4,1464.5 227.3,1451.9 230.3,1468.1 233.2,1469.3 236.1,1472.8 239.0,1477.5 242.0,1479.7 244.9,1463.1 247.8,1481.5 250.8,1457.7 253.7,1461.7 256.6,1470.1 259.5,1476.4 262.5,1467.7 265.4,1467.8 268.3,1459.7 271.2,1473.3 274.2,1470.7 277.1,1468.3 280.0,1469.9 282.9,1472.5 285.9,1480.4 288.8,1479.9 291.7,1472.9 294.6,1469.6 297.6,1460.6 300.5,1451.9 303.4,1455.4 306.3,1465.0 309.3,1454.2 312.2,1468.8 315.1,1471.8 318.1,1451.9 321.0,1475.7 323.9,1470.9 326.8,1469.8 329.8,1457.3 332.7,1472.3 335.6,1462.2 338.5,1470.9 341.5,1476.8 344.4,1466.2 347.3,1466.7 350.2,1476.3 353.2,1474.2 356.1,1473.7 359.0,1460.9 361.9,1464.6 364.9,1466.2 367.8,1464.3 370.7,1471.4 373.6,1464.4 376.6,1472.3 379.5,1477.6 382.4,1473.0 385.3,1466.4 388.3,1467.3 391.2,1460.2 394.1,1480.2 397.1,1469.5 400.0,1465.0 402.9,1474.9 405.8,1466.0 408.8,1470.8 411.7,1476.0 414.6,1459.6 417.5,1477.9 420.5,1460.4 423.4,1470.7 426.3,1474.5 429.2,1474.0 432.2,1472.9 435.1,1473.6 438.0,1465.4 440.9,1480.9 443.9,1458.2 446.8,1461.1 449.7,1456.9 452.6,1474.2 455.6,1483.1 458.5,1471.4 461.4,1468.0 464.4,1464.5 467.3,1470.4 470.2,1467.1 473.1,1465.3 476.1,1477.6 479.0,1453.0 481.9,1474.3 484.8,1464.0 487.8,1458.0"/>
</g>
<rect x="78.4" y="1275.2" width="407.70000000000005" height="314.79999999999995" fill="none" stroke="#6e6e6e" stroke-width="1.6"/>
<clipPath id="cs4"><rect x="678.8" y="1275.2" width="407.5" height="314.79999999999995"/></clipPath>
<g clip-path="url(#cs4)">
<polyline fill="none" stroke="#000000" stroke-width="1.6" stroke-linejoin="round"  points="678.0,1471.0 679.7,1466.9 681.4,1480.7 683.1,1478.0 684.9,1475.9 686.6,1478.9 688.3,1480.4 690.0,1476.6 691.8,1467.4 693.5,1470.3 695.2,1473.8 696.9,1473.9 698.7,1482.5 700.4,1470.5 702.1,1471.9 703.8,1479.6 705.6,1473.1 707.3,1475.1 709.0,1476.8 710.7,1479.2 712.4,1477.7 714.2,1479.0 715.9,1472.0 717.6,1472.5 719.3,1472.7 721.1,1475.3 722.8,1476.4 724.5,1464.1 726.2,1483.8 728.0,1468.4 729.7,1472.7 731.4,1474.1 733.1,1477.1 734.8,1475.6 736.6,1480.5 738.3,1481.6 740.0,1475.1 741.7,1482.9 743.5,1470.3 745.2,1468.9 746.9,1485.5 748.6,1482.4 750.4,1473.2 752.1,1473.5 753.8,1473.9 755.5,1472.3 757.3,1470.6 759.0,1469.9 760.7,1465.0 762.4,1473.6 764.1,1469.0 765.9,1480.8 767.6,1472.4 769.3,1476.5 771.0,1461.5 772.8,1455.0 774.5,1460.5 776.2,1466.1 777.9,1456.0 779.7,1450.6 781.4,1445.0 783.1,1435.7 784.8,1432.1 786.6,1444.2 788.3,1424.0 790.0,1432.1 791.7,1432.4 793.4,1423.4 795.2,1433.3 796.9,1440.5 798.6,1441.9 800.3,1436.4 802.1,1433.4 803.8,1431.6 805.5,1441.2 807.2,1444.2 809.0,1435.6 810.7,1448.4 812.4,1441.7 814.1,1451.1 815.8,1454.5 817.6,1460.4 819.3,1461.1 821.0,1468.0 822.7,1471.8 824.5,1471.3 826.2,1475.6 827.9,1472.2 829.6,1474.3 831.4,1476.8 833.1,1477.0 834.8,1477.5 836.5,1467.9 838.3,1476.8 840.0,1479.8 841.7,1478.5 843.4,1473.8 845.1,1478.1 846.9,1477.9 848.6,1478.5 850.3,1476.5 852.0,1475.4 853.8,1475.2 855.5,1485.6 857.2,1482.9 858.9,1488.4 860.7,1473.7 862.4,1472.2 864.1,1471.3 865.8,1477.1 867.6,1472.2 869.3,1478.1 871.0,1478.6 872.7,1485.7 874.4,1482.0 876.2,1481.1 877.9,1473.7 879.6,1470.1 881.3,1480.7 883.1,1476.6 884.8,1477.1 886.5,1482.3 888.2,1487.1 890.0,1482.3 891.7,1485.8 893.4,1480.3 895.1,1479.5 896.8,1479.7 898.6,1479.7 900.3,1476.6 902.0,1483.6 903.7,1474.7 905.5,1487.4 907.2,1478.9 908.9,1477.3 910.6,1483.2 912.4,1487.2 914.1,1476.3 915.8,1482.8 917.5,1475.7 919.3,1475.8 921.0,1479.7 922.7,1479.7 924.4,1474.9 926.1,1478.0 927.9,1484.4 929.6,1479.1 931.3,1477.2 933.0,1479.0 934.8,1479.1 936.5,1480.8 938.2,1480.7 939.9,1484.8 941.7,1487.2 943.4,1474.8 945.1,1483.4 946.8,1479.3 948.6,1487.7 950.3,1479.6 952.0,1484.5 953.7,1469.6 955.4,1485.4 957.2,1485.2 958.9,1475.9 960.6,1475.0 962.3,1490.7 964.1,1479.2 965.8,1476.1 967.5,1486.2 969.2,1476.9 971.0,1482.6 972.7,1484.6 974.4,1481.1 976.1,1481.1 977.8,1484.9 979.6,1466.4 981.3,1478.1 983.0,1477.8 984.7,1468.0 986.5,1470.0 988.2,1460.7 989.9,1466.0 991.6,1461.3 993.4,1461.9 995.1,1462.3 996.8,1466.0 998.5,1468.0 1000.3,1462.1 1002.0,1475.9 1003.7,1477.5 1005.4,1478.4 1007.1,1475.4 1008.9,1477.4 1010.6,1475.7 1012.3,1487.2 1014.0,1480.0 1015.8,1482.4 1017.5,1483.2 1019.2,1481.3 1020.9,1491.7 1022.7,1481.2 1024.4,1481.9 1026.1,1489.6 1027.8,1483.4 1029.6,1475.6 1031.3,1485.0 1033.0,1480.4 1034.7,1484.4 1036.4,1487.3 1038.2,1487.9 1039.9,1485.5 1041.6,1477.5 1043.3,1479.9 1045.1,1487.2 1046.8,1479.2 1048.5,1484.6 1050.2,1487.3 1052.0,1482.1 1053.7,1488.5 1055.4,1491.7 1057.1,1478.2 1058.8,1493.0 1060.6,1481.8 1062.3,1491.7 1064.0,1484.6 1065.7,1485.5 1067.5,1486.7 1069.2,1495.0 1070.9,1485.2 1072.6,1484.9 1074.4,1489.0 1076.1,1485.2 1077.8,1480.2 1079.5,1488.3 1081.3,1483.8 1083.0,1490.5 1084.7,1483.3 1086.4,1482.1 1088.1,1474.6"/>
<polyline fill="none" stroke="#ff0000" stroke-width="1.6" stroke-linejoin="round"  points="678.0,1493.4 679.7,1502.9 681.4,1493.3 683.1,1493.7 684.9,1490.8 686.6,1495.2 688.3,1493.3 690.0,1497.0 691.8,1495.8 693.5,1501.7 695.2,1493.2 696.9,1486.8 698.7,1493.1 700.4,1492.1 702.1,1498.2 703.8,1487.3 705.6,1497.1 707.3,1490.0 709.0,1493.1 710.7,1497.7 712.4,1488.7 714.2,1493.0 715.9,1492.0 717.6,1490.5 719.3,1492.2 721.1,1493.4 722.8,1489.0 724.5,1492.2 726.2,1489.3 728.0,1491.7 729.7,1494.2 731.4,1489.3 733.1,1487.1 734.8,1483.3 736.6,1476.3 738.3,1487.3 740.0,1477.1 741.7,1485.3 743.5,1477.9 745.2,1473.1 746.9,1478.2 748.6,1474.2 750.4,1462.8 752.1,1460.7 753.8,1459.3 755.5,1460.2 757.3,1444.9 759.0,1453.3 760.7,1454.5 762.4,1441.1 764.1,1443.2 765.9,1443.7 767.6,1430.7 769.3,1426.0 771.0,1410.1 772.8,1393.5 774.5,1376.8 776.2,1344.4 777.9,1327.7 779.7,1321.5 781.4,1322.7 783.1,1330.9 784.8,1361.5 786.6,1387.3 788.3,1410.6 790.0,1434.9 791.7,1459.0 793.4,1461.3 795.2,1468.1 796.9,1473.9 798.6,1474.3 800.3,1482.5 802.1,1482.6 803.8,1480.6 805.5,1490.2 807.2,1482.3 809.0,1483.2 810.7,1488.2 812.4,1484.1 814.1,1489.0 815.8,1497.1 817.6,1488.6 819.3,1492.5 821.0,1492.3 822.7,1493.7 824.5,1488.5 826.2,1492.3 827.9,1497.9 829.6,1492.8 831.4,1491.8 833.1,1498.4 834.8,1497.2 836.5,1497.0 838.3,1498.1 840.0,1493.9 841.7,1491.0 843.4,1487.2 845.1,1490.3 846.9,1491.1 848.6,1490.7 850.3,1489.9 852.0,1497.5 853.8,1492.8 855.5,1494.5 857.2,1496.5 858.9,1498.0 860.7,1498.2 862.4,1497.2 864.1,1501.5 865.8,1493.8 867.6,1496.2 869.3,1495.7 871.0,1494.7 872.7,1493.0 874.4,1498.9 876.2,1496.8 877.9,1503.4 879.6,1506.0 881.3,1504.9 883.1,1489.6 884.8,1504.5 886.5,1494.4 888.2,1490.0 890.0,1498.5 891.7,1489.3 893.4,1488.4 895.1,1492.4 896.8,1486.9 898.6,1493.8 900.3,1499.8 902.0,1494.3 903.7,1498.6 905.5,1502.3 907.2,1502.2 908.9,1487.0 910.6,1499.0 912.4,1496.7 914.1,1499.5 915.8,1496.0 917.5,1497.7 919.3,1498.4 921.0,1501.9 922.7,1502.8 924.4,1499.8 926.1,1495.3 927.9,1487.4 929.6,1491.9 931.3,1488.5 933.0,1494.3 934.8,1496.7 936.5,1502.1 938.2,1496.2 939.9,1505.5 941.7,1497.3 943.4,1488.7 945.1,1494.3 946.8,1490.6 948.6,1497.0 950.3,1501.0 952.0,1496.7 953.7,1495.9 955.4,1488.3 957.2,1484.2 958.9,1494.9 960.6,1491.7 962.3,1488.6 964.1,1486.6 965.8,1486.8 967.5,1476.4 969.2,1469.7 971.0,1463.5 972.7,1464.3 974.4,1454.3 976.1,1458.3 977.8,1446.8 979.6,1458.4 981.3,1460.4 983.0,1467.4 984.7,1474.1 986.5,1481.7 988.2,1489.4 989.9,1478.0 991.6,1487.3 993.4,1489.5 995.1,1483.1 996.8,1493.9 998.5,1491.9 1000.3,1494.9 1002.0,1490.3 1003.7,1493.7 1005.4,1494.8 1007.1,1497.6 1008.9,1495.5 1010.6,1491.9 1012.3,1506.1 1014.0,1497.8 1015.8,1499.2 1017.5,1498.9 1019.2,1506.3 1020.9,1494.6 1022.7,1501.6 1024.4,1499.0 1026.1,1500.3 1027.8,1505.4 1029.6,1500.2 1031.3,1506.3 1033.0,1502.5 1034.7,1499.8 1036.4,1498.6 1038.2,1498.4 1039.9,1499.3 1041.6,1489.5 1043.3,1496.9 1045.1,1504.1 1046.8,1501.5 1048.5,1501.8 1050.2,1499.7 1052.0,1501.6 1053.7,1502.8 1055.4,1492.0 1057.1,1499.0 1058.8,1500.7 1060.6,1500.3 1062.3,1500.2 1064.0,1493.3 1065.7,1497.3 1067.5,1494.6 1069.2,1509.1 1070.9,1498.1 1072.6,1495.0 1074.4,1491.1 1076.1,1499.5 1077.8,1507.0 1079.5,1497.1 1081.3,1502.3 1083.0,1507.4 1084.7,1502.4 1086.4,1495.3 1088.1,1494.7"/>
<polyline fill="none" stroke="#0000ff" stroke-width="1.6" stroke-linejoin="round"  points="678.0,1513.4 679.7,1511.0 681.4,1514.1 683.1,1511.3 684.9,1515.4 686.6,1512.6 688.3,1510.2 690.0,1512.3 691.8,1514.2 693.5,1516.6 695.2,1511.8 696.9,1511.1 698.7,1513.4 700.4,1515.3 702.1,1510.2 703.8,1503.8 705.6,1513.4 707.3,1510.8 709.0,1510.6 710.7,1520.4 712.4,1511.2 714.2,1514.1 715.9,1505.7 717.6,1511.6 719.3,1513.1 721.1,1510.3 722.8,1508.0 724.5,1509.9 726.2,1506.7 728.0,1510.4 729.7,1504.4 731.4,1498.7 733.1,1492.0 734.8,1494.5 736.6,1493.5 738.3,1487.2 740.0,1484.8 741.7,1479.1 743.5,1478.0 745.2,1479.3 746.9,1474.5 748.6,1471.5 750.4,1467.9 752.1,1465.3 753.8,1466.4 755.5,1468.8 757.3,1460.6 759.0,1462.4 760.7,1449.1 762.4,1441.0 764.1,1434.0 765.9,1404.8 767.6,1377.2 769.3,1348.6 771.0,1311.2 772.8,1286.7 774.5,1290.1 776.2,1291.1 777.9,1316.8 779.7,1345.4 781.4,1368.8 783.1,1392.3 784.8,1399.4 786.6,1400.2 788.3,1396.0 790.0,1390.2 791.7,1396.2 793.4,1401.3 795.2,1407.4 796.9,1426.4 798.6,1443.0 800.3,1469.4 802.1,1480.4 803.8,1491.6 805.5,1498.1 807.2,1506.3 809.0,1504.0 810.7,1509.9 812.4,1510.8 814.1,1511.5 815.8,1509.2 817.6,1513.9 819.3,1507.9 821.0,1510.6 822.7,1511.9 824.5,1512.3 826.2,1510.6 827.9,1508.7 829.6,1509.0 831.4,1511.3 833.1,1509.4 834.8,1512.3 836.5,1508.0 838.3,1512.9 840.0,1520.8 841.7,1507.7 843.4,1512.5 845.1,1517.4 846.9,1513.7 848.6,1516.4 850.3,1504.9 852.0,1511.1 853.8,1519.1 855.5,1511.0 857.2,1514.6 858.9,1505.7 860.7,1517.1 862.4,1521.6 864.1,1512.9 865.8,1514.5 867.6,1514.8 869.3,1521.4 871.0,1511.6 872.7,1506.8 874.4,1520.5 876.2,1508.7 877.9,1515.4 879.6,1504.8 881.3,1511.6 883.1,1514.0 884.8,1509.1 886.5,1511.3 888.2,1515.6 890.0,1510.6 891.7,1515.3 893.4,1520.2 895.1,1505.6 896.8,1514.7 898.6,1515.7 900.3,1512.1 902.0,1519.3 903.7,1518.5 905.5,1515.3 907.2,1515.3 908.9,1513.1 910.6,1509.1 912.4,1515.2 914.1,1511.4 915.8,1511.0 917.5,1517.4 919.3,1512.4 921.0,1516.9 922.7,1509.2 924.4,1511.5 926.1,1513.1 927.9,1518.2 929.6,1512.6 931.3,1515.9 933.0,1510.2 934.8,1513.3 936.5,1515.8 938.2,1509.1 939.9,1509.7 941.7,1514.6 943.4,1507.7 945.1,1513.0 946.8,1512.8 948.6,1510.8 950.3,1513.7 952.0,1511.9 953.7,1510.1 955.4,1502.6 957.2,1501.2 958.9,1505.6 960.6,1495.1 962.3,1496.4 964.1,1488.0 965.8,1477.3 967.5,1469.0 969.2,1450.8 971.0,1449.4 972.7,1451.3 974.4,1445.4 976.1,1460.8 977.8,1471.4 979.6,1489.1 981.3,1485.9 983.0,1493.4 984.7,1498.5 986.5,1501.3 988.2,1500.9 989.9,1509.1 991.6,1506.5 993.4,1513.6 995.1,1512.8 996.8,1507.9 998.5,1510.8 1000.3,1517.7 1002.0,1511.6 1003.7,1513.9 1005.4,1516.5 1007.1,1511.9 1008.9,1515.3 1010.6,1519.8 1012.3,1518.2 1014.0,1507.4 1015.8,1520.0 1017.5,1513.5 1019.2,1512.1 1020.9,1512.1 1022.7,1519.2 1024.4,1515.9 1026.1,1514.2 1027.8,1511.8 1029.6,1517.3 1031.3,1519.3 1033.0,1511.2 1034.7,1510.8 1036.4,1513.7 1038.2,1517.4 1039.9,1513.6 1041.6,1514.8 1043.3,1512.1 1045.1,1520.0 1046.8,1514.9 1048.5,1516.0 1050.2,1519.6 1052.0,1514.6 1053.7,1515.3 1055.4,1517.0 1057.1,1514.0 1058.8,1520.9 1060.6,1515.8 1062.3,1514.0 1064.0,1514.6 1065.7,1511.7 1067.5,1520.2 1069.2,1521.4 1070.9,1514.9 1072.6,1514.1 1074.4,1507.9 1076.1,1513.6 1077.8,1519.2 1079.5,1512.9 1081.3,1519.1 1083.0,1521.5 1084.7,1507.8 1086.4,1514.8 1088.1,1513.4"/>
<polyline fill="none" stroke="#ff00ff" stroke-width="1.6" stroke-linejoin="round"  points="678.0,1468.2 679.7,1464.5 681.4,1476.2 683.1,1462.3 684.9,1472.2 686.6,1476.0 688.3,1475.1 690.0,1471.1 691.8,1461.7 693.5,1464.0 695.2,1474.1 696.9,1467.4 698.7,1468.5 700.4,1476.4 702.1,1473.3 703.8,1478.9 705.6,1472.7 707.3,1479.6 709.0,1472.4 710.7,1473.2 712.4,1472.5 714.2,1472.7 715.9,1462.1 717.6,1470.2 719.3,1467.1 721.1,1464.4 722.8,1463.6 724.5,1464.8 726.2,1471.5 728.0,1474.4 729.7,1472.8 731.4,1471.2 733.1,1468.6 734.8,1469.2 736.6,1462.9 738.3,1469.3 740.0,1459.3 741.7,1463.4 743.5,1471.5 745.2,1464.3 746.9,1480.4 748.6,1461.7 750.4,1466.9 752.1,1467.0 753.8,1478.1 755.5,1457.7 757.3,1470.6 759.0,1470.0 760.7,1463.3 762.4,1470.3 764.1,1473.9 765.9,1465.9 767.6,1474.8 769.3,1465.5 771.0,1468.8 772.8,1463.5 774.5,1476.0 776.2,1463.0 777.9,1468.1 779.7,1459.2 781.4,1473.2 783.1,1459.9 784.8,1466.1 786.6,1465.6 788.3,1473.7 790.0,1466.9 791.7,1466.4 793.4,1474.4 795.2,1476.1 796.9,1474.1 798.6,1462.3 800.3,1469.3 802.1,1465.2 803.8,1468.7 805.5,1469.6 807.2,1469.1 809.0,1472.5 810.7,1463.9 812.4,1469.5 814.1,1469.2 815.8,1477.8 817.6,1468.9 819.3,1474.1 821.0,1473.2 822.7,1465.1 824.5,1476.4 826.2,1471.7 827.9,1467.4 829.6,1464.7 831.4,1473.5 833.1,1469.1 834.8,1469.4 836.5,1476.9 838.3,1482.2 840.0,1481.1 841.7,1467.9 843.4,1470.5 845.1,1478.1 846.9,1474.5 848.6,1473.3 850.3,1473.1 852.0,1471.4 853.8,1460.0 855.5,1475.4 857.2,1470.6 858.9,1475.4 860.7,1474.7 862.4,1476.1 864.1,1472.7 865.8,1474.5 867.6,1469.8 869.3,1470.5 871.0,1476.4 872.7,1461.7 874.4,1477.9 876.2,1469.9 877.9,1460.5 879.6,1475.6 881.3,1465.0 883.1,1464.5 884.8,1470.2 886.5,1481.7 888.2,1464.6 890.0,1471.6 891.7,1475.0 893.4,1465.5 895.1,1476.0 896.8,1466.7 898.6,1475.2 900.3,1469.6 902.0,1478.0 903.7,1474.5 905.5,1477.3 907.2,1476.2 908.9,1471.6 910.6,1473.5 912.4,1471.7 914.1,1466.0 915.8,1473.3 917.5,1482.5 919.3,1474.3 921.0,1472.4 922.7,1467.6 924.4,1467.5 926.1,1468.0 927.9,1474.2 929.6,1469.7 931.3,1480.6 933.0,1466.4 934.8,1470.9 936.5,1470.6 938.2,1475.2 939.9,1473.0 941.7,1476.8 943.4,1470.4 945.1,1480.3 946.8,1468.4 948.6,1470.7 950.3,1463.0 952.0,1473.8 953.7,1474.1 955.4,1472.6 957.2,1473.5 958.9,1474.3 960.6,1479.5 962.3,1479.5 964.1,1476.8 965.8,1475.4 967.5,1480.1 969.2,1480.0 971.0,1475.5 972.7,1470.2 974.4,1475.1 976.1,1470.6 977.8,1469.1 979.6,1470.2 981.3,1476.4 983.0,1476.4 984.7,1484.0 986.5,1477.9 988.2,1472.0 989.9,1480.1 991.6,1467.5 993.4,1467.1 995.1,1476.5 996.8,1469.8 998.5,1481.9 1000.3,1480.1 1002.0,1476.6 1003.7,1474.7 1005.4,1475.7 1007.1,1479.3 1008.9,1464.7 1010.6,1473.4 1012.3,1473.4 1014.0,1471.4 1015.8,1474.1 1017.5,1476.2 1019.2,1477.9 1020.9,1483.5 1022.7,1467.4 1024.4,1479.9 1026.1,1483.8 1027.8,1479.4 1029.6,1483.5 1031.3,1465.1 1033.0,1473.5 1034.7,1468.1 1036.4,1467.9 1038.2,1472.5 1039.9,1472.5 1041.6,1479.2 1043.3,1476.0 1045.1,1478.7 1046.8,1475.4 1048.5,1479.2 1050.2,1469.2 1052.0,1471.8 1053.7,1476.3 1055.4,1484.3 1057.1,1472.3 1058.8,1471.3 1060.6,1476.2 1062.3,1482.3 1064.0,1473.7 1065.7,1470.6 1067.5,1485.8 1069.2,1473.1 1070.9,1485.3 1072.6,1475.6 1074.4,1467.1 1076.1,1475.6 1077.8,1473.7 1079.5,1477.8 1081.3,1476.2 1083.0,1465.2 1084.7,1469.4 1086.4,1477.9 1088.1,1478.2"/>
</g>
<rect x="678.8" y="1275.2" width="407.5" height="314.79999999999995" fill="none" stroke="#6e6e6e" stroke-width="1.6"/>
<text x="149.52" y="592.40" font-size="26" fill="#1a1a1a" stroke="#fff" stroke-width="0.4" font-family="Liberation Sans">0</text>
<text x="119.56 134.54 149.52" y="505.40" font-size="26" fill="#1a1a1a" stroke="#fff" stroke-width="0.4" font-family="Liberation Sans">500</text>
<text x="119.56 134.54 149.52" y="418.40" font-size="26" fill="#1a1a1a" stroke="#fff" stroke-width="0.4" font-family="Liberation Sans">000</text>
<polygon points="114.52,418.40 112.56,418.40 112.56,403.67 111.44,404.60 110.17,405.49 108.52,406.34 107.12,406.94 107.12,404.73 109.03,403.76 110.55,402.56 111.69,401.26 112.33,399.79 114.52,399.79" fill="#1a1a1a"/>
<text x="119.56 134.54 149.52" y="331.40" font-size="26" fill="#1a1a1a" stroke="#fff" stroke-width="0.4" font-family="Liberation Sans">500</text>
<polygon points="114.52,331.40 112.56,331.40 112.56,316.67 111.44,317.60 110.17,318.49 108.52,319.34 107.12,319.94 107.12,317.73 109.03,316.76 110.55,315.56 111.69,314.26 112.33,312.79 114.52,312.79" fill="#1a1a1a"/>
<text x="104.58 119.56 134.54 149.52" y="244.40" font-size="26" fill="#1a1a1a" stroke="#fff" stroke-width="0.4" font-family="Liberation Sans">2000</text>
<text x="104.58 119.56 134.54 149.52" y="157.40" font-size="26" fill="#1a1a1a" stroke="#fff" stroke-width="0.4" font-family="Liberation Sans">2500</text>
<text x="104.58 119.56 134.54 149.52" y="70.40" font-size="26" fill="#1a1a1a" stroke="#fff" stroke-width="0.4" font-family="Liberation Sans">3000</text>
<text x="226.00" y="605.70" font-size="26" fill="#1a1a1a" stroke="#fff" stroke-width="0.4" font-family="Liberation Sans">0</text>
<polygon points="220.87,605.70 218.90,605.70 218.90,590.97 217.78,591.90 216.51,592.79 214.86,593.64 213.46,594.24 213.46,592.03 215.37,591.06 216.89,589.86 218.03,588.56 218.67,587.09 220.87,587.09" fill="#1a1a1a"/>
<text x="313.82 329.00" y="605.70" font-size="26" fill="#1a1a1a" stroke="#fff" stroke-width="0.4" font-family="Liberation Sans">20</text>
<text x="416.82 432.00" y="605.70" font-size="26" fill="#1a1a1a" stroke="#fff" stroke-width="0.4" font-family="Liberation Sans">30</text>
<text x="519.82 535.00" y="605.70" font-size="26" fill="#1a1a1a" stroke="#fff" stroke-width="0.4" font-family="Liberation Sans">40</text>
<text x="622.82 638.00" y="605.70" font-size="26" fill="#1a1a1a" stroke="#fff" stroke-width="0.4" font-family="Liberation Sans">50</text>
<text x="725.82 741.00" y="605.70" font-size="26" fill="#1a1a1a" stroke="#fff" stroke-width="0.4" font-family="Liberation Sans">60</text>
<text x="828.82 844.00" y="605.70" font-size="26" fill="#1a1a1a" stroke="#fff" stroke-width="0.4" font-family="Liberation Sans">70</text>
<text x="529" y="649.4" text-anchor="middle" font-size="31" font-weight="bold" font-family="Liberation Sans" textLength="253" lengthAdjust="spacingAndGlyphs">2 Theta (Degree)</text>
<text transform="translate(87.7,323.5) rotate(-90)" x="0" y="0" text-anchor="middle" font-size="32" font-weight="bold" font-family="Liberation Sans" textLength="205" lengthAdjust="spacingAndGlyphs">Intensity (A.U)</text>
<line x1="596" y1="59.3" x2="666.5" y2="59.3" stroke="#0000ff" stroke-width="4" stroke-linecap="round"/>
<text x="689.4" y="71.7" font-size="31.4" stroke="#fff" stroke-width="0.4" font-family="Liberation Sans" textLength="115" lengthAdjust="spacingAndGlyphs">XTPU-2</text>
<line x1="596" y1="98.8" x2="666.5" y2="98.8" stroke="#ff0000" stroke-width="4" stroke-linecap="round"/>
<text x="692.2" y="110.1" font-size="31.4" stroke="#fff" stroke-width="0.4" font-family="Liberation Sans" textLength="115" lengthAdjust="spacingAndGlyphs">XTPU-3</text>
<line x1="596" y1="135.8" x2="666.5" y2="135.8" stroke="#000000" stroke-width="4" stroke-linecap="round"/>
<text x="689.4" y="147.1" font-size="31.4" stroke="#fff" stroke-width="0.4" font-family="Liberation Sans" textLength="115" lengthAdjust="spacingAndGlyphs">XTPU-5</text>
<line x1="596" y1="173.6" x2="666.5" y2="173.6" stroke="#ff00ff" stroke-width="4" stroke-linecap="round"/>
<text x="689.4" y="184.3" font-size="31.4" stroke="#fff" stroke-width="0.4" font-family="Liberation Sans" textLength="115" lengthAdjust="spacingAndGlyphs">XTPU-6</text>
<text x="70.11" y="1093.60" font-size="15" fill="#6a6a6a"  font-family="Liberation Sans">0</text>
<text x="53.92 62.02 70.11" y="1043.90" font-size="15" fill="#6a6a6a"  font-family="Liberation Sans">500</text>
<text x="53.92 62.02 70.11" y="994.20" font-size="15" fill="#6a6a6a"  font-family="Liberation Sans">000</text>
<polygon points="51.30,994.20 50.16,994.20 50.16,985.70 49.52,986.24 48.78,986.75 47.83,987.24 47.03,987.59 47.03,986.31 48.12,985.76 49.00,985.06 49.66,984.31 50.03,983.46 51.30,983.46" fill="#6a6a6a"/>
<text x="53.92 62.02 70.11" y="944.50" font-size="15" fill="#6a6a6a"  font-family="Liberation Sans">500</text>
<polygon points="51.30,944.50 50.16,944.50 50.16,936.00 49.52,936.54 48.78,937.05 47.83,937.54 47.03,937.89 47.03,936.61 48.12,936.06 49.00,935.36 49.66,934.61 50.03,933.76 51.30,933.76" fill="#6a6a6a"/>
<text x="45.83 53.92 62.02 70.11" y="894.80" font-size="15" fill="#6a6a6a"  font-family="Liberation Sans">2000</text>
<text x="45.83 53.92 62.02 70.11" y="845.10" font-size="15" fill="#6a6a6a"  font-family="Liberation Sans">2500</text>
<text x="316.71 324.50" y="1129.80" font-size="14" fill="#6a6a6a"  font-family="Liberation Sans">20</text>
<text x="283" y="1154.3" text-anchor="middle" font-size="17" font-weight="bold" font-family="Liberation Sans" textLength="139" lengthAdjust="spacingAndGlyphs">2 Theta (Degree)</text>
<text transform="translate(36.3,972.6) rotate(-90)" text-anchor="middle" font-size="17" font-weight="bold" font-family="Liberation Sans" textLength="114" lengthAdjust="spacingAndGlyphs">Intensity (A.U)</text>
<line x1="118.6" y1="845" x2="160.1" y2="845" stroke="#0000ff" stroke-width="1.6"/>
<text x="165.8" y="848.1" font-size="16.2" fill="#111" stroke="#fff" stroke-width="0.35" font-family="Liberation Sans" dx="0 1.6" textLength="63" lengthAdjust="spacing">XTPU-2</text>
<line x1="118.6" y1="862.3" x2="160.1" y2="862.3" stroke="#ff0000" stroke-width="1.6"/>
<text x="166.7" y="867" font-size="16.2" fill="#111" stroke="#fff" stroke-width="0.35" font-family="Liberation Sans" dx="0 1.6" textLength="63" lengthAdjust="spacing">XTPU-3</text>
<line x1="118.6" y1="885.9" x2="160.1" y2="885.9" stroke="#000000" stroke-width="1.6"/>
<text x="168.6" y="889.7" font-size="16.2" fill="#111" stroke="#fff" stroke-width="0.35" font-family="Liberation Sans" dx="0 1.6" textLength="63" lengthAdjust="spacing">XTPU-5</text>
<line x1="118.6" y1="904.4" x2="160.1" y2="904.4" stroke="#ff00ff" stroke-width="1.6"/>
<text x="168.6" y="910.4" font-size="16.2" fill="#111" stroke="#fff" stroke-width="0.35" font-family="Liberation Sans" dx="0 1.6" textLength="63" lengthAdjust="spacing">XTPU-6</text>
<text x="670.11" y="1108.50" font-size="15" fill="#6a6a6a"  font-family="Liberation Sans">0</text>
<text x="653.92 662.02 670.11" y="1052.90" font-size="15" fill="#6a6a6a"  font-family="Liberation Sans">500</text>
<text x="653.92 662.02 670.11" y="997.30" font-size="15" fill="#6a6a6a"  font-family="Liberation Sans">000</text>
<polygon points="651.30,997.30 650.16,997.30 650.16,988.80 649.52,989.34 648.78,989.85 647.83,990.34 647.03,990.69 647.03,989.41 648.12,988.86 649.00,988.16 649.66,987.41 650.03,986.56 651.30,986.56" fill="#6a6a6a"/>
<text x="653.92 662.02 670.11" y="941.70" font-size="15" fill="#6a6a6a"  font-family="Liberation Sans">500</text>
<polygon points="651.30,941.70 650.16,941.70 650.16,933.20 649.52,933.74 648.78,934.25 647.83,934.74 647.03,935.09 647.03,933.81 648.12,933.26 649.00,932.56 649.66,931.81 650.03,930.96 651.30,930.96" fill="#6a6a6a"/>
<text x="645.83 653.92 662.02 670.11" y="886.10" font-size="15" fill="#6a6a6a"  font-family="Liberation Sans">2000</text>
<text x="645.83 653.92 662.02 670.11" y="830.50" font-size="15" fill="#6a6a6a"  font-family="Liberation Sans">2500</text>
<text x="678.58 686.36 694.15 698.04" y="1129.80" font-size="14" fill="#6a6a6a"  font-family="Liberation Sans">25.5</text>
<text x="725.85 733.64 741.42 745.31" y="1129.80" font-size="14" fill="#6a6a6a"  font-family="Liberation Sans">26.0</text>
<text x="773.13 780.91 788.70 792.59" y="1129.80" font-size="14" fill="#6a6a6a"  font-family="Liberation Sans">26.5</text>
<text x="820.40 828.19 835.97 839.86" y="1129.80" font-size="14" fill="#6a6a6a"  font-family="Liberation Sans">27.0</text>
<text x="867.68 875.46 883.25 887.14" y="1129.80" font-size="14" fill="#6a6a6a"  font-family="Liberation Sans">27.5</text>
<text x="914.95 922.74 930.52 934.41" y="1129.80" font-size="14" fill="#6a6a6a"  font-family="Liberation Sans">28.0</text>
<text x="962.23 970.01 977.80 981.69" y="1129.80" font-size="14" fill="#6a6a6a"  font-family="Liberation Sans">28.5</text>
<text x="1009.50 1017.29 1025.07 1028.96" y="1129.80" font-size="14" fill="#6a6a6a"  font-family="Liberation Sans">29.0</text>
<text x="1056.78 1064.56 1072.35 1076.24" y="1129.80" font-size="14" fill="#6a6a6a"  font-family="Liberation Sans">29.5</text>
<text x="882" y="1154.3" text-anchor="middle" font-size="17" font-weight="bold" font-family="Liberation Sans" textLength="139" lengthAdjust="spacingAndGlyphs">2 Theta (Degree)</text>
<text transform="translate(636.2,972.7) rotate(-90)" text-anchor="middle" font-size="17" font-weight="bold" font-family="Liberation Sans" textLength="114" lengthAdjust="spacingAndGlyphs">Intensity (A.U)</text>
<line x1="918.1" y1="829.5" x2="958.6" y2="829.5" stroke="#0000ff" stroke-width="1.6"/>
<text x="963.5" y="833.5" font-size="16.2" fill="#111" stroke="#fff" stroke-width="0.35" font-family="Liberation Sans" dx="0 1.6" textLength="63" lengthAdjust="spacing">XTPU-2</text>
<line x1="918.1" y1="847.2" x2="958.6" y2="847.2" stroke="#ff0000" stroke-width="1.6"/>
<text x="961.5" y="854.4" font-size="16.2" fill="#111" stroke="#fff" stroke-width="0.35" font-family="Liberation Sans" dx="0 1.6" textLength="63" lengthAdjust="spacing">XTPU-3</text>
<line x1="918.1" y1="870.3" x2="958.6" y2="870.3" stroke="#000000" stroke-width="1.6"/>
<text x="961.5" y="875.8" font-size="16.2" fill="#111" stroke="#fff" stroke-width="0.35" font-family="Liberation Sans" dx="0 1.6" textLength="63" lengthAdjust="spacing">XTPU-5</text>
<line x1="918.1" y1="888.7" x2="958.6" y2="888.7" stroke="#ff00ff" stroke-width="1.6"/>
<text x="963.5" y="896" font-size="16.2" fill="#111" stroke="#fff" stroke-width="0.35" font-family="Liberation Sans" dx="0 1.6" textLength="63" lengthAdjust="spacing">XTPU-6</text>
<text x="53.82 61.92 70.01" y="1490.00" font-size="15" fill="#6a6a6a"  font-family="Liberation Sans">500</text>
<text x="53.82 61.92 70.01" y="1343.00" font-size="15" fill="#6a6a6a"  font-family="Liberation Sans">000</text>
<polygon points="51.20,1343.00 50.06,1343.00 50.06,1334.50 49.42,1335.04 48.68,1335.55 47.73,1336.04 46.93,1336.39 46.93,1335.11 48.02,1334.56 48.90,1333.86 49.56,1333.11 49.93,1332.26 51.20,1332.26" fill="#6a6a6a"/>
<text x="84.98 92.76 100.55 104.44" y="1601.80" font-size="14" fill="#6a6a6a"  font-family="Liberation Sans">35.0</text>
<text x="158.13 165.91 173.70 177.59" y="1601.80" font-size="14" fill="#6a6a6a"  font-family="Liberation Sans">35.5</text>
<text x="231.28 239.06 246.85 250.74" y="1601.80" font-size="14" fill="#6a6a6a"  font-family="Liberation Sans">36.0</text>
<text x="304.43 312.21 320.00 323.89" y="1601.80" font-size="14" fill="#6a6a6a"  font-family="Liberation Sans">36.5</text>
<text x="377.58 385.36 393.15 397.04" y="1601.80" font-size="14" fill="#6a6a6a"  font-family="Liberation Sans">37.0</text>
<text x="450.73 458.51 466.30 470.19" y="1601.80" font-size="14" fill="#6a6a6a"  font-family="Liberation Sans">37.5</text>
<text x="283" y="1626.3" text-anchor="middle" font-size="17" font-weight="bold" font-family="Liberation Sans" textLength="139" lengthAdjust="spacingAndGlyphs">2 Theta (Degree)</text>
<text transform="translate(36.3,1444.6) rotate(-90)" text-anchor="middle" font-size="17" font-weight="bold" font-family="Liberation Sans" textLength="114" lengthAdjust="spacingAndGlyphs">Intensity (A.U)</text>
<line x1="349.3" y1="1313.3" x2="390.9" y2="1313.3" stroke="#0000ff" stroke-width="1.6"/>
<text x="392.7" y="1318.1" font-size="16.2" fill="#111" stroke="#fff" stroke-width="0.35" font-family="Liberation Sans" dx="0 1.6" textLength="63" lengthAdjust="spacing">XTPU-2</text>
<line x1="349.3" y1="1331.2" x2="390.9" y2="1331.2" stroke="#ff0000" stroke-width="1.6"/>
<text x="391.5" y="1336.7" font-size="16.2" fill="#111" stroke="#fff" stroke-width="0.35" font-family="Liberation Sans" dx="0 1.6" textLength="63" lengthAdjust="spacing">XTPU-3</text>
<line x1="349.3" y1="1354.4" x2="390.9" y2="1354.4" stroke="#000000" stroke-width="1.6"/>
<text x="391.5" y="1359.8" font-size="16.2" fill="#111" stroke="#fff" stroke-width="0.35" font-family="Liberation Sans" dx="0 1.6" textLength="63" lengthAdjust="spacing">XTPU-5</text>
<line x1="349.3" y1="1372.9" x2="390.9" y2="1372.9" stroke="#ff00ff" stroke-width="1.6"/>
<text x="393.8" y="1380.1" font-size="16.2" fill="#111" stroke="#fff" stroke-width="0.35" font-family="Liberation Sans" dx="0 1.6" textLength="63" lengthAdjust="spacing">XTPU-6</text>
<text x="670.41" y="1571.70" font-size="15" fill="#6a6a6a"  font-family="Liberation Sans">0</text>
<text x="654.22 662.32 670.41" y="1445.95" font-size="15" fill="#6a6a6a"  font-family="Liberation Sans">500</text>
<text x="654.22 662.32 670.41" y="1320.20" font-size="15" fill="#6a6a6a"  font-family="Liberation Sans">000</text>
<polygon points="651.60,1320.20 650.46,1320.20 650.46,1311.70 649.82,1312.24 649.08,1312.75 648.13,1313.24 647.33,1313.59 647.33,1312.31 648.42,1311.76 649.30,1311.06 649.96,1310.31 650.33,1309.46 651.60,1309.46" fill="#6a6a6a"/>
<text x="752.91 760.70" y="1601.80" font-size="14" fill="#6a6a6a"  font-family="Liberation Sans">54</text>
<text x="839.08 846.87" y="1601.80" font-size="14" fill="#6a6a6a"  font-family="Liberation Sans">55</text>
<text x="925.25 933.04" y="1601.80" font-size="14" fill="#6a6a6a"  font-family="Liberation Sans">56</text>
<text x="1011.42 1019.21" y="1601.80" font-size="14" fill="#6a6a6a"  font-family="Liberation Sans">57</text>
<text x="882" y="1626.3" text-anchor="middle" font-size="17" font-weight="bold" font-family="Liberation Sans" textLength="139" lengthAdjust="spacingAndGlyphs">2 Theta (Degree)</text>
<text transform="translate(636.2,1444.6) rotate(-90)" text-anchor="middle" font-size="17" font-weight="bold" font-family="Liberation Sans" textLength="114" lengthAdjust="spacingAndGlyphs">Intensity (A.U)</text>
<line x1="936.9" y1="1319.2" x2="978" y2="1319.2" stroke="#0000ff" stroke-width="1.6"/>
<text x="980.9" y="1325.8" font-size="16.2" fill="#111" stroke="#fff" stroke-width="0.35" font-family="Liberation Sans" dx="0 1.6" textLength="63" lengthAdjust="spacing">XTPU-2</text>
<line x1="936.9" y1="1336.8" x2="978" y2="1336.8" stroke="#ff0000" stroke-width="1.6"/>
<text x="980" y="1342.3" font-size="16.2" fill="#111" stroke="#fff" stroke-width="0.35" font-family="Liberation Sans" dx="0 1.6" textLength="63" lengthAdjust="spacing">XTPU-3</text>
<line x1="936.9" y1="1360" x2="978" y2="1360" stroke="#000000" stroke-width="1.6"/>
<text x="980" y="1365.4" font-size="16.2" fill="#111" stroke="#fff" stroke-width="0.35" font-family="Liberation Sans" dx="0 1.6" textLength="63" lengthAdjust="spacing">XTPU-5</text>
<line x1="936.9" y1="1378.5" x2="978" y2="1378.5" stroke="#ff00ff" stroke-width="1.6"/>
<text x="982.1" y="1385.4" font-size="16.2" fill="#111" stroke="#fff" stroke-width="0.35" font-family="Liberation Sans" dx="0 1.6" textLength="63" lengthAdjust="spacing">XTPU-6</text>
</svg>
</body></html>
